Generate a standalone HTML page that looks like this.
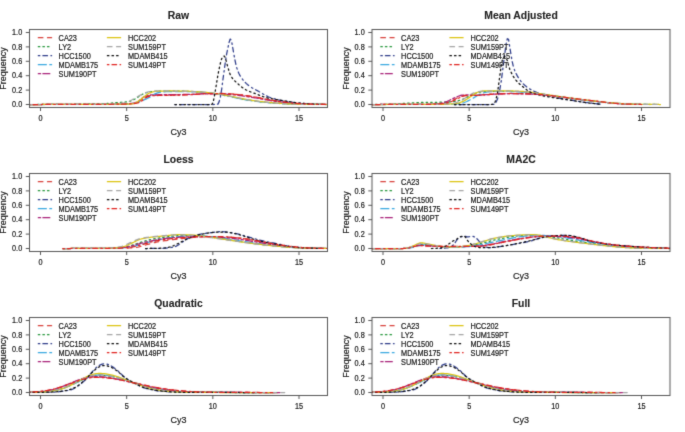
<!DOCTYPE html>
<html><head><meta charset="utf-8"><title>Cy3 density</title>
<style>
html,body{margin:0;padding:0;background:#fff;}
body{width:685px;height:432px;overflow:hidden;}
svg{display:block;font-family:"Liberation Sans", sans-serif;}
text{fill:#262626;stroke:#262626;stroke-width:0.2px;}
</style></head><body>
<svg width="685" height="432" viewBox="0 0 685 432">
<rect width="685" height="432" fill="#fff"/>
<defs>
<filter id="bl" x="0" y="0" width="685" height="432" filterUnits="userSpaceOnUse" color-interpolation-filters="sRGB"><feConvolveMatrix order="3" kernelMatrix="0.0169 0.0962 0.0169 0.0962 0.5476 0.0962 0.0169 0.0962 0.0169" divisor="1" edgeMode="duplicate"/></filter>
<filter id="blt" x="0" y="0" width="685" height="432" filterUnits="userSpaceOnUse" color-interpolation-filters="sRGB"><feConvolveMatrix order="3" kernelMatrix="0.0100 0.0800 0.0100 0.0800 0.6400 0.0800 0.0100 0.0800 0.0100" divisor="1" edgeMode="duplicate"/></filter>
<clipPath id="c00"><rect x="29.5" y="29.5" width="298" height="78"/></clipPath>
<clipPath id="c01"><rect x="29.5" y="173.5" width="298" height="78"/></clipPath>
<clipPath id="c02"><rect x="29.5" y="317.5" width="298" height="78"/></clipPath>
<clipPath id="c10"><rect x="372" y="29.5" width="298" height="78"/></clipPath>
<clipPath id="c11"><rect x="372" y="173.5" width="298" height="78"/></clipPath>
<clipPath id="c12"><rect x="372" y="317.5" width="298" height="78"/></clipPath>
</defs>
<g filter="url(#bl)">
<g clip-path="url(#c00)" fill="none" stroke-width="1.25" stroke-linejoin="round" stroke-linecap="round">
<polyline points="28.44,104.5 29.67,104.5 30.89,104.5 32.12,104.5 33.35,104.5 34.58,104.5 35.81,104.5 37.04,104.5 38.27,104.5 39.5,104.5 40.73,104.5 41.95,104.5 43.18,104.49 44.41,104.49 45.64,104.49 46.87,104.49 48.1,104.49 49.33,104.49 50.56,104.49 51.79,104.49 53.02,104.48 54.24,104.48 55.47,104.48 56.7,104.48 57.93,104.48 59.16,104.47 60.39,104.47 61.62,104.47 62.85,104.47 64.08,104.46 65.3,104.46 66.53,104.46 67.76,104.46 68.99,104.45 70.22,104.45 71.45,104.45 72.68,104.44 73.91,104.44 75.14,104.43 76.36,104.43 77.59,104.43 78.82,104.42 80.05,104.42 81.28,104.41 82.51,104.41 83.74,104.4 84.97,104.4 86.2,104.4 87.42,104.39 88.65,104.38 89.88,104.38 91.11,104.37 92.34,104.37 93.57,104.36 94.8,104.36 96.03,104.35 97.26,104.34 98.48,104.34 99.71,104.33 100.94,104.32 102.17,104.32 103.4,104.31 104.63,104.3 105.86,104.3 107.09,104.29 108.32,104.28 109.55,104.27 110.77,104.26 112,104.26 113.23,104.25 114.46,104.24 115.69,104.23 116.92,104.22 118.15,104.21 119.38,104.2 120.61,104.18 121.83,104.15 123.06,104.11 124.29,104.07 125.52,104.02 126.75,103.96 127.98,103.89 129.21,103.82 130.44,103.74 131.67,103.65 132.89,103.53 134.12,103.33 135.35,103.07 136.58,102.75 137.81,102.37 139.04,101.75 140.27,100.85 141.5,99.8 142.73,98.75 143.95,97.84 145.18,97.19 146.41,96.66 147.64,96.17 148.87,95.76 150.1,95.5 151.33,95.4 152.56,95.34 153.79,95.3 155.01,95.26 156.24,95.23 157.47,95.2 158.7,95.18 159.93,95.16 161.16,95.14 162.39,95.12 163.62,95.1 164.85,95.09 166.07,95.07 167.3,95.06 168.53,95.05 169.76,95.03 170.99,95.02 172.22,95.01 173.45,95 174.68,94.98 175.91,94.96 177.14,94.95 178.36,94.92 179.59,94.9 180.82,94.87 182.05,94.84 183.28,94.8 184.51,94.76 185.74,94.72 186.97,94.68 188.2,94.63 189.42,94.58 190.65,94.52 191.88,94.47 193.11,94.41 194.34,94.34 195.57,94.28 196.8,94.19 198.03,94.07 199.26,93.94 200.48,93.8 201.71,93.69 202.94,93.6 204.17,93.56 205.4,93.55 206.63,93.54 207.86,93.53 209.09,93.52 210.32,93.51 211.54,93.51 212.77,93.5 214,93.5 215.23,93.49 216.46,93.49 217.69,93.49 218.92,93.49 220.15,93.48 221.38,93.48 222.6,93.49 223.83,93.52 225.06,93.56 226.29,93.61 227.52,93.67 228.75,93.75 229.98,93.82 231.21,93.9 232.44,93.99 233.66,94.07 234.89,94.16 236.12,94.27 237.35,94.39 238.58,94.52 239.81,94.66 241.04,94.81 242.27,94.97 243.5,95.12 244.73,95.29 245.95,95.46 247.18,95.64 248.41,95.84 249.64,96.04 250.87,96.25 252.1,96.47 253.33,96.69 254.56,96.91 255.79,97.13 257.01,97.36 258.24,97.59 259.47,97.83 260.7,98.07 261.93,98.31 263.16,98.56 264.39,98.8 265.62,99.03 266.85,99.26 268.07,99.48 269.3,99.69 270.53,99.9 271.76,100.1 272.99,100.31 274.22,100.51 275.45,100.7 276.68,100.89 277.91,101.08 279.13,101.26 280.36,101.43 281.59,101.6 282.82,101.76 284.05,101.91 285.28,102.06 286.51,102.2 287.74,102.34 288.97,102.48 290.19,102.61 291.42,102.74 292.65,102.87 293.88,103.01 295.11,103.14 296.34,103.27 297.57,103.39 298.8,103.51 300.03,103.61 301.26,103.7 302.48,103.78 303.71,103.85 304.94,103.92 306.17,103.99 307.4,104.05 308.63,104.11 309.86,104.16 311.09,104.21 312.32,104.25 313.54,104.29 314.77,104.32 316,104.35 317.23,104.37 318.46,104.4 319.69,104.42 320.92,104.44 322.15,104.45 323.38,104.47 324.6,104.48 325.83,104.49 327.06,104.5 328.29,104.5" stroke="#d8403a" stroke-dasharray="4.60 4.60"/>
<polyline points="28.44,104.5 29.67,104.5 30.89,104.5 32.12,104.5 33.35,104.5 34.58,104.5 35.81,104.49 37.04,104.49 38.27,104.49 39.5,104.48 40.73,104.48 41.95,104.48 43.18,104.47 44.41,104.47 45.64,104.46 46.87,104.46 48.1,104.45 49.33,104.44 50.56,104.44 51.79,104.43 53.02,104.42 54.24,104.41 55.47,104.4 56.7,104.4 57.93,104.39 59.16,104.38 60.39,104.37 61.62,104.35 62.85,104.34 64.08,104.33 65.3,104.32 66.53,104.31 67.76,104.29 68.99,104.28 70.22,104.27 71.45,104.25 72.68,104.24 73.91,104.22 75.14,104.21 76.36,104.19 77.59,104.18 78.82,104.16 80.05,104.14 81.28,104.12 82.51,104.11 83.74,104.09 84.97,104.07 86.2,104.05 87.42,104.03 88.65,104.01 89.88,103.99 91.11,103.97 92.34,103.94 93.57,103.92 94.8,103.9 96.03,103.88 97.26,103.85 98.48,103.83 99.71,103.8 100.94,103.78 102.17,103.74 103.4,103.69 104.63,103.63 105.86,103.56 107.09,103.47 108.32,103.38 109.55,103.28 110.77,103.17 112,103.06 113.23,102.95 114.46,102.84 115.69,102.73 116.92,102.62 118.15,102.52 119.38,102.42 120.61,102.33 121.83,102.25 123.06,102.17 124.29,102.09 125.52,101.99 126.75,101.87 127.98,101.72 129.21,101.5 130.44,101.13 131.67,100.65 132.89,100.09 134.12,99.48 135.35,98.86 136.58,98.17 137.81,97.33 139.04,96.43 140.27,95.55 141.5,94.77 142.73,94.16 143.95,93.58 145.18,93.04 146.41,92.56 147.64,92.18 148.87,91.93 150.1,91.78 151.33,91.65 152.56,91.53 153.79,91.42 155.01,91.33 156.24,91.25 157.47,91.19 158.7,91.15 159.93,91.12 161.16,91.11 162.39,91.11 163.62,91.11 164.85,91.11 166.07,91.11 167.3,91.11 168.53,91.11 169.76,91.11 170.99,91.11 172.22,91.11 173.45,91.11 174.68,91.11 175.91,91.11 177.14,91.11 178.36,91.11 179.59,91.11 180.82,91.13 182.05,91.16 183.28,91.19 184.51,91.23 185.74,91.28 186.97,91.34 188.2,91.4 189.42,91.47 190.65,91.54 191.88,91.61 193.11,91.68 194.34,91.75 195.57,91.83 196.8,91.9 198.03,91.99 199.26,92.08 200.48,92.19 201.71,92.3 202.94,92.42 204.17,92.54 205.4,92.67 206.63,92.81 207.86,92.95 209.09,93.09 210.32,93.24 211.54,93.39 212.77,93.55 214,93.71 215.23,93.89 216.46,94.08 217.69,94.28 218.92,94.49 220.15,94.71 221.38,94.93 222.6,95.16 223.83,95.39 225.06,95.63 226.29,95.86 227.52,96.1 228.75,96.33 229.98,96.56 231.21,96.8 232.44,97.04 233.66,97.28 234.89,97.53 236.12,97.78 237.35,98.04 238.58,98.29 239.81,98.54 241.04,98.78 242.27,99.02 243.5,99.25 244.73,99.46 245.95,99.67 247.18,99.88 248.41,100.08 249.64,100.28 250.87,100.47 252.1,100.65 253.33,100.83 254.56,101.01 255.79,101.17 257.01,101.33 258.24,101.49 259.47,101.64 260.7,101.78 261.93,101.93 263.16,102.07 264.39,102.2 265.62,102.33 266.85,102.45 268.07,102.57 269.3,102.68 270.53,102.79 271.76,102.9 272.99,103.01 274.22,103.11 275.45,103.21 276.68,103.31 277.91,103.4 279.13,103.48 280.36,103.56 281.59,103.63 282.82,103.69 284.05,103.75 285.28,103.81 286.51,103.87 287.74,103.93 288.97,103.98 290.19,104.04 291.42,104.08 292.65,104.13 293.88,104.17 295.11,104.2 296.34,104.24 297.57,104.26 298.8,104.28 300.03,104.3 301.26,104.31 302.48,104.33 303.71,104.34 304.94,104.36 306.17,104.37 307.4,104.38 308.63,104.4 309.86,104.41 311.09,104.42 312.32,104.43 313.54,104.44 314.77,104.45 316,104.46 317.23,104.46 318.46,104.47 319.69,104.48 320.92,104.48 322.15,104.49 323.38,104.49 324.6,104.5 325.83,104.5 327.06,104.5 328.29,104.5" stroke="#24963a" stroke-dasharray="1.5 3.1"/>
<polyline points="174.92,104.5 176.15,104.5 177.38,104.5 178.6,104.5 179.83,104.5 181.06,104.5 182.29,104.5 183.52,104.5 184.75,104.5 185.98,104.5 187.21,104.5 188.44,104.5 189.66,104.5 190.89,104.5 192.12,104.5 193.35,104.5 194.58,104.5 195.81,104.5 197.04,104.5 198.27,104.5 199.5,104.5 200.72,104.5 201.95,104.5 203.18,104.5 204.41,104.5 205.64,104.5 206.87,104.5 208.1,104.5 209.33,104.5 210.56,104.5 211.78,104.5 213.01,104.5 214.24,104.48 215.47,104.43 216.7,104.33 217.93,104.18 219.16,101.61 220.39,96.7 221.62,89.72 222.84,80.19 224.07,71.38 225.3,62.48 226.53,54.65 227.76,48.51 228.99,42.74 230.22,39.06 231.45,40.18 232.68,47.46 233.91,54.4 235.13,60.76 236.36,66.49 237.59,70.41 238.82,73.31 240.05,75.69 241.28,77.65 242.51,79.33 243.74,80.82 244.97,82.16 246.19,83.36 247.42,84.45 248.65,85.44 249.88,86.35 251.11,87.19 252.34,87.95 253.57,88.66 254.8,89.33 256.03,89.99 257.25,90.64 258.48,91.32 259.71,92.02 260.94,92.74 262.17,93.47 263.4,94.19 264.63,94.89 265.86,95.56 267.09,96.19 268.31,96.75 269.54,97.24 270.77,97.68 272,98.08 273.23,98.46 274.46,98.82 275.69,99.16 276.92,99.48 278.15,99.77 279.37,100.05 280.6,100.31 281.83,100.55 283.06,100.79 284.29,101.01 285.52,101.23 286.75,101.44 287.98,101.65 289.21,101.84 290.44,102.03 291.66,102.2 292.89,102.37 294.12,102.53 295.35,102.68 296.58,102.82 297.81,102.95 299.04,103.06 300.27,103.17 301.5,103.28 302.72,103.38 303.95,103.48 305.18,103.57 306.41,103.66 307.64,103.74 308.87,103.82 310.1,103.9 311.33,103.97 312.56,104.04 313.78,104.1 315.01,104.16 316.24,104.21 317.47,104.26 318.7,104.31 319.93,104.36 321.16,104.4 322.39,104.44 323.62,104.47 324.84,104.5" stroke="#2c3a88" stroke-dasharray="1.5 3.1 4.6 3.45"/>
<polyline points="28.44,104.5 29.67,104.5 30.89,104.5 32.12,104.5 33.35,104.5 34.58,104.5 35.81,104.5 37.04,104.5 38.27,104.5 39.5,104.5 40.73,104.5 41.95,104.5 43.18,104.5 44.41,104.5 45.64,104.49 46.87,104.49 48.1,104.49 49.33,104.49 50.56,104.49 51.79,104.49 53.02,104.49 54.24,104.49 55.47,104.49 56.7,104.48 57.93,104.48 59.16,104.48 60.39,104.48 61.62,104.48 62.85,104.47 64.08,104.47 65.3,104.47 66.53,104.47 67.76,104.46 68.99,104.46 70.22,104.46 71.45,104.46 72.68,104.45 73.91,104.45 75.14,104.45 76.36,104.44 77.59,104.44 78.82,104.43 80.05,104.43 81.28,104.43 82.51,104.42 83.74,104.42 84.97,104.41 86.2,104.41 87.42,104.4 88.65,104.4 89.88,104.39 91.11,104.39 92.34,104.38 93.57,104.38 94.8,104.37 96.03,104.36 97.26,104.36 98.48,104.35 99.71,104.34 100.94,104.34 102.17,104.33 103.4,104.32 104.63,104.31 105.86,104.31 107.09,104.3 108.32,104.29 109.55,104.28 110.77,104.27 112,104.26 113.23,104.26 114.46,104.25 115.69,104.24 116.92,104.23 118.15,104.22 119.38,104.21 120.61,104.2 121.83,104.18 123.06,104.17 124.29,104.16 125.52,104.15 126.75,104.14 127.98,104.1 129.21,104 130.44,103.86 131.67,103.69 132.89,103.49 134.12,103.28 135.35,103.05 136.58,102.75 137.81,102.35 139.04,101.88 140.27,101.39 141.5,100.9 142.73,100.41 143.95,99.91 145.18,99.39 146.41,98.84 147.64,98.27 148.87,97.66 150.1,97.03 151.33,96.33 152.56,95.45 153.79,94.54 155.01,93.81 156.24,93.33 157.47,92.91 158.7,92.56 159.93,92.29 161.16,92.11 162.39,92 163.62,91.89 164.85,91.8 166.07,91.71 167.3,91.65 168.53,91.59 169.76,91.56 170.99,91.54 172.22,91.54 173.45,91.54 174.68,91.54 175.91,91.54 177.14,91.54 178.36,91.54 179.59,91.54 180.82,91.54 182.05,91.54 183.28,91.54 184.51,91.54 185.74,91.54 186.97,91.54 188.2,91.55 189.42,91.57 190.65,91.6 191.88,91.64 193.11,91.69 194.34,91.75 195.57,91.82 196.8,91.89 198.03,91.97 199.26,92.05 200.48,92.14 201.71,92.23 202.94,92.31 204.17,92.4 205.4,92.49 206.63,92.59 207.86,92.7 209.09,92.81 210.32,92.94 211.54,93.07 212.77,93.21 214,93.36 215.23,93.52 216.46,93.68 217.69,93.85 218.92,94.03 220.15,94.22 221.38,94.41 222.6,94.62 223.83,94.88 225.06,95.16 226.29,95.46 227.52,95.78 228.75,96.11 229.98,96.43 231.21,96.75 232.44,97.05 233.66,97.33 234.89,97.61 236.12,97.88 237.35,98.14 238.58,98.41 239.81,98.67 241.04,98.92 242.27,99.16 243.5,99.39 244.73,99.61 245.95,99.82 247.18,100.02 248.41,100.22 249.64,100.41 250.87,100.59 252.1,100.77 253.33,100.93 254.56,101.09 255.79,101.24 257.01,101.39 258.24,101.53 259.47,101.67 260.7,101.8 261.93,101.93 263.16,102.05 264.39,102.17 265.62,102.29 266.85,102.4 268.07,102.51 269.3,102.62 270.53,102.72 271.76,102.81 272.99,102.9 274.22,102.99 275.45,103.08 276.68,103.17 277.91,103.25 279.13,103.33 280.36,103.41 281.59,103.49 282.82,103.56 284.05,103.63 285.28,103.7 286.51,103.76 287.74,103.82 288.97,103.87 290.19,103.92 291.42,103.96 292.65,104 293.88,104.04 295.11,104.08 296.34,104.12 297.57,104.15 298.8,104.19 300.03,104.22 301.26,104.25 302.48,104.27 303.71,104.3 304.94,104.32 306.17,104.34 307.4,104.35 308.63,104.37 309.86,104.38 311.09,104.39 312.32,104.41 313.54,104.42 314.77,104.43 316,104.44 317.23,104.45 318.46,104.46 319.69,104.47 320.92,104.48 322.15,104.48 323.38,104.49 324.6,104.49 325.83,104.5 327.06,104.5 328.29,104.5" stroke="#38a8e0" stroke-dasharray="8.05 3.45"/>
<polyline points="28.44,104.5 29.67,104.5 30.89,104.5 32.12,104.5 33.35,104.5 34.58,104.5 35.81,104.5 37.04,104.5 38.27,104.5 39.5,104.5 40.73,104.5 41.95,104.49 43.18,104.49 44.41,104.49 45.64,104.49 46.87,104.49 48.1,104.49 49.33,104.49 50.56,104.49 51.79,104.48 53.02,104.48 54.24,104.48 55.47,104.48 56.7,104.48 57.93,104.47 59.16,104.47 60.39,104.47 61.62,104.47 62.85,104.46 64.08,104.46 65.3,104.46 66.53,104.45 67.76,104.45 68.99,104.45 70.22,104.44 71.45,104.44 72.68,104.44 73.91,104.43 75.14,104.43 76.36,104.42 77.59,104.42 78.82,104.42 80.05,104.41 81.28,104.41 82.51,104.4 83.74,104.4 84.97,104.39 86.2,104.38 87.42,104.38 88.65,104.37 89.88,104.37 91.11,104.36 92.34,104.36 93.57,104.35 94.8,104.34 96.03,104.34 97.26,104.33 98.48,104.32 99.71,104.31 100.94,104.31 102.17,104.3 103.4,104.29 104.63,104.28 105.86,104.28 107.09,104.27 108.32,104.26 109.55,104.25 110.77,104.24 112,104.23 113.23,104.22 114.46,104.21 115.69,104.2 116.92,104.18 118.15,104.15 119.38,104.12 120.61,104.07 121.83,104.02 123.06,103.96 124.29,103.9 125.52,103.83 126.75,103.75 127.98,103.66 129.21,103.57 130.44,103.46 131.67,103.31 132.89,103.1 134.12,102.82 135.35,102.5 136.58,102.12 137.81,101.61 139.04,100.77 140.27,99.72 141.5,98.62 142.73,97.63 143.95,96.91 145.18,96.37 146.41,95.86 147.64,95.43 148.87,95.12 150.1,94.99 151.33,94.93 152.56,94.88 153.79,94.84 155.01,94.81 156.24,94.78 157.47,94.76 158.7,94.74 159.93,94.72 161.16,94.71 162.39,94.69 163.62,94.68 164.85,94.67 166.07,94.66 167.3,94.65 168.53,94.64 169.76,94.63 170.99,94.63 172.22,94.62 173.45,94.61 174.68,94.6 175.91,94.59 177.14,94.58 178.36,94.56 179.59,94.55 180.82,94.53 182.05,94.51 183.28,94.49 184.51,94.47 185.74,94.45 186.97,94.42 188.2,94.39 189.42,94.37 190.65,94.34 191.88,94.31 193.11,94.27 194.34,94.24 195.57,94.2 196.8,94.16 198.03,94.1 199.26,94.03 200.48,93.96 201.71,93.9 202.94,93.86 204.17,93.84 205.4,93.84 206.63,93.85 207.86,93.85 209.09,93.86 210.32,93.86 211.54,93.87 212.77,93.88 214,93.89 215.23,93.91 216.46,93.92 217.69,93.93 218.92,93.95 220.15,93.97 221.38,93.99 222.6,94.01 223.83,94.06 225.06,94.12 226.29,94.19 227.52,94.28 228.75,94.37 229.98,94.47 231.21,94.58 232.44,94.69 233.66,94.79 234.89,94.91 236.12,95.05 237.35,95.19 238.58,95.35 239.81,95.52 241.04,95.69 242.27,95.87 243.5,96.05 244.73,96.22 245.95,96.4 247.18,96.59 248.41,96.78 249.64,96.97 250.87,97.17 252.1,97.38 253.33,97.58 254.56,97.79 255.79,98 257.01,98.21 258.24,98.43 259.47,98.66 260.7,98.88 261.93,99.11 263.16,99.34 264.39,99.57 265.62,99.79 266.85,100 268.07,100.2 269.3,100.39 270.53,100.58 271.76,100.76 272.99,100.94 274.22,101.12 275.45,101.3 276.68,101.47 277.91,101.63 279.13,101.79 280.36,101.95 281.59,102.1 282.82,102.25 284.05,102.4 285.28,102.54 286.51,102.68 287.74,102.81 288.97,102.93 290.19,103.04 291.42,103.15 292.65,103.26 293.88,103.36 295.11,103.46 296.34,103.55 297.57,103.64 298.8,103.72 300.03,103.8 301.26,103.87 302.48,103.93 303.71,103.98 304.94,104.03 306.17,104.08 307.4,104.12 308.63,104.16 309.86,104.2 311.09,104.24 312.32,104.27 313.54,104.3 314.77,104.33 316,104.35 317.23,104.37 318.46,104.39 319.69,104.41 320.92,104.43 322.15,104.45 323.38,104.46 324.6,104.48 325.83,104.49 327.06,104.49 328.29,104.5" stroke="#a82078" stroke-dasharray="2.30 2.30 6.90 2.30"/>
<polyline points="28.44,104.5 29.67,104.5 30.89,104.5 32.12,104.5 33.35,104.5 34.58,104.5 35.81,104.5 37.04,104.5 38.27,104.5 39.5,104.5 40.73,104.5 41.95,104.49 43.18,104.49 44.41,104.49 45.64,104.49 46.87,104.49 48.1,104.49 49.33,104.49 50.56,104.48 51.79,104.48 53.02,104.48 54.24,104.48 55.47,104.48 56.7,104.48 57.93,104.47 59.16,104.47 60.39,104.47 61.62,104.47 62.85,104.46 64.08,104.46 65.3,104.46 66.53,104.45 67.76,104.45 68.99,104.45 70.22,104.44 71.45,104.44 72.68,104.44 73.91,104.43 75.14,104.43 76.36,104.42 77.59,104.42 78.82,104.42 80.05,104.41 81.28,104.41 82.51,104.4 83.74,104.4 84.97,104.39 86.2,104.39 87.42,104.38 88.65,104.38 89.88,104.37 91.11,104.37 92.34,104.36 93.57,104.36 94.8,104.35 96.03,104.34 97.26,104.34 98.48,104.33 99.71,104.32 100.94,104.32 102.17,104.31 103.4,104.3 104.63,104.3 105.86,104.29 107.09,104.28 108.32,104.28 109.55,104.27 110.77,104.26 112,104.25 113.23,104.24 114.46,104.24 115.69,104.23 116.92,104.22 118.15,104.21 119.38,104.2 120.61,104.19 121.83,104.17 123.06,104.15 124.29,104.12 125.52,104.09 126.75,104.06 127.98,104.01 129.21,103.96 130.44,103.91 131.67,103.79 132.89,103.6 134.12,103.36 135.35,103.01 136.58,102.36 137.81,101.5 139.04,100.57 140.27,99.7 141.5,98.77 142.73,97.8 143.95,96.86 145.18,95.93 146.41,94.95 147.64,94.03 148.87,93.29 150.1,92.8 151.33,92.37 152.56,92 153.79,91.7 155.01,91.49 156.24,91.38 157.47,91.31 158.7,91.24 159.93,91.19 161.16,91.13 162.39,91.09 163.62,91.05 164.85,91.02 166.07,91 167.3,90.98 168.53,90.97 169.76,90.96 170.99,90.97 172.22,90.97 173.45,90.98 174.68,90.99 175.91,91 177.14,91.01 178.36,91.03 179.59,91.04 180.82,91.06 182.05,91.08 183.28,91.11 184.51,91.13 185.74,91.15 186.97,91.18 188.2,91.21 189.42,91.25 190.65,91.3 191.88,91.36 193.11,91.43 194.34,91.5 195.57,91.58 196.8,91.67 198.03,91.76 199.26,91.85 200.48,91.95 201.71,92.05 202.94,92.15 204.17,92.26 205.4,92.36 206.63,92.48 207.86,92.6 209.09,92.73 210.32,92.87 211.54,93.02 212.77,93.17 214,93.33 215.23,93.5 216.46,93.67 217.69,93.84 218.92,94.03 220.15,94.22 221.38,94.41 222.6,94.62 223.83,94.85 225.06,95.09 226.29,95.36 227.52,95.63 228.75,95.9 229.98,96.18 231.21,96.45 232.44,96.72 233.66,96.97 234.89,97.22 236.12,97.46 237.35,97.71 238.58,97.95 239.81,98.19 241.04,98.43 242.27,98.66 243.5,98.88 244.73,99.1 245.95,99.32 247.18,99.53 248.41,99.74 249.64,99.94 250.87,100.14 252.1,100.34 253.33,100.53 254.56,100.71 255.79,100.88 257.01,101.05 258.24,101.21 259.47,101.37 260.7,101.53 261.93,101.68 263.16,101.83 264.39,101.97 265.62,102.1 266.85,102.23 268.07,102.35 269.3,102.46 270.53,102.58 271.76,102.68 272.99,102.79 274.22,102.89 275.45,102.99 276.68,103.08 277.91,103.17 279.13,103.26 280.36,103.33 281.59,103.41 282.82,103.48 284.05,103.55 285.28,103.63 286.51,103.7 287.74,103.77 288.97,103.83 290.19,103.9 291.42,103.96 292.65,104.01 293.88,104.06 295.11,104.11 296.34,104.15 297.57,104.18 298.8,104.21 300.03,104.23 301.26,104.25 302.48,104.27 303.71,104.29 304.94,104.31 306.17,104.33 307.4,104.34 308.63,104.36 309.86,104.38 311.09,104.39 312.32,104.4 313.54,104.42 314.77,104.43 316,104.44 317.23,104.45 318.46,104.46 319.69,104.47 320.92,104.48 322.15,104.48 323.38,104.49 324.6,104.49 325.83,104.5 327.06,104.5 328.29,104.5" stroke="#dcc410"/>
<polyline points="28.44,104.5 29.67,104.5 30.89,104.5 32.12,104.5 33.35,104.5 34.58,104.5 35.81,104.5 37.04,104.5 38.27,104.5 39.5,104.5 40.73,104.49 41.95,104.49 43.18,104.49 44.41,104.49 45.64,104.49 46.87,104.49 48.1,104.49 49.33,104.48 50.56,104.48 51.79,104.48 53.02,104.48 54.24,104.47 55.47,104.47 56.7,104.47 57.93,104.46 59.16,104.46 60.39,104.46 61.62,104.45 62.85,104.45 64.08,104.45 65.3,104.44 66.53,104.44 67.76,104.43 68.99,104.43 70.22,104.42 71.45,104.42 72.68,104.41 73.91,104.41 75.14,104.4 76.36,104.39 77.59,104.39 78.82,104.38 80.05,104.37 81.28,104.37 82.51,104.36 83.74,104.35 84.97,104.35 86.2,104.34 87.42,104.33 88.65,104.32 89.88,104.31 91.11,104.3 92.34,104.29 93.57,104.29 94.8,104.28 96.03,104.27 97.26,104.26 98.48,104.25 99.71,104.23 100.94,104.22 102.17,104.21 103.4,104.2 104.63,104.19 105.86,104.18 107.09,104.16 108.32,104.15 109.55,104.14 110.77,104.12 112,104.08 113.23,104.02 114.46,103.95 115.69,103.86 116.92,103.76 118.15,103.65 119.38,103.53 120.61,103.39 121.83,103.24 123.06,103.08 124.29,102.87 125.52,102.57 126.75,102.19 127.98,101.75 129.21,101.28 130.44,100.72 131.67,100.03 132.89,99.28 134.12,98.55 135.35,97.85 136.58,97.15 137.81,96.45 139.04,95.78 140.27,95.16 141.5,94.55 142.73,93.97 143.95,93.45 145.18,92.98 146.41,92.5 147.64,92.07 148.87,91.73 150.1,91.52 151.33,91.37 152.56,91.24 153.79,91.13 155.01,91.05 156.24,90.99 157.47,90.96 158.7,90.96 159.93,90.96 161.16,90.97 162.39,90.97 163.62,90.97 164.85,90.97 166.07,90.98 167.3,90.98 168.53,90.98 169.76,90.99 170.99,91 172.22,91 173.45,91.01 174.68,91.01 175.91,91.02 177.14,91.03 178.36,91.04 179.59,91.05 180.82,91.07 182.05,91.09 183.28,91.13 184.51,91.16 185.74,91.21 186.97,91.26 188.2,91.31 189.42,91.37 190.65,91.43 191.88,91.49 193.11,91.55 194.34,91.62 195.57,91.68 196.8,91.75 198.03,91.83 199.26,91.92 200.48,92.02 201.71,92.12 202.94,92.24 204.17,92.35 205.4,92.48 206.63,92.61 207.86,92.75 209.09,92.89 210.32,93.03 211.54,93.18 212.77,93.33 214,93.49 215.23,93.67 216.46,93.86 217.69,94.07 218.92,94.28 220.15,94.51 221.38,94.74 222.6,94.98 223.83,95.22 225.06,95.46 226.29,95.7 227.52,95.95 228.75,96.19 229.98,96.42 231.21,96.65 232.44,96.9 233.66,97.14 234.89,97.39 236.12,97.65 237.35,97.9 238.58,98.15 239.81,98.4 241.04,98.64 242.27,98.87 243.5,99.1 244.73,99.32 245.95,99.53 247.18,99.73 248.41,99.93 249.64,100.13 250.87,100.32 252.1,100.5 253.33,100.68 254.56,100.86 255.79,101.03 257.01,101.19 258.24,101.35 259.47,101.51 260.7,101.67 261.93,101.82 263.16,101.97 264.39,102.11 265.62,102.25 266.85,102.37 268.07,102.49 269.3,102.61 270.53,102.72 271.76,102.83 272.99,102.94 274.22,103.04 275.45,103.14 276.68,103.23 277.91,103.32 279.13,103.4 280.36,103.48 281.59,103.55 282.82,103.62 284.05,103.69 285.28,103.76 286.51,103.82 287.74,103.89 288.97,103.95 290.19,104.01 291.42,104.06 292.65,104.11 293.88,104.16 295.11,104.2 296.34,104.23 297.57,104.26 298.8,104.28 300.03,104.3 301.26,104.31 302.48,104.33 303.71,104.34 304.94,104.36 306.17,104.37 307.4,104.38 308.63,104.4 309.86,104.41 311.09,104.42 312.32,104.43 313.54,104.44 314.77,104.45 316,104.46 317.23,104.47 318.46,104.47 319.69,104.48 320.92,104.48 322.15,104.49 323.38,104.49 324.6,104.5 325.83,104.5 327.06,104.5 328.29,104.5" stroke="#a4a4a4" stroke-dasharray="4.60 4.60"/>
<polyline points="174.92,104.5 176.15,104.5 177.38,104.5 178.6,104.5 179.83,104.5 181.06,104.5 182.29,104.5 183.52,104.5 184.75,104.5 185.98,104.5 187.21,104.5 188.44,104.5 189.66,104.5 190.89,104.5 192.12,104.5 193.35,104.5 194.58,104.5 195.81,104.5 197.04,104.5 198.27,104.5 199.5,104.5 200.72,104.5 201.95,104.5 203.18,104.5 204.41,104.5 205.64,104.5 206.87,104.5 208.1,104.5 209.33,104.5 210.56,104.45 211.78,104.3 213.01,102.92 214.24,96.89 215.47,89.81 216.7,82.52 217.93,74.89 219.16,68.8 220.39,63.23 221.62,58.84 222.84,56.84 224.07,55.99 225.3,57.4 226.53,62.45 227.76,66.7 228.99,71.02 230.22,74.6 231.45,76.84 232.68,78.55 233.91,79.97 235.13,81.2 236.36,82.34 237.59,83.48 238.82,84.6 240.05,85.68 241.28,86.7 242.51,87.65 243.74,88.51 244.97,89.28 246.19,89.95 247.42,90.55 248.65,91.1 249.88,91.62 251.11,92.1 252.34,92.56 253.57,93.01 254.8,93.46 256.03,93.91 257.25,94.39 258.48,94.87 259.71,95.37 260.94,95.85 262.17,96.32 263.4,96.75 264.63,97.14 265.86,97.47 267.09,97.77 268.31,98.05 269.54,98.32 270.77,98.57 272,98.81 273.23,99.03 274.46,99.25 275.69,99.46 276.92,99.66 278.15,99.86 279.37,100.05 280.6,100.25 281.83,100.44 283.06,100.64 284.29,100.83 285.52,101.04 286.75,101.25 287.98,101.46 289.21,101.67 290.44,101.87 291.66,102.08 292.89,102.27 294.12,102.46 295.35,102.63 296.58,102.8 297.81,102.94 299.04,103.06 300.27,103.18 301.5,103.28 302.72,103.39 303.95,103.48 305.18,103.58 306.41,103.66 307.64,103.75 308.87,103.83 310.1,103.9 311.33,103.97 312.56,104.04 313.78,104.1 315.01,104.16 316.24,104.21 317.47,104.26 318.7,104.31 319.93,104.36 321.16,104.4 322.39,104.44 323.62,104.47 324.84,104.5" stroke="#0a0a0a" stroke-dasharray="1.5 3.1"/>
<polyline points="28.44,104.5 29.67,104.5 30.89,104.5 32.12,104.5 33.35,104.5 34.58,104.5 35.81,104.5 37.04,104.5 38.27,104.5 39.5,104.5 40.73,104.5 41.95,104.5 43.18,104.49 44.41,104.49 45.64,104.49 46.87,104.49 48.1,104.49 49.33,104.49 50.56,104.49 51.79,104.48 53.02,104.48 54.24,104.48 55.47,104.48 56.7,104.48 57.93,104.47 59.16,104.47 60.39,104.47 61.62,104.47 62.85,104.47 64.08,104.46 65.3,104.46 66.53,104.46 67.76,104.45 68.99,104.45 70.22,104.45 71.45,104.44 72.68,104.44 73.91,104.44 75.14,104.43 76.36,104.43 77.59,104.42 78.82,104.42 80.05,104.42 81.28,104.41 82.51,104.41 83.74,104.4 84.97,104.4 86.2,104.39 87.42,104.39 88.65,104.38 89.88,104.38 91.11,104.37 92.34,104.37 93.57,104.36 94.8,104.35 96.03,104.35 97.26,104.34 98.48,104.34 99.71,104.33 100.94,104.32 102.17,104.32 103.4,104.31 104.63,104.3 105.86,104.29 107.09,104.29 108.32,104.28 109.55,104.27 110.77,104.26 112,104.25 113.23,104.25 114.46,104.24 115.69,104.23 116.92,104.22 118.15,104.21 119.38,104.2 120.61,104.18 121.83,104.16 123.06,104.13 124.29,104.1 125.52,104.06 126.75,104.01 127.98,103.96 129.21,103.9 130.44,103.83 131.67,103.76 132.89,103.68 134.12,103.59 135.35,103.42 136.58,103.18 137.81,102.88 139.04,102.52 140.27,102.05 141.5,101.21 142.73,100.15 143.95,99.03 145.18,98.03 146.41,97.33 147.64,96.87 148.87,96.45 150.1,96.11 151.33,95.85 152.56,95.71 153.79,95.65 155.01,95.59 156.24,95.55 157.47,95.51 158.7,95.48 159.93,95.45 161.16,95.43 162.39,95.4 163.62,95.38 164.85,95.36 166.07,95.34 167.3,95.32 168.53,95.3 169.76,95.29 170.99,95.27 172.22,95.25 173.45,95.23 174.68,95.21 175.91,95.19 177.14,95.17 178.36,95.14 179.59,95.11 180.82,95.07 182.05,95.04 183.28,95 184.51,94.95 185.74,94.9 186.97,94.85 188.2,94.8 189.42,94.74 190.65,94.69 191.88,94.62 193.11,94.56 194.34,94.49 195.57,94.42 196.8,94.33 198.03,94.22 199.26,94.09 200.48,93.95 201.71,93.84 202.94,93.75 204.17,93.7 205.4,93.68 206.63,93.66 207.86,93.65 209.09,93.63 210.32,93.62 211.54,93.6 212.77,93.59 214,93.58 215.23,93.57 216.46,93.57 217.69,93.56 218.92,93.56 220.15,93.56 221.38,93.56 222.6,93.57 223.83,93.59 225.06,93.64 226.29,93.7 227.52,93.77 228.75,93.85 229.98,93.94 231.21,94.03 232.44,94.12 233.66,94.22 234.89,94.32 236.12,94.43 237.35,94.56 238.58,94.7 239.81,94.85 241.04,95.01 242.27,95.17 243.5,95.34 244.73,95.5 245.95,95.67 247.18,95.85 248.41,96.04 249.64,96.24 250.87,96.44 252.1,96.64 253.33,96.85 254.56,97.06 255.79,97.28 257.01,97.5 258.24,97.73 259.47,97.96 260.7,98.21 261.93,98.45 263.16,98.7 264.39,98.94 265.62,99.18 266.85,99.4 268.07,99.62 269.3,99.83 270.53,100.04 271.76,100.25 272.99,100.45 274.22,100.65 275.45,100.84 276.68,101.04 277.91,101.22 279.13,101.4 280.36,101.57 281.59,101.74 282.82,101.9 284.05,102.06 285.28,102.21 286.51,102.35 287.74,102.49 288.97,102.62 290.19,102.75 291.42,102.88 292.65,103.01 293.88,103.13 295.11,103.26 296.34,103.38 297.57,103.49 298.8,103.6 300.03,103.7 301.26,103.78 302.48,103.85 303.71,103.92 304.94,103.98 306.17,104.03 307.4,104.09 308.63,104.14 309.86,104.18 311.09,104.23 312.32,104.26 313.54,104.3 314.77,104.33 316,104.35 317.23,104.37 318.46,104.4 319.69,104.42 320.92,104.44 322.15,104.45 323.38,104.47 324.6,104.48 325.83,104.49 327.06,104.5 328.29,104.5" stroke="#e0201c" stroke-dasharray="1.5 3.1 4.6 3.45"/>
</g>
<rect x="29.5" y="29.5" width="298" height="78" fill="none" stroke="#555555" stroke-width="1"/>
<line x1="25.8" y1="104.5" x2="29.5" y2="104.5" stroke="#555555" stroke-width="1"/>
<line x1="25.8" y1="90.1" x2="29.5" y2="90.1" stroke="#555555" stroke-width="1"/>
<line x1="25.8" y1="75.7" x2="29.5" y2="75.7" stroke="#555555" stroke-width="1"/>
<line x1="25.8" y1="61.3" x2="29.5" y2="61.3" stroke="#555555" stroke-width="1"/>
<line x1="25.8" y1="46.9" x2="29.5" y2="46.9" stroke="#555555" stroke-width="1"/>
<line x1="25.8" y1="32.5" x2="29.5" y2="32.5" stroke="#555555" stroke-width="1"/>
<line x1="40.5" y1="107.5" x2="40.5" y2="111" stroke="#555555" stroke-width="1"/>
<line x1="126.67" y1="107.5" x2="126.67" y2="111" stroke="#555555" stroke-width="1"/>
<line x1="212.83" y1="107.5" x2="212.83" y2="111" stroke="#555555" stroke-width="1"/>
<line x1="299" y1="107.5" x2="299" y2="111" stroke="#555555" stroke-width="1"/>
<line x1="38.3" y1="37.65" x2="51.6" y2="37.65" stroke="#d8403a" stroke-width="1.25" stroke-linecap="round" stroke-dasharray="4.60 4.60"/>
<line x1="38.3" y1="46.65" x2="51.6" y2="46.65" stroke="#24963a" stroke-width="1.25" stroke-linecap="round" stroke-dasharray="1.5 3.1"/>
<line x1="38.3" y1="55.65" x2="51.6" y2="55.65" stroke="#2c3a88" stroke-width="1.25" stroke-linecap="round" stroke-dasharray="1.5 3.1 4.6 3.45"/>
<line x1="38.3" y1="64.65" x2="51.6" y2="64.65" stroke="#38a8e0" stroke-width="1.25" stroke-linecap="round" stroke-dasharray="8.05 3.45"/>
<line x1="38.3" y1="73.65" x2="51.6" y2="73.65" stroke="#a82078" stroke-width="1.25" stroke-linecap="round" stroke-dasharray="2.30 2.30 6.90 2.30"/>
<line x1="107.4" y1="37.65" x2="120.6" y2="37.65" stroke="#dcc410" stroke-width="1.25" stroke-linecap="round"/>
<line x1="107.4" y1="46.65" x2="120.6" y2="46.65" stroke="#a4a4a4" stroke-width="1.25" stroke-linecap="round" stroke-dasharray="4.60 4.60"/>
<line x1="107.4" y1="55.65" x2="120.6" y2="55.65" stroke="#0a0a0a" stroke-width="1.25" stroke-linecap="round" stroke-dasharray="1.5 3.1"/>
<line x1="107.4" y1="64.65" x2="120.6" y2="64.65" stroke="#e0201c" stroke-width="1.25" stroke-linecap="round" stroke-dasharray="1.5 3.1 4.6 3.45"/>
<g clip-path="url(#c10)" fill="none" stroke-width="1.25" stroke-linejoin="round" stroke-linecap="round">
<polyline points="370.94,104.5 372.17,104.5 373.4,104.5 374.63,104.5 375.86,104.5 377.09,104.5 378.32,104.5 379.55,104.5 380.78,104.49 382.01,104.49 383.23,104.49 384.46,104.49 385.69,104.49 386.92,104.49 388.15,104.48 389.38,104.48 390.61,104.48 391.84,104.47 393.07,104.47 394.3,104.47 395.53,104.46 396.76,104.46 397.99,104.46 399.22,104.45 400.45,104.45 401.68,104.44 402.91,104.44 404.14,104.43 405.37,104.43 406.6,104.42 407.83,104.42 409.06,104.41 410.29,104.4 411.52,104.4 412.75,104.39 413.98,104.38 415.21,104.38 416.44,104.37 417.67,104.36 418.9,104.35 420.13,104.34 421.36,104.33 422.59,104.33 423.82,104.32 425.05,104.31 426.28,104.3 427.51,104.29 428.74,104.27 429.97,104.25 431.2,104.22 432.43,104.18 433.66,104.14 434.89,104.09 436.12,104.03 437.35,103.97 438.58,103.9 439.81,103.8 441.04,103.67 442.27,103.5 443.5,103.32 444.73,103.07 445.96,102.76 447.19,102.39 448.41,102 449.64,101.57 450.87,101.07 452.1,100.52 453.33,99.97 454.56,99.39 455.79,98.76 457.02,98.13 458.25,97.54 459.48,97.02 460.71,96.5 461.94,96.01 463.17,95.64 464.4,95.45 465.63,95.33 466.86,95.22 468.09,95.16 469.32,95.14 470.55,95.14 471.78,95.14 473.01,95.14 474.24,95.14 475.47,95.14 476.7,95.13 477.93,95.1 479.16,95.03 480.39,94.93 481.62,94.83 482.85,94.71 484.08,94.6 485.31,94.5 486.54,94.41 487.77,94.33 489,94.25 490.23,94.17 491.46,94.09 492.69,94.01 493.92,93.93 495.15,93.86 496.38,93.8 497.61,93.75 498.84,93.71 500.07,93.68 501.3,93.64 502.53,93.61 503.76,93.58 504.99,93.56 506.22,93.53 507.45,93.52 508.68,93.5 509.91,93.49 511.14,93.48 512.36,93.48 513.59,93.49 514.82,93.5 516.05,93.51 517.28,93.53 518.51,93.54 519.74,93.57 520.97,93.59 522.2,93.61 523.43,93.64 524.66,93.67 525.89,93.7 527.12,93.73 528.35,93.77 529.58,93.82 530.81,93.87 532.04,93.94 533.27,94 534.5,94.08 535.73,94.15 536.96,94.24 538.19,94.32 539.42,94.41 540.65,94.51 541.88,94.62 543.11,94.74 544.34,94.88 545.57,95.02 546.8,95.16 548.03,95.31 549.26,95.46 550.49,95.62 551.72,95.78 552.95,95.93 554.18,96.08 555.41,96.23 556.64,96.38 557.87,96.53 559.1,96.68 560.33,96.83 561.56,96.99 562.79,97.14 564.02,97.3 565.25,97.46 566.48,97.62 567.71,97.77 568.94,97.93 570.17,98.08 571.4,98.24 572.63,98.39 573.86,98.54 575.09,98.69 576.32,98.84 577.54,98.98 578.77,99.13 580,99.28 581.23,99.43 582.46,99.57 583.69,99.72 584.92,99.87 586.15,100.01 587.38,100.16 588.61,100.3 589.84,100.45 591.07,100.59 592.3,100.74 593.53,100.88 594.76,101.02 595.99,101.17 597.22,101.31 598.45,101.46 599.68,101.62 600.91,101.78 602.14,101.94 603.37,102.1 604.6,102.25 605.83,102.41 607.06,102.56 608.29,102.71 609.52,102.85 610.75,102.99 611.98,103.11 613.21,103.23 614.44,103.33 615.67,103.42 616.9,103.5 618.13,103.58 619.36,103.66 620.59,103.73 621.82,103.8 623.05,103.87 624.28,103.93 625.51,103.99 626.74,104.05 627.97,104.1 629.2,104.15 630.43,104.2 631.66,104.24 632.89,104.28 634.12,104.32 635.35,104.36 636.58,104.39 637.81,104.42 639.04,104.45 640.27,104.48 641.5,104.5" stroke="#d8403a" stroke-dasharray="4.60 4.60"/>
<polyline points="370.94,104.5 372.16,104.5 373.39,104.49 374.62,104.48 375.84,104.47 377.07,104.46 378.3,104.44 379.52,104.42 380.75,104.4 381.98,104.38 383.2,104.35 384.43,104.33 385.66,104.3 386.88,104.27 388.11,104.23 389.34,104.2 390.56,104.17 391.79,104.13 393.02,104.09 394.25,104.04 395.47,103.97 396.7,103.9 397.93,103.81 399.15,103.73 400.38,103.64 401.61,103.55 402.83,103.45 404.06,103.36 405.29,103.28 406.51,103.19 407.74,103.12 408.97,103.05 410.19,102.99 411.42,102.93 412.65,102.86 413.87,102.8 415.1,102.74 416.33,102.68 417.55,102.62 418.78,102.56 420.01,102.51 421.23,102.46 422.46,102.42 423.69,102.39 424.91,102.36 426.14,102.34 427.37,102.32 428.59,102.31 429.82,102.3 431.05,102.29 432.27,102.28 433.5,102.28 434.73,102.27 435.95,102.27 437.18,102.26 438.41,102.25 439.64,102.24 440.86,102.23 442.09,102.21 443.32,102.2 444.54,102.17 445.77,102.12 447,102.06 448.22,101.98 449.45,101.89 450.68,101.78 451.9,101.66 453.13,101.53 454.36,101.39 455.58,101.23 456.81,101.02 458.04,100.74 459.26,100.4 460.49,100.01 461.72,99.59 462.94,99.14 464.17,98.67 465.4,98.11 466.62,97.45 467.85,96.75 469.08,96.05 470.3,95.41 471.53,94.86 472.76,94.34 473.98,93.84 475.21,93.37 476.44,92.97 477.66,92.65 478.89,92.38 480.12,92.12 481.34,91.89 482.57,91.71 483.8,91.58 485.03,91.53 486.25,91.5 487.48,91.48 488.71,91.45 489.93,91.43 491.16,91.41 492.39,91.4 493.61,91.38 494.84,91.37 496.07,91.36 497.29,91.35 498.52,91.34 499.75,91.33 500.97,91.33 502.2,91.33 503.43,91.32 504.65,91.33 505.88,91.33 507.11,91.35 508.33,91.37 509.56,91.4 510.79,91.43 512.01,91.46 513.24,91.5 514.47,91.55 515.69,91.6 516.92,91.65 518.15,91.7 519.37,91.76 520.6,91.82 521.83,91.89 523.05,91.96 524.28,92.02 525.51,92.1 526.73,92.17 527.96,92.28 529.19,92.41 530.42,92.55 531.64,92.72 532.87,92.89 534.1,93.07 535.32,93.26 536.55,93.45 537.78,93.63 539,93.8 540.23,93.97 541.46,94.14 542.68,94.31 543.91,94.49 545.14,94.66 546.36,94.84 547.59,95.02 548.82,95.2 550.04,95.38 551.27,95.56 552.5,95.74 553.72,95.92 554.95,96.09 556.18,96.27 557.4,96.45 558.63,96.62 559.86,96.8 561.08,96.98 562.31,97.16 563.54,97.34 564.76,97.52 565.99,97.69 567.22,97.87 568.44,98.04 569.67,98.21 570.9,98.38 572.12,98.54 573.35,98.7 574.58,98.86 575.81,99.01 577.03,99.17 578.26,99.32 579.49,99.47 580.71,99.62 581.94,99.77 583.17,99.92 584.39,100.07 585.62,100.21 586.85,100.36 588.07,100.5 589.3,100.64 590.53,100.78 591.75,100.92 592.98,101.05 594.21,101.19 595.43,101.32 596.66,101.46 597.89,101.59 599.11,101.73 600.34,101.87 601.57,102.01 602.79,102.14 604.02,102.28 605.25,102.42 606.47,102.55 607.7,102.68 608.93,102.8 610.15,102.91 611.38,103.03 612.61,103.13 613.83,103.22 615.06,103.31 616.29,103.39 617.51,103.46 618.74,103.53 619.97,103.6 621.2,103.67 622.42,103.74 623.65,103.8 624.88,103.85 626.1,103.91 627.33,103.96 628.56,104.01 629.78,104.05 631.01,104.09 632.24,104.12 633.46,104.15 634.69,104.18 635.92,104.21 637.14,104.24 638.37,104.26 639.6,104.28 640.82,104.31 642.05,104.33 643.28,104.34 644.5,104.36 645.73,104.38 646.96,104.39 648.18,104.41 649.41,104.42 650.64,104.43 651.86,104.44 653.09,104.45 654.32,104.46 655.54,104.47 656.77,104.48 658,104.49 659.22,104.5 660.45,104.5" stroke="#24963a" stroke-dasharray="1.5 3.1"/>
<polyline points="454.52,104.5 455.74,104.5 456.97,104.5 458.2,104.5 459.43,104.5 460.66,104.5 461.88,104.5 463.11,104.5 464.34,104.5 465.57,104.5 466.8,104.5 468.02,104.5 469.25,104.5 470.48,104.5 471.71,104.5 472.93,104.5 474.16,104.5 475.39,104.5 476.62,104.5 477.85,104.5 479.07,104.5 480.3,104.5 481.53,104.5 482.76,104.5 483.99,104.5 485.21,104.5 486.44,104.5 487.67,104.5 488.9,104.5 490.12,104.5 491.35,104.5 492.58,104.46 493.81,104.3 495.04,103.76 496.26,101.82 497.49,99.01 498.72,94.82 499.95,88.65 501.18,81.48 502.4,72.33 503.63,62.46 504.86,53.31 506.09,43.94 507.31,38.73 508.54,39.26 509.77,47.04 511,54.58 512.23,61.65 513.45,66.89 514.68,70.39 515.91,73.27 517.14,75.65 518.37,77.68 519.59,79.49 520.82,81.12 522.05,82.58 523.28,83.9 524.5,85.07 525.73,86.11 526.96,87.05 528.19,87.92 529.42,88.73 530.64,89.47 531.87,90.15 533.1,90.77 534.33,91.33 535.56,91.83 536.78,92.29 538.01,92.71 539.24,93.1 540.47,93.47 541.69,93.81 542.92,94.14 544.15,94.47 545.38,94.79 546.61,95.11 547.83,95.44 549.06,95.76 550.29,96.07 551.52,96.38 552.75,96.68 553.97,96.97 555.2,97.25 556.43,97.53 557.66,97.79 558.88,98.04 560.11,98.28 561.34,98.51 562.57,98.74 563.8,98.95 565.02,99.16 566.25,99.37 567.48,99.57 568.71,99.77 569.93,99.97 571.16,100.18 572.39,100.38 573.62,100.59 574.85,100.8 576.07,101.01 577.3,101.21 578.53,101.42 579.76,101.61 580.99,101.81 582.21,101.99 583.44,102.17 584.67,102.35 585.9,102.51 587.12,102.66 588.35,102.8 589.58,102.94 590.81,103.07 592.04,103.21 593.26,103.34 594.49,103.48 595.72,103.62 596.95,103.78 598.18,103.94 599.4,104.12 600.63,104.3 601.86,104.5" stroke="#2c3a88" stroke-dasharray="1.5 3.1 4.6 3.45"/>
<polyline points="370.94,104.5 372.17,104.5 373.4,104.5 374.63,104.5 375.86,104.5 377.09,104.5 378.32,104.5 379.55,104.5 380.78,104.5 382.01,104.5 383.24,104.5 384.47,104.5 385.7,104.5 386.92,104.49 388.15,104.49 389.38,104.49 390.61,104.49 391.84,104.49 393.07,104.49 394.3,104.49 395.53,104.49 396.76,104.48 397.99,104.48 399.22,104.48 400.45,104.48 401.68,104.48 402.91,104.47 404.14,104.47 405.37,104.47 406.6,104.47 407.83,104.46 409.06,104.46 410.29,104.46 411.52,104.45 412.75,104.45 413.98,104.45 415.21,104.44 416.44,104.44 417.67,104.44 418.9,104.43 420.13,104.43 421.36,104.42 422.59,104.42 423.82,104.41 425.05,104.41 426.28,104.41 427.51,104.4 428.74,104.39 429.97,104.39 431.2,104.38 432.43,104.38 433.66,104.37 434.89,104.37 436.12,104.36 437.35,104.35 438.58,104.35 439.81,104.34 441.04,104.33 442.27,104.32 443.5,104.32 444.73,104.31 445.96,104.3 447.19,104.29 448.42,104.28 449.65,104.27 450.88,104.23 452.11,104.17 453.34,104.09 454.57,104 455.8,103.89 457.03,103.76 458.26,103.62 459.49,103.46 460.72,103.29 461.95,103.11 463.18,102.88 464.41,102.51 465.63,102.04 466.86,101.48 468.09,100.88 469.32,100.25 470.55,99.62 471.78,98.99 473.01,98.26 474.24,97.46 475.47,96.65 476.7,95.87 477.93,95.16 479.16,94.56 480.39,94.07 481.62,93.61 482.85,93.16 484.08,92.76 485.31,92.41 486.54,92.13 487.77,91.94 489,91.82 490.23,91.71 491.46,91.61 492.69,91.53 493.92,91.46 495.15,91.42 496.38,91.4 497.61,91.4 498.84,91.4 500.07,91.4 501.3,91.41 502.53,91.42 503.76,91.43 504.99,91.44 506.22,91.46 507.45,91.47 508.68,91.49 509.91,91.5 511.14,91.52 512.37,91.54 513.6,91.57 514.83,91.61 516.06,91.66 517.29,91.72 518.52,91.78 519.75,91.86 520.98,91.94 522.21,92.03 523.44,92.12 524.67,92.22 525.9,92.32 527.13,92.42 528.36,92.53 529.59,92.63 530.82,92.74 532.05,92.86 533.28,92.99 534.51,93.13 535.74,93.28 536.97,93.44 538.2,93.6 539.43,93.76 540.66,93.93 541.89,94.09 543.12,94.26 544.34,94.42 545.57,94.59 546.8,94.77 548.03,94.95 549.26,95.13 550.49,95.32 551.72,95.51 552.95,95.7 554.18,95.89 555.41,96.07 556.64,96.26 557.87,96.45 559.1,96.63 560.33,96.81 561.56,96.99 562.79,97.18 564.02,97.36 565.25,97.55 566.48,97.73 567.71,97.91 568.94,98.1 570.17,98.28 571.4,98.45 572.63,98.63 573.86,98.8 575.09,98.97 576.32,99.14 577.55,99.31 578.78,99.47 580.01,99.64 581.24,99.8 582.47,99.96 583.7,100.12 584.93,100.28 586.16,100.44 587.39,100.6 588.62,100.75 589.85,100.9 591.08,101.05 592.31,101.19 593.54,101.33 594.77,101.47 596,101.6 597.23,101.73 598.46,101.86 599.69,101.99 600.92,102.12 602.15,102.25 603.38,102.38 604.61,102.5 605.84,102.62 607.07,102.74 608.3,102.85 609.53,102.96 610.76,103.07 611.99,103.17 613.22,103.26 614.45,103.34 615.68,103.42 616.91,103.5 618.14,103.57 619.37,103.64 620.6,103.71 621.83,103.77 623.05,103.84 624.28,103.9 625.51,103.95 626.74,104.01 627.97,104.06 629.2,104.1 630.43,104.14 631.66,104.18 632.89,104.21 634.12,104.24 635.35,104.27 636.58,104.3 637.81,104.33 639.04,104.36 640.27,104.38 641.5,104.4 642.73,104.43 643.96,104.45 645.19,104.46 646.42,104.48 647.65,104.49 648.88,104.5 650.11,104.5" stroke="#38a8e0" stroke-dasharray="8.05 3.45"/>
<polyline points="370.94,104.5 372.17,104.5 373.4,104.5 374.63,104.5 375.86,104.5 377.09,104.5 378.32,104.5 379.55,104.5 380.78,104.49 382.01,104.49 383.23,104.49 384.46,104.49 385.69,104.49 386.92,104.49 388.15,104.48 389.38,104.48 390.61,104.48 391.84,104.47 393.07,104.47 394.3,104.47 395.53,104.46 396.76,104.46 397.99,104.46 399.22,104.45 400.45,104.45 401.68,104.44 402.91,104.44 404.14,104.43 405.37,104.43 406.6,104.42 407.83,104.41 409.06,104.41 410.29,104.4 411.52,104.39 412.75,104.38 413.98,104.38 415.21,104.37 416.44,104.36 417.67,104.35 418.9,104.34 420.13,104.33 421.36,104.32 422.59,104.31 423.82,104.3 425.05,104.29 426.28,104.28 427.51,104.26 428.74,104.23 429.97,104.18 431.2,104.12 432.43,104.05 433.66,103.98 434.89,103.89 436.12,103.8 437.35,103.7 438.58,103.55 439.81,103.37 441.04,103.16 442.27,102.92 443.5,102.59 444.73,102.2 445.96,101.77 447.19,101.31 448.41,100.79 449.64,100.2 450.87,99.6 452.1,99.02 453.33,98.43 454.56,97.83 455.79,97.26 457.02,96.75 458.25,96.28 459.48,95.81 460.71,95.41 461.94,95.17 463.17,95.08 464.4,95.02 465.63,94.97 466.86,94.94 468.09,94.92 469.32,94.94 470.55,95 471.78,95.08 473.01,95.16 474.24,95.23 475.47,95.28 476.7,95.28 477.93,95.24 479.16,95.18 480.39,95.09 481.62,95 482.85,94.9 484.08,94.82 485.31,94.74 486.54,94.67 487.77,94.59 489,94.51 490.23,94.43 491.46,94.35 492.69,94.27 493.92,94.2 495.15,94.13 496.38,94.07 497.61,94.02 498.84,93.98 500.07,93.94 501.3,93.9 502.53,93.86 503.76,93.83 504.99,93.79 506.22,93.76 507.45,93.74 508.68,93.72 509.91,93.71 511.14,93.7 512.36,93.7 513.59,93.71 514.82,93.71 516.05,93.73 517.28,93.74 518.51,93.76 519.74,93.78 520.97,93.81 522.2,93.83 523.43,93.86 524.66,93.88 525.89,93.91 527.12,93.95 528.35,93.99 529.58,94.03 530.81,94.09 532.04,94.15 533.27,94.22 534.5,94.29 535.73,94.37 536.96,94.45 538.19,94.53 539.42,94.62 540.65,94.72 541.88,94.84 543.11,94.96 544.34,95.09 545.57,95.23 546.8,95.38 548.03,95.53 549.26,95.68 550.49,95.84 551.72,95.99 552.95,96.15 554.18,96.3 555.41,96.45 556.64,96.59 557.87,96.74 559.1,96.89 560.33,97.05 561.56,97.21 562.79,97.36 564.02,97.52 565.25,97.68 566.48,97.84 567.71,97.99 568.94,98.15 570.17,98.3 571.4,98.45 572.63,98.6 573.86,98.75 575.09,98.9 576.32,99.04 577.54,99.19 578.77,99.34 580,99.48 581.23,99.62 582.46,99.77 583.69,99.91 584.92,100.05 586.15,100.19 587.38,100.33 588.61,100.47 589.84,100.61 591.07,100.75 592.3,100.89 593.53,101.03 594.76,101.17 595.99,101.31 597.22,101.45 598.45,101.6 599.68,101.75 600.91,101.9 602.14,102.05 603.37,102.21 604.6,102.36 605.83,102.51 607.06,102.66 608.29,102.8 609.52,102.94 610.75,103.07 611.98,103.19 613.21,103.3 614.44,103.4 615.67,103.49 616.9,103.58 618.13,103.66 619.36,103.74 620.59,103.81 621.82,103.89 623.05,103.96 624.28,104.02 625.51,104.08 626.74,104.14 627.97,104.19 629.2,104.24 630.43,104.29 631.66,104.32 632.89,104.36 634.12,104.38 635.35,104.41 636.58,104.44 637.81,104.46 639.04,104.48 640.27,104.49 641.5,104.5" stroke="#a82078" stroke-dasharray="2.30 2.30 6.90 2.30"/>
<polyline points="370.94,104.5 372.16,104.5 373.39,104.5 374.62,104.5 375.84,104.5 377.07,104.5 378.3,104.5 379.52,104.5 380.75,104.5 381.98,104.5 383.2,104.5 384.43,104.5 385.66,104.49 386.88,104.49 388.11,104.49 389.34,104.49 390.56,104.49 391.79,104.49 393.02,104.49 394.25,104.48 395.47,104.48 396.7,104.48 397.93,104.48 399.15,104.48 400.38,104.47 401.61,104.47 402.83,104.47 404.06,104.47 405.29,104.46 406.51,104.46 407.74,104.46 408.97,104.45 410.19,104.45 411.42,104.44 412.65,104.44 413.87,104.44 415.1,104.43 416.33,104.43 417.55,104.42 418.78,104.42 420.01,104.41 421.23,104.41 422.46,104.4 423.69,104.4 424.91,104.39 426.14,104.39 427.37,104.38 428.59,104.37 429.82,104.37 431.05,104.36 432.27,104.35 433.5,104.35 434.73,104.34 435.95,104.33 437.18,104.33 438.41,104.32 439.64,104.31 440.86,104.3 442.09,104.29 443.32,104.28 444.54,104.27 445.77,104.24 447,104.19 448.22,104.13 449.45,104.06 450.68,103.97 451.9,103.88 453.13,103.76 454.36,103.64 455.58,103.5 456.81,103.36 458.04,103.18 459.26,102.88 460.49,102.45 461.72,101.95 462.94,101.39 464.17,100.82 465.4,100.14 466.62,99.34 467.85,98.49 469.08,97.63 470.3,96.84 471.53,96 472.76,95.13 473.98,94.26 475.21,93.46 476.44,92.77 477.66,92.25 478.89,91.92 480.12,91.61 481.34,91.33 482.57,91.09 483.8,90.91 485.03,90.79 486.25,90.75 487.48,90.75 488.71,90.75 489.93,90.75 491.16,90.75 492.39,90.76 493.61,90.76 494.84,90.77 496.07,90.77 497.29,90.78 498.52,90.79 499.75,90.79 500.97,90.8 502.2,90.81 503.43,90.82 504.65,90.83 505.88,90.84 507.11,90.86 508.33,90.89 509.56,90.91 510.79,90.94 512.01,90.98 513.24,91.02 514.47,91.06 515.69,91.1 516.92,91.15 518.15,91.21 519.37,91.26 520.6,91.32 521.83,91.38 523.05,91.45 524.28,91.52 525.51,91.59 526.73,91.67 527.96,91.79 529.19,91.93 530.42,92.1 531.64,92.29 532.87,92.49 534.1,92.7 535.32,92.91 536.55,93.12 537.78,93.32 539,93.51 540.23,93.69 541.46,93.87 542.68,94.04 543.91,94.22 545.14,94.39 546.36,94.57 547.59,94.75 548.82,94.92 550.04,95.1 551.27,95.27 552.5,95.45 553.72,95.63 554.95,95.8 556.18,95.98 557.4,96.16 558.63,96.35 559.86,96.53 561.08,96.71 562.31,96.9 563.54,97.08 564.76,97.27 565.99,97.45 567.22,97.63 568.44,97.81 569.67,97.98 570.9,98.15 572.12,98.32 573.35,98.49 574.58,98.65 575.81,98.81 577.03,98.97 578.26,99.13 579.49,99.28 580.71,99.44 581.94,99.59 583.17,99.74 584.39,99.89 585.62,100.04 586.85,100.19 588.07,100.34 589.3,100.48 590.53,100.62 591.75,100.77 592.98,100.9 594.21,101.04 595.43,101.18 596.66,101.31 597.89,101.45 599.11,101.59 600.34,101.72 601.57,101.86 602.79,102 604.02,102.13 605.25,102.27 606.47,102.4 607.7,102.52 608.93,102.64 610.15,102.76 611.38,102.87 612.61,102.98 613.83,103.07 615.06,103.16 616.29,103.25 617.51,103.33 618.74,103.4 619.97,103.48 621.2,103.55 622.42,103.62 623.65,103.68 624.88,103.75 626.1,103.81 627.33,103.86 628.56,103.91 629.78,103.96 631.01,104.01 632.24,104.05 633.46,104.09 634.69,104.12 635.92,104.15 637.14,104.19 638.37,104.22 639.6,104.25 640.82,104.28 642.05,104.3 643.28,104.33 644.5,104.35 645.73,104.37 646.96,104.39 648.18,104.41 649.41,104.42 650.64,104.43 651.86,104.45 653.09,104.46 654.32,104.47 655.54,104.48 656.77,104.48 658,104.49 659.22,104.5 660.45,104.5" stroke="#dcc410"/>
<polyline points="370.94,104.5 372.16,104.5 373.39,104.5 374.62,104.5 375.84,104.5 377.07,104.5 378.3,104.5 379.52,104.5 380.75,104.5 381.98,104.5 383.2,104.49 384.43,104.49 385.66,104.49 386.88,104.49 388.11,104.49 389.34,104.49 390.56,104.49 391.79,104.48 393.02,104.48 394.25,104.48 395.47,104.48 396.7,104.48 397.93,104.47 399.15,104.47 400.38,104.47 401.61,104.46 402.83,104.46 404.06,104.46 405.29,104.45 406.51,104.45 407.74,104.45 408.97,104.44 410.19,104.44 411.42,104.43 412.65,104.43 413.87,104.42 415.1,104.42 416.33,104.41 417.55,104.41 418.78,104.4 420.01,104.4 421.23,104.39 422.46,104.38 423.69,104.38 424.91,104.37 426.14,104.36 427.37,104.36 428.59,104.35 429.82,104.34 431.05,104.33 432.27,104.33 433.5,104.32 434.73,104.31 435.95,104.3 437.18,104.29 438.41,104.28 439.64,104.26 440.86,104.23 442.09,104.19 443.32,104.13 444.54,104.06 445.77,103.98 447,103.89 448.22,103.79 449.45,103.67 450.68,103.55 451.9,103.41 453.13,103.27 454.36,103.09 455.58,102.81 456.81,102.42 458.04,101.96 459.26,101.45 460.49,100.93 461.72,100.33 462.94,99.61 464.17,98.82 465.4,98.03 466.62,97.27 467.85,96.51 469.08,95.69 470.3,94.86 471.53,94.07 472.76,93.37 473.98,92.79 475.21,92.4 476.44,92.11 477.66,91.85 478.89,91.61 480.12,91.4 481.34,91.25 482.57,91.14 483.8,91.11 485.03,91.11 486.25,91.11 487.48,91.11 488.71,91.11 489.93,91.11 491.16,91.11 492.39,91.11 493.61,91.11 494.84,91.11 496.07,91.11 497.29,91.11 498.52,91.11 499.75,91.11 500.97,91.11 502.2,91.11 503.43,91.11 504.65,91.11 505.88,91.12 507.11,91.13 508.33,91.15 509.56,91.18 510.79,91.21 512.01,91.24 513.24,91.28 514.47,91.33 515.69,91.38 516.92,91.43 518.15,91.49 519.37,91.54 520.6,91.61 521.83,91.67 523.05,91.74 524.28,91.81 525.51,91.88 526.73,91.96 527.96,92.07 529.19,92.2 530.42,92.36 531.64,92.53 532.87,92.71 534.1,92.9 535.32,93.1 536.55,93.29 537.78,93.48 539,93.66 540.23,93.83 541.46,94 542.68,94.17 543.91,94.35 545.14,94.52 546.36,94.7 547.59,94.88 548.82,95.06 550.04,95.23 551.27,95.41 552.5,95.59 553.72,95.77 554.95,95.95 556.18,96.13 557.4,96.31 558.63,96.49 559.86,96.68 561.08,96.86 562.31,97.05 563.54,97.23 564.76,97.41 565.99,97.6 567.22,97.78 568.44,97.96 569.67,98.13 570.9,98.3 572.12,98.47 573.35,98.63 574.58,98.79 575.81,98.95 577.03,99.1 578.26,99.26 579.49,99.41 580.71,99.56 581.94,99.71 583.17,99.86 584.39,100.01 585.62,100.15 586.85,100.3 588.07,100.44 589.3,100.58 590.53,100.72 591.75,100.85 592.98,100.99 594.21,101.12 595.43,101.25 596.66,101.38 597.89,101.52 599.11,101.65 600.34,101.78 601.57,101.91 602.79,102.04 604.02,102.17 605.25,102.3 606.47,102.42 607.7,102.54 608.93,102.66 610.15,102.77 611.38,102.88 612.61,102.98 613.83,103.08 615.06,103.16 616.29,103.25 617.51,103.32 618.74,103.4 619.97,103.47 621.2,103.55 622.42,103.62 623.65,103.68 624.88,103.74 626.1,103.8 627.33,103.86 628.56,103.91 629.78,103.96 631.01,104.01 632.24,104.05 633.46,104.09 634.69,104.12 635.92,104.15 637.14,104.19 638.37,104.22 639.6,104.25 640.82,104.28 642.05,104.3 643.28,104.33 644.5,104.35 645.73,104.37 646.96,104.39 648.18,104.41 649.41,104.42 650.64,104.43 651.86,104.45 653.09,104.46 654.32,104.47 655.54,104.48 656.77,104.48 658,104.49 659.22,104.5 660.45,104.5" stroke="#a4a4a4" stroke-dasharray="4.60 4.60"/>
<polyline points="454.52,104.5 455.74,104.5 456.97,104.5 458.2,104.5 459.43,104.5 460.66,104.5 461.88,104.5 463.11,104.5 464.34,104.5 465.57,104.5 466.8,104.5 468.02,104.5 469.25,104.5 470.48,104.5 471.71,104.5 472.93,104.5 474.16,104.5 475.39,104.5 476.62,104.5 477.85,104.5 479.07,104.5 480.3,104.5 481.53,104.5 482.76,104.5 483.99,104.5 485.21,104.5 486.44,104.5 487.67,104.5 488.9,104.5 490.12,104.5 491.35,104.45 492.58,104.33 493.81,104.05 495.04,101.97 496.26,98.21 497.49,93.25 498.72,84.1 499.95,74.7 501.18,65.97 502.4,59.6 503.63,57.47 504.86,56.62 506.09,57.94 507.31,60.61 508.54,65.22 509.77,69.27 511,72.08 512.23,74.53 513.45,76.67 514.68,78.5 515.91,80.09 517.14,81.5 518.37,82.77 519.59,83.93 520.82,85.01 522.05,86.05 523.28,87.08 524.5,88.1 525.73,89.09 526.96,90.03 528.19,90.9 529.42,91.66 530.64,92.3 531.87,92.81 533.1,93.26 534.33,93.67 535.56,94.04 536.78,94.37 538.01,94.68 539.24,94.98 540.47,95.26 541.69,95.53 542.92,95.8 544.15,96.06 545.38,96.3 546.61,96.54 547.83,96.76 549.06,96.98 550.29,97.19 551.52,97.4 552.75,97.6 553.97,97.8 555.2,98 556.43,98.2 557.66,98.38 558.88,98.57 560.11,98.75 561.34,98.92 562.57,99.09 563.8,99.27 565.02,99.44 566.25,99.61 567.48,99.78 568.71,99.96 569.93,100.14 571.16,100.32 572.39,100.51 573.62,100.71 574.85,100.92 576.07,101.13 577.3,101.34 578.53,101.54 579.76,101.75 580.99,101.95 582.21,102.14 583.44,102.32 584.67,102.49 585.9,102.65 587.12,102.79 588.35,102.93 589.58,103.07 590.81,103.2 592.04,103.33 593.26,103.46 594.49,103.59 595.72,103.72 596.95,103.86 598.18,104.01 599.4,104.17 600.63,104.33 601.86,104.5" stroke="#0a0a0a" stroke-dasharray="1.5 3.1"/>
<polyline points="370.94,104.5 372.17,104.5 373.4,104.5 374.63,104.5 375.86,104.5 377.09,104.5 378.32,104.5 379.55,104.5 380.78,104.5 382.01,104.49 383.23,104.49 384.46,104.49 385.69,104.49 386.92,104.49 388.15,104.48 389.38,104.48 390.61,104.48 391.84,104.48 393.07,104.47 394.3,104.47 395.53,104.47 396.76,104.46 397.99,104.46 399.22,104.46 400.45,104.45 401.68,104.45 402.91,104.44 404.14,104.44 405.37,104.43 406.6,104.43 407.83,104.42 409.06,104.42 410.29,104.41 411.52,104.4 412.75,104.4 413.98,104.39 415.21,104.38 416.44,104.38 417.67,104.37 418.9,104.36 420.13,104.35 421.36,104.35 422.59,104.34 423.82,104.33 425.05,104.32 426.28,104.31 427.51,104.3 428.74,104.29 429.97,104.28 431.2,104.26 432.43,104.24 433.66,104.2 434.89,104.16 436.12,104.11 437.35,104.06 438.58,103.99 439.81,103.93 441.04,103.84 442.27,103.72 443.5,103.57 444.73,103.4 445.96,103.18 447.19,102.89 448.41,102.54 449.64,102.16 450.87,101.75 452.1,101.27 453.33,100.74 454.56,100.19 455.79,99.63 457.02,99.01 458.25,98.37 459.48,97.76 460.71,97.24 461.94,96.74 463.17,96.27 464.4,95.88 465.63,95.65 466.86,95.55 468.09,95.46 469.32,95.4 470.55,95.36 471.78,95.34 473.01,95.33 474.24,95.32 475.47,95.31 476.7,95.3 477.93,95.28 479.16,95.24 480.39,95.18 481.62,95.09 482.85,94.99 484.08,94.89 485.31,94.78 486.54,94.68 487.77,94.59 489,94.51 490.23,94.42 491.46,94.34 492.69,94.26 493.92,94.17 495.15,94.1 496.38,94.02 497.61,93.96 498.84,93.9 500.07,93.85 501.3,93.81 502.53,93.76 503.76,93.72 504.99,93.68 506.22,93.65 507.45,93.62 508.68,93.59 509.91,93.57 511.14,93.56 512.36,93.56 513.59,93.56 514.82,93.57 516.05,93.58 517.28,93.59 518.51,93.61 519.74,93.63 520.97,93.66 522.2,93.68 523.43,93.71 524.66,93.74 525.89,93.77 527.12,93.8 528.35,93.84 529.58,93.89 530.81,93.95 532.04,94.01 533.27,94.08 534.5,94.15 535.73,94.23 536.96,94.31 538.19,94.39 539.42,94.48 540.65,94.57 541.88,94.68 543.11,94.79 544.34,94.91 545.57,95.04 546.8,95.17 548.03,95.31 549.26,95.45 550.49,95.59 551.72,95.73 552.95,95.87 554.18,96.02 555.41,96.16 556.64,96.3 557.87,96.44 559.1,96.59 560.33,96.75 561.56,96.9 562.79,97.06 564.02,97.22 565.25,97.38 566.48,97.54 567.71,97.7 568.94,97.85 570.17,98.01 571.4,98.16 572.63,98.32 573.86,98.47 575.09,98.62 576.32,98.76 577.54,98.91 578.77,99.06 580,99.21 581.23,99.36 582.46,99.5 583.69,99.65 584.92,99.79 586.15,99.94 587.38,100.09 588.61,100.23 589.84,100.37 591.07,100.52 592.3,100.66 593.53,100.81 594.76,100.95 595.99,101.09 597.22,101.24 598.45,101.39 599.68,101.54 600.91,101.7 602.14,101.86 603.37,102.02 604.6,102.17 605.83,102.33 607.06,102.48 608.29,102.63 609.52,102.77 610.75,102.9 611.98,103.03 613.21,103.15 614.44,103.25 615.67,103.35 616.9,103.44 618.13,103.52 619.36,103.61 620.59,103.69 621.82,103.76 623.05,103.83 624.28,103.9 625.51,103.97 626.74,104.03 627.97,104.09 629.2,104.14 630.43,104.2 631.66,104.24 632.89,104.28 634.12,104.32 635.35,104.36 636.58,104.4 637.81,104.43 639.04,104.45 640.27,104.48 641.5,104.5" stroke="#e0201c" stroke-dasharray="1.5 3.1 4.6 3.45"/>
</g>
<rect x="372" y="29.5" width="298" height="78" fill="none" stroke="#555555" stroke-width="1"/>
<line x1="368.3" y1="104.5" x2="372" y2="104.5" stroke="#555555" stroke-width="1"/>
<line x1="368.3" y1="90.1" x2="372" y2="90.1" stroke="#555555" stroke-width="1"/>
<line x1="368.3" y1="75.7" x2="372" y2="75.7" stroke="#555555" stroke-width="1"/>
<line x1="368.3" y1="61.3" x2="372" y2="61.3" stroke="#555555" stroke-width="1"/>
<line x1="368.3" y1="46.9" x2="372" y2="46.9" stroke="#555555" stroke-width="1"/>
<line x1="368.3" y1="32.5" x2="372" y2="32.5" stroke="#555555" stroke-width="1"/>
<line x1="383" y1="107.5" x2="383" y2="111" stroke="#555555" stroke-width="1"/>
<line x1="469.17" y1="107.5" x2="469.17" y2="111" stroke="#555555" stroke-width="1"/>
<line x1="555.33" y1="107.5" x2="555.33" y2="111" stroke="#555555" stroke-width="1"/>
<line x1="641.5" y1="107.5" x2="641.5" y2="111" stroke="#555555" stroke-width="1"/>
<line x1="380.8" y1="37.65" x2="394.1" y2="37.65" stroke="#d8403a" stroke-width="1.25" stroke-linecap="round" stroke-dasharray="4.60 4.60"/>
<line x1="380.8" y1="46.65" x2="394.1" y2="46.65" stroke="#24963a" stroke-width="1.25" stroke-linecap="round" stroke-dasharray="1.5 3.1"/>
<line x1="380.8" y1="55.65" x2="394.1" y2="55.65" stroke="#2c3a88" stroke-width="1.25" stroke-linecap="round" stroke-dasharray="1.5 3.1 4.6 3.45"/>
<line x1="380.8" y1="64.65" x2="394.1" y2="64.65" stroke="#38a8e0" stroke-width="1.25" stroke-linecap="round" stroke-dasharray="8.05 3.45"/>
<line x1="380.8" y1="73.65" x2="394.1" y2="73.65" stroke="#a82078" stroke-width="1.25" stroke-linecap="round" stroke-dasharray="2.30 2.30 6.90 2.30"/>
<line x1="449.9" y1="37.65" x2="463.1" y2="37.65" stroke="#dcc410" stroke-width="1.25" stroke-linecap="round"/>
<line x1="449.9" y1="46.65" x2="463.1" y2="46.65" stroke="#a4a4a4" stroke-width="1.25" stroke-linecap="round" stroke-dasharray="4.60 4.60"/>
<line x1="449.9" y1="55.65" x2="463.1" y2="55.65" stroke="#0a0a0a" stroke-width="1.25" stroke-linecap="round" stroke-dasharray="1.5 3.1"/>
<line x1="449.9" y1="64.65" x2="463.1" y2="64.65" stroke="#e0201c" stroke-width="1.25" stroke-linecap="round" stroke-dasharray="1.5 3.1 4.6 3.45"/>
<g clip-path="url(#c01)" fill="none" stroke-width="1.25" stroke-linejoin="round" stroke-linecap="round">
<polyline points="62.9,248.5 64.13,248.5 65.36,248.5 66.59,248.5 67.82,248.5 69.05,248.5 70.27,248.5 71.5,248.49 72.73,248.49 73.96,248.49 75.19,248.49 76.42,248.49 77.65,248.48 78.88,248.48 80.1,248.48 81.33,248.48 82.56,248.47 83.79,248.47 85.02,248.47 86.25,248.46 87.48,248.46 88.7,248.45 89.93,248.45 91.16,248.44 92.39,248.44 93.62,248.43 94.85,248.43 96.08,248.42 97.31,248.42 98.53,248.41 99.76,248.41 100.99,248.4 102.22,248.4 103.45,248.39 104.68,248.38 105.91,248.38 107.13,248.37 108.36,248.36 109.59,248.36 110.82,248.35 112.05,248.34 113.28,248.32 114.51,248.31 115.73,248.29 116.96,248.28 118.19,248.26 119.42,248.24 120.65,248.21 121.88,248.19 123.11,248.16 124.34,248.13 125.56,248.1 126.79,248.06 128.02,248.02 129.25,247.97 130.48,247.9 131.71,247.83 132.94,247.74 134.16,247.63 135.39,247.52 136.62,247.34 137.85,247.1 139.08,246.81 140.31,246.48 141.54,246.13 142.77,245.77 143.99,245.41 145.22,245.06 146.45,244.73 147.68,244.43 148.91,244.11 150.14,243.79 151.37,243.46 152.59,243.14 153.82,242.83 155.05,242.52 156.28,242.24 157.51,241.97 158.74,241.74 159.97,241.51 161.19,241.3 162.42,241.1 163.65,240.91 164.88,240.73 166.11,240.55 167.34,240.38 168.57,240.21 169.8,240.04 171.02,239.88 172.25,239.72 173.48,239.56 174.71,239.41 175.94,239.26 177.17,239.11 178.4,238.97 179.62,238.83 180.85,238.69 182.08,238.56 183.31,238.42 184.54,238.28 185.77,238.15 187,238.02 188.23,237.9 189.45,237.78 190.68,237.67 191.91,237.57 193.14,237.48 194.37,237.39 195.6,237.31 196.83,237.22 198.05,237.14 199.28,237.07 200.51,237 201.74,236.94 202.97,236.88 204.2,236.84 205.43,236.79 206.65,236.75 207.88,236.71 209.11,236.67 210.34,236.64 211.57,236.61 212.8,236.58 214.03,236.56 215.26,236.55 216.48,236.55 217.71,236.56 218.94,236.58 220.17,236.61 221.4,236.66 222.63,236.71 223.86,236.77 225.08,236.83 226.31,236.9 227.54,236.97 228.77,237.05 230,237.12 231.23,237.2 232.46,237.29 233.69,237.39 234.91,237.5 236.14,237.62 237.37,237.75 238.6,237.88 239.83,238.02 241.06,238.17 242.29,238.32 243.51,238.48 244.74,238.64 245.97,238.81 247.2,239 248.43,239.21 249.66,239.43 250.89,239.66 252.11,239.9 253.34,240.14 254.57,240.39 255.8,240.63 257.03,240.87 258.26,241.1 259.49,241.32 260.72,241.54 261.94,241.76 263.17,241.98 264.4,242.21 265.63,242.43 266.86,242.65 268.09,242.87 269.32,243.08 270.54,243.29 271.77,243.51 273,243.71 274.23,243.91 275.46,244.11 276.69,244.3 277.92,244.49 279.15,244.69 280.37,244.88 281.6,245.06 282.83,245.25 284.06,245.43 285.29,245.61 286.52,245.78 287.75,245.95 288.97,246.11 290.2,246.26 291.43,246.41 292.66,246.55 293.89,246.68 295.12,246.82 296.35,246.95 297.57,247.08 298.8,247.21 300.03,247.33 301.26,247.44 302.49,247.54 303.72,247.64 304.95,247.72 306.18,247.8 307.4,247.87 308.63,247.93 309.86,247.99 311.09,248.05 312.32,248.11 313.55,248.16 314.78,248.21 316,248.25 317.23,248.29 318.46,248.33 319.69,248.36 320.92,248.38 322.15,248.41 323.38,248.43 324.61,248.46 325.83,248.47 327.06,248.49 328.29,248.5" stroke="#d8403a" stroke-dasharray="4.60 4.60"/>
<polyline points="62.9,248.5 64.13,248.5 65.36,248.5 66.59,248.5 67.82,248.5 69.05,248.5 70.27,248.5 71.5,248.49 72.73,248.49 73.96,248.49 75.19,248.49 76.42,248.48 77.65,248.48 78.88,248.48 80.1,248.47 81.33,248.47 82.56,248.47 83.79,248.46 85.02,248.46 86.25,248.45 87.48,248.45 88.7,248.44 89.93,248.43 91.16,248.43 92.39,248.42 93.62,248.41 94.85,248.41 96.08,248.4 97.31,248.39 98.53,248.38 99.76,248.38 100.99,248.37 102.22,248.36 103.45,248.35 104.68,248.33 105.91,248.31 107.13,248.28 108.36,248.24 109.59,248.2 110.82,248.15 112.05,248.1 113.28,248.04 114.51,247.98 115.73,247.91 116.96,247.84 118.19,247.77 119.42,247.68 120.65,247.56 121.88,247.42 123.11,247.26 124.34,247.08 125.56,246.89 126.79,246.68 128.02,246.42 129.25,246.1 130.48,245.74 131.71,245.35 132.94,244.94 134.16,244.54 135.39,244.15 136.62,243.74 137.85,243.32 139.08,242.89 140.31,242.46 141.54,242.04 142.77,241.64 143.99,241.27 145.22,240.93 146.45,240.59 147.68,240.27 148.91,239.95 150.14,239.65 151.37,239.37 152.59,239.11 153.82,238.86 155.05,238.63 156.28,238.41 157.51,238.21 158.74,238.01 159.97,237.82 161.19,237.64 162.42,237.47 163.65,237.3 164.88,237.15 166.11,237 167.34,236.86 168.57,236.71 169.8,236.55 171.02,236.4 172.25,236.25 173.48,236.1 174.71,235.97 175.94,235.84 177.17,235.74 178.4,235.65 179.62,235.59 180.85,235.55 182.08,235.54 183.31,235.54 184.54,235.54 185.77,235.54 187,235.54 188.23,235.54 189.45,235.54 190.68,235.54 191.91,235.54 193.14,235.55 194.37,235.58 195.6,235.64 196.83,235.71 198.05,235.8 199.28,235.9 200.51,236.02 201.74,236.14 202.97,236.26 204.2,236.38 205.43,236.5 206.65,236.62 207.88,236.74 209.11,236.88 210.34,237.03 211.57,237.18 212.8,237.34 214.03,237.51 215.26,237.68 216.48,237.85 217.71,238.03 218.94,238.2 220.17,238.38 221.4,238.56 222.63,238.74 223.86,238.92 225.08,239.11 226.31,239.3 227.54,239.5 228.77,239.7 230,239.9 231.23,240.1 232.46,240.29 233.69,240.49 234.91,240.68 236.14,240.86 237.37,241.05 238.6,241.23 239.83,241.41 241.06,241.59 242.29,241.77 243.51,241.95 244.74,242.13 245.97,242.31 247.2,242.48 248.43,242.66 249.66,242.83 250.89,243 252.11,243.18 253.34,243.35 254.57,243.53 255.8,243.7 257.03,243.87 258.26,244.04 259.49,244.2 260.72,244.36 261.94,244.51 263.17,244.66 264.4,244.8 265.63,244.93 266.86,245.07 268.09,245.2 269.32,245.33 270.54,245.45 271.77,245.58 273,245.7 274.23,245.82 275.46,245.94 276.69,246.06 277.92,246.18 279.15,246.3 280.37,246.42 281.6,246.54 282.83,246.66 284.06,246.78 285.29,246.89 286.52,247 287.75,247.1 288.97,247.2 290.2,247.29 291.43,247.38 292.66,247.45 293.89,247.53 295.12,247.6 296.35,247.67 297.57,247.73 298.8,247.8 300.03,247.86 301.26,247.91 302.49,247.97 303.72,248.01 304.95,248.06 306.18,248.1 307.4,248.13 308.63,248.17 309.86,248.2 311.09,248.23 312.32,248.26 313.55,248.29 314.78,248.32 316,248.34 317.23,248.37 318.46,248.39 319.69,248.42 320.92,248.44 322.15,248.45 323.38,248.47 324.61,248.48 325.83,248.49 327.06,248.5 328.29,248.5" stroke="#24963a" stroke-dasharray="1.5 3.1"/>
<polyline points="145.62,248.5 146.85,248.5 148.07,248.5 149.29,248.49 150.52,248.48 151.74,248.47 152.97,248.46 154.19,248.44 155.41,248.42 156.64,248.4 157.86,248.38 159.09,248.35 160.31,248.33 161.54,248.3 162.76,248.26 163.98,248.23 165.21,248.19 166.43,248.1 167.66,247.97 168.88,247.81 170.1,247.63 171.33,247.44 172.55,247.23 173.78,246.96 175,246.62 176.22,246.17 177.45,245.51 178.67,244.69 179.9,243.8 181.12,242.91 182.35,242.08 183.57,241.28 184.79,240.45 186.02,239.62 187.24,238.84 188.47,238.15 189.69,237.57 190.91,237.05 192.14,236.56 193.36,236.11 194.59,235.68 195.81,235.29 197.04,234.93 198.26,234.61 199.48,234.33 200.71,234.09 201.93,233.87 203.16,233.67 204.38,233.48 205.6,233.31 206.83,233.15 208.05,232.99 209.28,232.85 210.5,232.71 211.72,232.56 212.95,232.42 214.17,232.26 215.4,232.09 216.62,231.94 217.85,231.81 219.07,231.71 220.29,231.66 221.52,231.66 222.74,231.7 223.97,231.78 225.19,231.89 226.41,232.03 227.64,232.18 228.86,232.36 230.09,232.55 231.31,232.74 232.54,232.95 233.76,233.15 234.98,233.35 236.21,233.58 237.43,233.84 238.66,234.12 239.88,234.44 241.1,234.77 242.33,235.12 243.55,235.48 244.78,235.85 246,236.22 247.22,236.6 248.45,236.97 249.67,237.33 250.9,237.68 252.12,238.01 253.35,238.34 254.57,238.68 255.79,239.02 257.02,239.36 258.24,239.7 259.47,240.03 260.69,240.36 261.91,240.67 263.14,240.98 264.36,241.26 265.59,241.53 266.81,241.79 268.04,242.04 269.26,242.27 270.48,242.51 271.71,242.74 272.93,242.96 274.16,243.19 275.38,243.43 276.6,243.67 277.83,243.92 279.05,244.19 280.28,244.45 281.5,244.72 282.72,244.99 283.95,245.25 285.17,245.51 286.4,245.76 287.62,246 288.85,246.22 290.07,246.43 291.29,246.61 292.52,246.78 293.74,246.93 294.97,247.08 296.19,247.23 297.41,247.36 298.64,247.48 299.86,247.59 301.09,247.69 302.31,247.77 303.54,247.84 304.76,247.91 305.98,247.97 307.21,248.03 308.43,248.09 309.66,248.14 310.88,248.19 312.1,248.23 313.33,248.27 314.55,248.31 315.78,248.34 317,248.38 318.22,248.41 319.45,248.43 320.67,248.46 321.9,248.48 323.12,248.5" stroke="#2c3a88" stroke-dasharray="1.5 3.1 4.6 3.45"/>
<polyline points="62.9,248.5 64.13,248.5 65.36,248.5 66.59,248.5 67.82,248.5 69.05,248.5 70.27,248.5 71.5,248.49 72.73,248.49 73.96,248.49 75.19,248.49 76.42,248.49 77.65,248.48 78.88,248.48 80.1,248.48 81.33,248.47 82.56,248.47 83.79,248.47 85.02,248.46 86.25,248.46 87.48,248.45 88.7,248.45 89.93,248.44 91.16,248.44 92.39,248.43 93.62,248.43 94.85,248.42 96.08,248.42 97.31,248.41 98.53,248.4 99.76,248.4 100.99,248.39 102.22,248.38 103.45,248.37 104.68,248.36 105.91,248.36 107.13,248.35 108.36,248.33 109.59,248.31 110.82,248.28 112.05,248.25 113.28,248.22 114.51,248.18 115.73,248.13 116.96,248.09 118.19,248.03 119.42,247.98 120.65,247.92 121.88,247.85 123.11,247.79 124.34,247.7 125.56,247.59 126.79,247.45 128.02,247.29 129.25,247.11 130.48,246.92 131.71,246.72 132.94,246.5 134.16,246.23 135.39,245.92 136.62,245.59 137.85,245.25 139.08,244.91 140.31,244.58 141.54,244.25 142.77,243.91 143.99,243.56 145.22,243.2 146.45,242.85 147.68,242.5 148.91,242.16 150.14,241.83 151.37,241.52 152.59,241.21 153.82,240.9 155.05,240.61 156.28,240.31 157.51,240.03 158.74,239.77 159.97,239.51 161.19,239.27 162.42,239.04 163.65,238.82 164.88,238.61 166.11,238.4 167.34,238.19 168.57,238 169.8,237.81 171.02,237.63 172.25,237.46 173.48,237.3 174.71,237.15 175.94,237 177.17,236.85 178.4,236.7 179.62,236.55 180.85,236.4 182.08,236.27 183.31,236.14 184.54,236.03 185.77,235.94 187,235.88 188.23,235.84 189.45,235.82 190.68,235.8 191.91,235.79 193.14,235.78 194.37,235.77 195.6,235.77 196.83,235.76 198.05,235.76 199.28,235.76 200.51,235.78 201.74,235.82 202.97,235.89 204.2,235.98 205.43,236.08 206.65,236.19 207.88,236.31 209.11,236.43 210.34,236.55 211.57,236.66 212.8,236.79 214.03,236.93 215.26,237.07 216.48,237.23 217.71,237.4 218.94,237.57 220.17,237.75 221.4,237.93 222.63,238.11 223.86,238.3 225.08,238.48 226.31,238.66 227.54,238.85 228.77,239.04 230,239.23 231.23,239.43 232.46,239.63 233.69,239.84 234.91,240.04 236.14,240.25 237.37,240.45 238.6,240.65 239.83,240.85 241.06,241.04 242.29,241.23 243.51,241.43 244.74,241.62 245.97,241.8 247.2,241.99 248.43,242.18 249.66,242.36 250.89,242.55 252.11,242.73 253.34,242.91 254.57,243.08 255.8,243.26 257.03,243.43 258.26,243.61 259.49,243.78 260.72,243.95 261.94,244.12 263.17,244.29 264.4,244.45 265.63,244.61 266.86,244.76 268.09,244.91 269.32,245.06 270.54,245.2 271.77,245.34 273,245.47 274.23,245.61 275.46,245.74 276.69,245.86 277.92,245.99 279.15,246.11 280.37,246.23 281.6,246.35 282.83,246.47 284.06,246.59 285.29,246.71 286.52,246.83 287.75,246.95 288.97,247.06 290.2,247.17 291.43,247.27 292.66,247.37 293.89,247.46 295.12,247.54 296.35,247.61 297.57,247.69 298.8,247.76 300.03,247.83 301.26,247.89 302.49,247.95 303.72,248.01 304.95,248.07 306.18,248.12 307.4,248.16 308.63,248.19 309.86,248.22 311.09,248.25 312.32,248.28 313.55,248.31 314.78,248.33 316,248.36 317.23,248.38 318.46,248.41 319.69,248.43 320.92,248.44 322.15,248.46 323.38,248.47 324.61,248.49 325.83,248.49 327.06,248.5 328.29,248.5" stroke="#38a8e0" stroke-dasharray="8.05 3.45"/>
<polyline points="62.9,248.5 64.13,248.5 65.36,248.5 66.59,248.5 67.82,248.5 69.05,248.5 70.27,248.5 71.5,248.49 72.73,248.49 73.96,248.49 75.19,248.49 76.42,248.48 77.65,248.48 78.88,248.48 80.1,248.47 81.33,248.47 82.56,248.46 83.79,248.46 85.02,248.46 86.25,248.45 87.48,248.45 88.7,248.44 89.93,248.43 91.16,248.43 92.39,248.42 93.62,248.41 94.85,248.41 96.08,248.4 97.31,248.39 98.53,248.38 99.76,248.38 100.99,248.37 102.22,248.36 103.45,248.35 104.68,248.33 105.91,248.31 107.13,248.29 108.36,248.26 109.59,248.22 110.82,248.19 112.05,248.14 113.28,248.09 114.51,248.04 115.73,247.99 116.96,247.93 118.19,247.87 119.42,247.8 120.65,247.72 121.88,247.62 123.11,247.48 124.34,247.33 125.56,247.16 126.79,246.96 128.02,246.76 129.25,246.54 130.48,246.25 131.71,245.93 132.94,245.57 134.16,245.19 135.39,244.8 136.62,244.42 137.85,244.06 139.08,243.73 140.31,243.41 141.54,243.1 142.77,242.78 143.99,242.48 145.22,242.18 146.45,241.89 147.68,241.61 148.91,241.33 150.14,241.07 151.37,240.81 152.59,240.54 153.82,240.29 155.05,240.04 156.28,239.8 157.51,239.57 158.74,239.36 159.97,239.16 161.19,238.99 162.42,238.82 163.65,238.67 164.88,238.52 166.11,238.37 167.34,238.24 168.57,238.11 169.8,237.98 171.02,237.87 172.25,237.76 173.48,237.66 174.71,237.57 175.94,237.49 177.17,237.4 178.4,237.32 179.62,237.24 180.85,237.17 182.08,237.1 183.31,237.04 184.54,236.98 185.77,236.93 187,236.89 188.23,236.85 189.45,236.82 190.68,236.79 191.91,236.76 193.14,236.73 194.37,236.71 195.6,236.69 196.83,236.67 198.05,236.65 199.28,236.64 200.51,236.63 201.74,236.62 202.97,236.62 204.2,236.63 205.43,236.64 206.65,236.66 207.88,236.69 209.11,236.73 210.34,236.76 211.57,236.8 212.8,236.85 214.03,236.89 215.26,236.94 216.48,236.99 217.71,237.04 218.94,237.11 220.17,237.18 221.4,237.26 222.63,237.35 223.86,237.45 225.08,237.55 226.31,237.66 227.54,237.77 228.77,237.89 230,238.01 231.23,238.15 232.46,238.31 233.69,238.47 234.91,238.64 236.14,238.82 237.37,239 238.6,239.19 239.83,239.37 241.06,239.56 242.29,239.74 243.51,239.92 244.74,240.11 245.97,240.29 247.2,240.48 248.43,240.68 249.66,240.87 250.89,241.07 252.11,241.27 253.34,241.47 254.57,241.67 255.8,241.87 257.03,242.07 258.26,242.27 259.49,242.47 260.72,242.68 261.94,242.89 263.17,243.1 264.4,243.32 265.63,243.53 266.86,243.74 268.09,243.95 269.32,244.16 270.54,244.36 271.77,244.55 273,244.73 274.23,244.91 275.46,245.09 276.69,245.27 277.92,245.45 279.15,245.62 280.37,245.79 281.6,245.96 282.83,246.12 284.06,246.27 285.29,246.42 286.52,246.55 287.75,246.68 288.97,246.8 290.2,246.92 291.43,247.03 292.66,247.14 293.89,247.25 295.12,247.35 296.35,247.45 297.57,247.54 298.8,247.63 300.03,247.71 301.26,247.78 302.49,247.85 303.72,247.91 304.95,247.95 306.18,248 307.4,248.04 308.63,248.08 309.86,248.12 311.09,248.16 312.32,248.19 313.55,248.22 314.78,248.25 316,248.28 317.23,248.31 318.46,248.33 319.69,248.36 320.92,248.38 322.15,248.4 323.38,248.43 324.61,248.45 325.83,248.47 327.06,248.48 328.29,248.5" stroke="#a82078" stroke-dasharray="2.30 2.30 6.90 2.30"/>
<polyline points="62.9,248.5 64.13,248.5 65.36,248.5 66.59,248.5 67.82,248.5 69.05,248.5 70.27,248.49 71.5,248.49 72.73,248.49 73.96,248.49 75.19,248.49 76.42,248.48 77.65,248.48 78.88,248.47 80.1,248.47 81.33,248.47 82.56,248.46 83.79,248.46 85.02,248.45 86.25,248.45 87.48,248.44 88.7,248.43 89.93,248.43 91.16,248.42 92.39,248.41 93.62,248.41 94.85,248.4 96.08,248.39 97.31,248.38 98.53,248.37 99.76,248.36 100.99,248.35 102.22,248.34 103.45,248.32 104.68,248.3 105.91,248.27 107.13,248.24 108.36,248.2 109.59,248.15 110.82,248.11 112.05,248.05 113.28,247.99 114.51,247.93 115.73,247.85 116.96,247.73 118.19,247.57 119.42,247.39 120.65,247.18 121.88,246.94 123.11,246.69 124.34,246.38 125.56,245.97 126.79,245.47 128.02,244.91 129.25,244.31 130.48,243.7 131.71,243.11 132.94,242.56 134.16,242 135.39,241.4 136.62,240.8 137.85,240.22 139.08,239.7 140.31,239.26 141.54,238.92 142.77,238.63 143.99,238.37 145.22,238.13 146.45,237.91 147.68,237.72 148.91,237.53 150.14,237.36 151.37,237.2 152.59,237.04 153.82,236.9 155.05,236.77 156.28,236.64 157.51,236.52 158.74,236.4 159.97,236.29 161.19,236.17 162.42,236.06 163.65,235.94 164.88,235.81 166.11,235.69 167.34,235.56 168.57,235.43 169.8,235.3 171.02,235.18 172.25,235.07 173.48,234.97 174.71,234.87 175.94,234.8 177.17,234.74 178.4,234.7 179.62,234.68 180.85,234.68 182.08,234.69 183.31,234.7 184.54,234.72 185.77,234.75 187,234.78 188.23,234.81 189.45,234.85 190.68,234.91 191.91,234.99 193.14,235.09 194.37,235.2 195.6,235.33 196.83,235.46 198.05,235.6 199.28,235.74 200.51,235.87 201.74,236.01 202.97,236.15 204.2,236.3 205.43,236.46 206.65,236.62 207.88,236.79 209.11,236.96 210.34,237.14 211.57,237.31 212.8,237.5 214.03,237.68 215.26,237.86 216.48,238.05 217.71,238.23 218.94,238.42 220.17,238.61 221.4,238.81 222.63,239.01 223.86,239.21 225.08,239.42 226.31,239.62 227.54,239.82 228.77,240.02 230,240.21 231.23,240.4 232.46,240.59 233.69,240.77 234.91,240.96 236.14,241.14 237.37,241.32 238.6,241.5 239.83,241.68 241.06,241.86 242.29,242.04 243.51,242.21 244.74,242.38 245.97,242.56 247.2,242.73 248.43,242.9 249.66,243.07 250.89,243.24 252.11,243.4 253.34,243.57 254.57,243.73 255.8,243.89 257.03,244.04 258.26,244.19 259.49,244.34 260.72,244.48 261.94,244.62 263.17,244.76 264.4,244.89 265.63,245.03 266.86,245.16 268.09,245.28 269.32,245.41 270.54,245.53 271.77,245.66 273,245.78 274.23,245.89 275.46,246.01 276.69,246.13 277.92,246.24 279.15,246.36 280.37,246.47 281.6,246.59 282.83,246.7 284.06,246.81 285.29,246.92 286.52,247.02 287.75,247.12 288.97,247.21 290.2,247.3 291.43,247.38 292.66,247.45 293.89,247.53 295.12,247.6 296.35,247.66 297.57,247.73 298.8,247.79 300.03,247.85 301.26,247.91 302.49,247.96 303.72,248.01 304.95,248.06 306.18,248.1 307.4,248.13 308.63,248.17 309.86,248.2 311.09,248.23 312.32,248.26 313.55,248.29 314.78,248.32 316,248.34 317.23,248.37 318.46,248.39 319.69,248.42 320.92,248.44 322.15,248.45 323.38,248.47 324.61,248.48 325.83,248.49 327.06,248.5 328.29,248.5" stroke="#dcc410"/>
<polyline points="62.9,248.5 64.13,248.5 65.36,248.5 66.59,248.5 67.82,248.5 69.05,248.5 70.27,248.49 71.5,248.49 72.73,248.49 73.96,248.49 75.19,248.48 76.42,248.48 77.65,248.47 78.88,248.47 80.1,248.46 81.33,248.46 82.56,248.45 83.79,248.45 85.02,248.44 86.25,248.43 87.48,248.43 88.7,248.42 89.93,248.41 91.16,248.4 92.39,248.39 93.62,248.39 94.85,248.38 96.08,248.37 97.31,248.36 98.53,248.34 99.76,248.32 100.99,248.3 102.22,248.27 103.45,248.23 104.68,248.19 105.91,248.15 107.13,248.09 108.36,248.04 109.59,247.97 110.82,247.91 112.05,247.83 113.28,247.75 114.51,247.64 115.73,247.48 116.96,247.28 118.19,247.06 119.42,246.81 120.65,246.54 121.88,246.24 123.11,245.87 124.34,245.41 125.56,244.88 126.79,244.31 128.02,243.73 129.25,243.15 130.48,242.59 131.71,242.06 132.94,241.5 134.16,240.92 135.39,240.35 136.62,239.8 137.85,239.32 139.08,238.92 140.31,238.61 141.54,238.34 142.77,238.09 143.99,237.87 145.22,237.67 146.45,237.48 147.68,237.31 148.91,237.14 150.14,236.99 151.37,236.84 152.59,236.7 153.82,236.57 155.05,236.44 156.28,236.32 157.51,236.21 158.74,236.1 159.97,235.99 161.19,235.89 162.42,235.8 163.65,235.69 164.88,235.59 166.11,235.48 167.34,235.38 168.57,235.28 169.8,235.19 171.02,235.1 172.25,235.02 173.48,234.95 174.71,234.9 175.94,234.86 177.17,234.83 178.4,234.82 179.62,234.82 180.85,234.84 182.08,234.85 183.31,234.87 184.54,234.9 185.77,234.93 187,234.96 188.23,235.01 189.45,235.09 190.68,235.18 191.91,235.3 193.14,235.43 194.37,235.57 195.6,235.71 196.83,235.86 198.05,236 199.28,236.14 200.51,236.28 201.74,236.43 202.97,236.58 204.2,236.74 205.43,236.9 206.65,237.07 207.88,237.24 209.11,237.41 210.34,237.58 211.57,237.75 212.8,237.93 214.03,238.1 215.26,238.28 216.48,238.45 217.71,238.62 218.94,238.8 220.17,238.98 221.4,239.16 222.63,239.34 223.86,239.52 225.08,239.7 226.31,239.89 227.54,240.07 228.77,240.25 230,240.43 231.23,240.6 232.46,240.78 233.69,240.96 234.91,241.14 236.14,241.31 237.37,241.49 238.6,241.67 239.83,241.84 241.06,242.01 242.29,242.19 243.51,242.36 244.74,242.53 245.97,242.7 247.2,242.87 248.43,243.04 249.66,243.21 250.89,243.38 252.11,243.55 253.34,243.71 254.57,243.88 255.8,244.04 257.03,244.19 258.26,244.34 259.49,244.48 260.72,244.62 261.94,244.76 263.17,244.89 264.4,245.02 265.63,245.14 266.86,245.27 268.09,245.39 269.32,245.51 270.54,245.63 271.77,245.74 273,245.86 274.23,245.97 275.46,246.08 276.69,246.2 277.92,246.31 279.15,246.43 280.37,246.54 281.6,246.66 282.83,246.77 284.06,246.89 285.29,246.99 286.52,247.1 287.75,247.2 288.97,247.29 290.2,247.38 291.43,247.45 292.66,247.52 293.89,247.59 295.12,247.65 296.35,247.71 297.57,247.77 298.8,247.83 300.03,247.88 301.26,247.93 302.49,247.98 303.72,248.02 304.95,248.06 306.18,248.1 307.4,248.13 308.63,248.17 309.86,248.2 311.09,248.23 312.32,248.25 313.55,248.28 314.78,248.31 316,248.34 317.23,248.36 318.46,248.39 319.69,248.41 320.92,248.43 322.15,248.45 323.38,248.46 324.61,248.47 325.83,248.49 327.06,248.49 328.29,248.5" stroke="#a4a4a4" stroke-dasharray="4.60 4.60"/>
<polyline points="145.62,248.5 146.85,248.5 148.07,248.49 149.29,248.48 150.52,248.47 151.74,248.45 152.97,248.43 154.19,248.41 155.41,248.38 156.64,248.35 157.86,248.32 159.09,248.28 160.31,248.24 161.54,248.2 162.76,248.12 163.98,248 165.21,247.85 166.43,247.67 167.66,247.46 168.88,247.23 170.1,246.98 171.33,246.61 172.55,246.12 173.78,245.56 175,244.96 176.22,244.37 177.45,243.8 178.67,243.2 179.9,242.57 181.12,241.93 182.35,241.29 183.57,240.67 184.79,240.07 186.02,239.51 187.24,238.95 188.47,238.39 189.69,237.85 190.91,237.33 192.14,236.86 193.36,236.42 194.59,236.04 195.81,235.68 197.04,235.34 198.26,235.02 199.48,234.72 200.71,234.44 201.93,234.18 203.16,233.93 204.38,233.71 205.6,233.49 206.83,233.27 208.05,233.06 209.28,232.85 210.5,232.67 211.72,232.52 212.95,232.4 214.17,232.32 215.4,232.27 216.62,232.23 217.85,232.19 219.07,232.16 220.29,232.13 221.52,232.11 222.74,232.1 223.97,232.09 225.19,232.09 226.41,232.14 227.64,232.25 228.86,232.41 230.09,232.61 231.31,232.84 232.54,233.1 233.76,233.38 234.98,233.66 236.21,233.94 237.43,234.21 238.66,234.51 239.88,234.85 241.1,235.22 242.33,235.62 243.55,236.03 244.78,236.46 246,236.88 247.22,237.3 248.45,237.71 249.67,238.1 250.9,238.46 252.12,238.82 253.35,239.17 254.57,239.52 255.79,239.87 257.02,240.2 258.24,240.53 259.47,240.85 260.69,241.16 261.91,241.46 263.14,241.73 264.36,242 265.59,242.26 266.81,242.5 268.04,242.74 269.26,242.97 270.48,243.2 271.71,243.42 272.93,243.64 274.16,243.86 275.38,244.08 276.6,244.31 277.83,244.54 279.05,244.78 280.28,245.01 281.5,245.25 282.72,245.48 283.95,245.71 285.17,245.93 286.4,246.13 287.62,246.33 288.85,246.5 290.07,246.66 291.29,246.81 292.52,246.94 293.74,247.07 294.97,247.19 296.19,247.31 297.41,247.42 298.64,247.52 299.86,247.61 301.09,247.7 302.31,247.77 303.54,247.84 304.76,247.91 305.98,247.97 307.21,248.03 308.43,248.08 309.66,248.13 310.88,248.18 312.1,248.23 313.33,248.27 314.55,248.31 315.78,248.34 317,248.38 318.22,248.41 319.45,248.43 320.67,248.46 321.9,248.48 323.12,248.5" stroke="#0a0a0a" stroke-dasharray="1.5 3.1"/>
<polyline points="62.9,248.5 64.13,248.5 65.36,248.5 66.59,248.5 67.82,248.5 69.05,248.5 70.27,248.5 71.5,248.49 72.73,248.49 73.96,248.49 75.19,248.49 76.42,248.49 77.65,248.48 78.88,248.48 80.1,248.48 81.33,248.47 82.56,248.47 83.79,248.47 85.02,248.46 86.25,248.46 87.48,248.45 88.7,248.45 89.93,248.44 91.16,248.44 92.39,248.43 93.62,248.43 94.85,248.42 96.08,248.41 97.31,248.41 98.53,248.4 99.76,248.39 100.99,248.39 102.22,248.38 103.45,248.37 104.68,248.36 105.91,248.36 107.13,248.35 108.36,248.33 109.59,248.32 110.82,248.3 112.05,248.28 113.28,248.25 114.51,248.22 115.73,248.19 116.96,248.15 118.19,248.11 119.42,248.07 120.65,248.03 121.88,247.98 123.11,247.93 124.34,247.87 125.56,247.78 126.79,247.67 128.02,247.54 129.25,247.4 130.48,247.24 131.71,247.08 132.94,246.88 134.16,246.64 135.39,246.36 136.62,246.05 137.85,245.72 139.08,245.38 140.31,245.04 141.54,244.71 142.77,244.39 143.99,244.05 145.22,243.71 146.45,243.35 147.68,243 148.91,242.65 150.14,242.3 151.37,241.97 152.59,241.67 153.82,241.39 155.05,241.13 156.28,240.89 157.51,240.66 158.74,240.44 159.97,240.22 161.19,240.02 162.42,239.83 163.65,239.64 164.88,239.47 166.11,239.31 167.34,239.16 168.57,239.01 169.8,238.87 171.02,238.74 172.25,238.61 173.48,238.49 174.71,238.38 175.94,238.27 177.17,238.16 178.4,238.06 179.62,237.96 180.85,237.86 182.08,237.77 183.31,237.67 184.54,237.58 185.77,237.5 187,237.42 188.23,237.34 189.45,237.27 190.68,237.2 191.91,237.14 193.14,237.08 194.37,237.01 195.6,236.95 196.83,236.89 198.05,236.83 199.28,236.78 200.51,236.73 201.74,236.69 202.97,236.66 204.2,236.63 205.43,236.62 206.65,236.62 207.88,236.62 209.11,236.62 210.34,236.63 211.57,236.63 212.8,236.64 214.03,236.65 215.26,236.65 216.48,236.66 217.71,236.67 218.94,236.68 220.17,236.7 221.4,236.72 222.63,236.76 223.86,236.82 225.08,236.88 226.31,236.96 227.54,237.04 228.77,237.12 230,237.21 231.23,237.3 232.46,237.39 233.69,237.49 234.91,237.6 236.14,237.72 237.37,237.85 238.6,237.99 239.83,238.13 241.06,238.28 242.29,238.44 243.51,238.6 244.74,238.76 245.97,238.93 247.2,239.1 248.43,239.29 249.66,239.49 250.89,239.7 252.11,239.92 253.34,240.14 254.57,240.37 255.8,240.6 257.03,240.83 258.26,241.07 259.49,241.3 260.72,241.52 261.94,241.74 263.17,241.97 264.4,242.2 265.63,242.43 266.86,242.66 268.09,242.89 269.32,243.12 270.54,243.34 271.77,243.57 273,243.79 274.23,244 275.46,244.21 276.69,244.41 277.92,244.61 279.15,244.8 280.37,245 281.6,245.19 282.83,245.38 284.06,245.57 285.29,245.75 286.52,245.92 287.75,246.09 288.97,246.26 290.2,246.41 291.43,246.55 292.66,246.69 293.89,246.82 295.12,246.95 296.35,247.08 297.57,247.2 298.8,247.32 300.03,247.43 301.26,247.54 302.49,247.63 303.72,247.72 304.95,247.8 306.18,247.87 307.4,247.93 308.63,247.99 309.86,248.04 311.09,248.09 312.32,248.14 313.55,248.18 314.78,248.22 316,248.26 317.23,248.3 318.46,248.33 319.69,248.36 320.92,248.38 322.15,248.41 323.38,248.43 324.61,248.45 325.83,248.47 327.06,248.49 328.29,248.5" stroke="#e0201c" stroke-dasharray="1.5 3.1 4.6 3.45"/>
</g>
<rect x="29.5" y="173.5" width="298" height="78" fill="none" stroke="#555555" stroke-width="1"/>
<line x1="25.8" y1="248.5" x2="29.5" y2="248.5" stroke="#555555" stroke-width="1"/>
<line x1="25.8" y1="234.1" x2="29.5" y2="234.1" stroke="#555555" stroke-width="1"/>
<line x1="25.8" y1="219.7" x2="29.5" y2="219.7" stroke="#555555" stroke-width="1"/>
<line x1="25.8" y1="205.3" x2="29.5" y2="205.3" stroke="#555555" stroke-width="1"/>
<line x1="25.8" y1="190.9" x2="29.5" y2="190.9" stroke="#555555" stroke-width="1"/>
<line x1="25.8" y1="176.5" x2="29.5" y2="176.5" stroke="#555555" stroke-width="1"/>
<line x1="40.5" y1="251.5" x2="40.5" y2="255" stroke="#555555" stroke-width="1"/>
<line x1="126.67" y1="251.5" x2="126.67" y2="255" stroke="#555555" stroke-width="1"/>
<line x1="212.83" y1="251.5" x2="212.83" y2="255" stroke="#555555" stroke-width="1"/>
<line x1="299" y1="251.5" x2="299" y2="255" stroke="#555555" stroke-width="1"/>
<line x1="38.3" y1="181.65" x2="51.6" y2="181.65" stroke="#d8403a" stroke-width="1.25" stroke-linecap="round" stroke-dasharray="4.60 4.60"/>
<line x1="38.3" y1="190.65" x2="51.6" y2="190.65" stroke="#24963a" stroke-width="1.25" stroke-linecap="round" stroke-dasharray="1.5 3.1"/>
<line x1="38.3" y1="199.65" x2="51.6" y2="199.65" stroke="#2c3a88" stroke-width="1.25" stroke-linecap="round" stroke-dasharray="1.5 3.1 4.6 3.45"/>
<line x1="38.3" y1="208.65" x2="51.6" y2="208.65" stroke="#38a8e0" stroke-width="1.25" stroke-linecap="round" stroke-dasharray="8.05 3.45"/>
<line x1="38.3" y1="217.65" x2="51.6" y2="217.65" stroke="#a82078" stroke-width="1.25" stroke-linecap="round" stroke-dasharray="2.30 2.30 6.90 2.30"/>
<line x1="107.4" y1="181.65" x2="120.6" y2="181.65" stroke="#dcc410" stroke-width="1.25" stroke-linecap="round"/>
<line x1="107.4" y1="190.65" x2="120.6" y2="190.65" stroke="#a4a4a4" stroke-width="1.25" stroke-linecap="round" stroke-dasharray="4.60 4.60"/>
<line x1="107.4" y1="199.65" x2="120.6" y2="199.65" stroke="#0a0a0a" stroke-width="1.25" stroke-linecap="round" stroke-dasharray="1.5 3.1"/>
<line x1="107.4" y1="208.65" x2="120.6" y2="208.65" stroke="#e0201c" stroke-width="1.25" stroke-linecap="round" stroke-dasharray="1.5 3.1 4.6 3.45"/>
<g clip-path="url(#c11)" fill="none" stroke-width="1.25" stroke-linejoin="round" stroke-linecap="round">
<polyline points="370.94,248.5 372.17,248.5 373.39,248.5 374.62,248.5 375.85,248.5 377.08,248.5 378.31,248.5 379.54,248.5 380.77,248.5 382,248.5 383.23,248.5 384.45,248.5 385.68,248.5 386.91,248.5 388.14,248.5 389.37,248.5 390.6,248.5 391.83,248.5 393.06,248.5 394.29,248.5 395.52,248.5 396.74,248.5 397.97,248.5 399.2,248.5 400.43,248.5 401.66,248.5 402.89,248.5 404.12,248.49 405.35,248.39 406.58,248.2 407.8,247.97 409.03,247.75 410.26,247.45 411.49,247.07 412.72,246.66 413.95,246.26 415.18,245.92 416.41,245.69 417.64,245.62 418.86,245.64 420.09,245.68 421.32,245.74 422.55,245.81 423.78,245.88 425.01,245.94 426.24,245.99 427.47,246.03 428.7,246.07 429.92,246.11 431.15,246.14 432.38,246.18 433.61,246.21 434.84,246.25 436.07,246.28 437.3,246.3 438.53,246.33 439.76,246.35 440.98,246.37 442.21,246.39 443.44,246.41 444.67,246.42 445.9,246.44 447.13,246.46 448.36,246.47 449.59,246.48 450.82,246.48 452.05,246.48 453.27,246.48 454.5,246.48 455.73,246.48 456.96,246.48 458.19,246.48 459.42,246.48 460.65,246.48 461.88,246.48 463.11,246.48 464.33,246.48 465.56,246.48 466.79,246.48 468.02,246.47 469.25,246.46 470.48,246.44 471.71,246.42 472.94,246.4 474.17,246.37 475.39,246.33 476.62,246.3 477.85,246.25 479.08,246.21 480.31,246.16 481.54,246.07 482.77,245.94 484,245.79 485.23,245.62 486.45,245.44 487.68,245.24 488.91,245.05 490.14,244.85 491.37,244.65 492.6,244.42 493.83,244.17 495.06,243.91 496.29,243.65 497.51,243.38 498.74,243.11 499.97,242.85 501.2,242.6 502.43,242.36 503.66,242.11 504.89,241.87 506.12,241.63 507.35,241.39 508.57,241.15 509.8,240.91 511.03,240.67 512.26,240.43 513.49,240.19 514.72,239.94 515.95,239.69 517.18,239.44 518.41,239.2 519.64,238.96 520.86,238.73 522.09,238.51 523.32,238.31 524.55,238.12 525.78,237.91 527.01,237.71 528.24,237.5 529.47,237.3 530.7,237.1 531.92,236.91 533.15,236.74 534.38,236.58 535.61,236.44 536.84,236.32 538.07,236.22 539.3,236.15 540.53,236.12 541.76,236.09 542.98,236.07 544.21,236.06 545.44,236.04 546.67,236.02 547.9,236.01 549.13,236 550.36,235.99 551.59,235.98 552.82,235.98 554.04,235.97 555.27,235.97 556.5,235.98 557.73,236 558.96,236.03 560.19,236.08 561.42,236.13 562.65,236.2 563.88,236.27 565.1,236.35 566.33,236.44 567.56,236.54 568.79,236.64 570.02,236.75 571.25,236.86 572.48,236.97 573.71,237.11 574.94,237.31 576.16,237.55 577.39,237.81 578.62,238.11 579.85,238.41 581.08,238.71 582.31,239 583.54,239.29 584.77,239.58 586,239.89 587.23,240.2 588.45,240.51 589.68,240.81 590.91,241.09 592.14,241.36 593.37,241.61 594.6,241.86 595.83,242.11 597.06,242.35 598.29,242.59 599.51,242.82 600.74,243.04 601.97,243.25 603.2,243.46 604.43,243.66 605.66,243.84 606.89,244.02 608.12,244.18 609.35,244.34 610.57,244.5 611.8,244.65 613.03,244.8 614.26,244.94 615.49,245.08 616.72,245.21 617.95,245.34 619.18,245.46 620.41,245.57 621.63,245.69 622.86,245.79 624.09,245.89 625.32,245.99 626.55,246.09 627.78,246.18 629.01,246.27 630.24,246.35 631.47,246.44 632.69,246.52 633.92,246.6 635.15,246.67 636.38,246.75 637.61,246.82 638.84,246.9 640.07,246.97 641.3,247.03 642.53,247.1 643.76,247.17 644.98,247.23 646.21,247.3 647.44,247.36 648.67,247.42 649.9,247.48 651.13,247.54 652.36,247.6 653.59,247.66 654.82,247.72 656.04,247.77 657.27,247.83 658.5,247.88 659.73,247.94 660.96,247.99 662.19,248.04 663.42,248.09 664.65,248.14 665.88,248.18 667.1,248.23 668.33,248.27 669.56,248.31 670.79,248.36" stroke="#d8403a" stroke-dasharray="4.60 4.60"/>
<polyline points="370.94,248.5 372.17,248.5 373.39,248.5 374.62,248.5 375.85,248.5 377.08,248.5 378.31,248.5 379.54,248.5 380.77,248.5 382,248.5 383.23,248.5 384.45,248.5 385.68,248.5 386.91,248.5 388.14,248.5 389.37,248.5 390.6,248.5 391.83,248.5 393.06,248.5 394.29,248.5 395.52,248.5 396.74,248.5 397.97,248.5 399.2,248.5 400.43,248.5 401.66,248.5 402.89,248.5 404.12,248.49 405.35,248.42 406.58,248.27 407.8,248.09 409.03,247.89 410.26,247.64 411.49,247.3 412.72,246.92 413.95,246.52 415.18,246.14 416.41,245.79 417.64,245.38 418.86,244.95 420.09,244.57 421.32,244.3 422.55,244.18 423.78,244.21 425.01,244.29 426.24,244.41 427.47,244.55 428.7,244.71 429.92,244.88 431.15,245.03 432.38,245.19 433.61,245.36 434.84,245.56 436.07,245.75 437.3,245.95 438.53,246.13 439.76,246.3 440.98,246.43 442.21,246.53 443.44,246.63 444.67,246.73 445.9,246.82 447.13,246.9 448.36,246.97 449.59,247.02 450.82,247.05 452.05,247.06 453.27,247.05 454.5,247.03 455.73,247 456.96,246.96 458.19,246.91 459.42,246.85 460.65,246.79 461.88,246.72 463.11,246.65 464.33,246.54 465.56,246.39 466.79,246.23 468.02,246.04 469.25,245.83 470.48,245.62 471.71,245.39 472.94,245.16 474.17,244.93 475.39,244.7 476.62,244.44 477.85,244.16 479.08,243.86 480.31,243.55 481.54,243.24 482.77,242.92 484,242.61 485.23,242.3 486.45,242.01 487.68,241.71 488.91,241.41 490.14,241.11 491.37,240.8 492.6,240.49 493.83,240.19 495.06,239.89 496.29,239.6 497.51,239.32 498.74,239.05 499.97,238.79 501.2,238.55 502.43,238.33 503.66,238.1 504.89,237.88 506.12,237.66 507.35,237.44 508.57,237.22 509.8,237.01 511.03,236.81 512.26,236.61 513.49,236.43 514.72,236.26 515.95,236.11 517.18,235.97 518.41,235.86 519.64,235.76 520.86,235.68 522.09,235.62 523.32,235.56 524.55,235.5 525.78,235.45 527.01,235.39 528.24,235.35 529.47,235.3 530.7,235.26 531.92,235.23 533.15,235.21 534.38,235.19 535.61,235.18 536.84,235.18 538.07,235.22 539.3,235.29 540.53,235.4 541.76,235.52 542.98,235.67 544.21,235.83 545.44,236 546.67,236.17 547.9,236.33 549.13,236.49 550.36,236.67 551.59,236.86 552.82,237.07 554.04,237.28 555.27,237.5 556.5,237.73 557.73,237.96 558.96,238.19 560.19,238.42 561.42,238.64 562.65,238.85 563.88,239.07 565.1,239.28 566.33,239.5 567.56,239.72 568.79,239.94 570.02,240.15 571.25,240.37 572.48,240.58 573.71,240.79 574.94,241 576.16,241.2 577.39,241.39 578.62,241.58 579.85,241.76 581.08,241.94 582.31,242.12 583.54,242.29 584.77,242.46 586,242.63 587.23,242.8 588.45,242.96 589.68,243.13 590.91,243.29 592.14,243.46 593.37,243.62 594.6,243.79 595.83,243.95 597.06,244.12 598.29,244.29 599.51,244.45 600.74,244.62 601.97,244.78 603.2,244.94 604.43,245.1 605.66,245.25 606.89,245.4 608.12,245.55 609.35,245.69 610.57,245.83 611.8,245.97 613.03,246.11 614.26,246.25 615.49,246.39 616.72,246.52 617.95,246.65 619.18,246.77 620.41,246.89 621.63,247 622.86,247.1 624.09,247.19 625.32,247.28 626.55,247.37 627.78,247.45 629.01,247.54 630.24,247.62 631.47,247.69 632.69,247.77 633.92,247.84 635.15,247.9 636.38,247.96 637.61,248.02 638.84,248.06 640.07,248.1 641.3,248.14 642.53,248.16 643.76,248.19 644.98,248.21 646.21,248.24 647.44,248.26 648.67,248.28 649.9,248.3 651.13,248.32 652.36,248.34 653.59,248.36 654.82,248.38 656.04,248.4 657.27,248.41 658.5,248.43 659.73,248.44 660.96,248.45 662.19,248.46 663.42,248.47 664.65,248.48 665.88,248.49 667.1,248.49 668.33,248.5 669.56,248.5 670.79,248.5" stroke="#24963a" stroke-dasharray="1.5 3.1"/>
<polyline points="439.87,248.5 441.1,248.45 442.33,248.37 443.55,248.26 444.78,248.14 446.01,247.98 447.24,247.78 448.47,247.52 449.7,247.21 450.92,246.76 452.15,245.93 453.38,244.77 454.61,243.39 455.84,241.51 457.07,239.59 458.29,238.37 459.52,237.45 460.75,236.92 461.98,236.58 463.21,236.33 464.44,236.2 465.66,236.34 466.89,236.8 468.12,236.97 469.35,236.74 470.58,236.41 471.8,236.2 473.03,236.33 474.26,236.85 475.49,237.64 476.72,238.53 477.95,239.91 479.17,241.45 480.4,243.04 481.63,244.48 482.86,245.53 484.09,246.44 485.32,247.01 486.54,247.23 487.77,247.4 489,247.52 490.23,247.6 491.46,247.64 492.69,247.6 493.91,247.51 495.14,247.36 496.37,247.17 497.6,246.96 498.83,246.74 500.06,246.53 501.28,246.33 502.51,246.15 503.74,245.96 504.97,245.76 506.2,245.56 507.43,245.36 508.65,245.15 509.88,244.94 511.11,244.73 512.34,244.51 513.57,244.3 514.8,244.08 516.02,243.86 517.25,243.64 518.48,243.41 519.71,243.19 520.94,242.98 522.17,242.76 523.39,242.54 524.62,242.32 525.85,242.08 527.08,241.83 528.31,241.57 529.54,241.29 530.76,240.97 531.99,240.6 533.22,240.22 534.45,239.83 535.68,239.44 536.91,239 538.13,238.55 539.36,238.11 540.59,237.71 541.82,237.39 543.05,237.14 544.28,236.9 545.5,236.68 546.73,236.48 547.96,236.3 549.19,236.15 550.42,236.02 551.65,235.92 552.87,235.84 554.1,235.76 555.33,235.69 556.56,235.62 557.79,235.56 559.01,235.51 560.24,235.46 561.47,235.41 562.7,235.38 563.93,235.35 565.16,235.33 566.38,235.32 567.61,235.35 568.84,235.45 570.07,235.61 571.3,235.83 572.53,236.09 573.75,236.38 574.98,236.69 576.21,237.01 577.44,237.32 578.67,237.61 579.9,237.93 581.12,238.3 582.35,238.69 583.58,239.1 584.81,239.52 586.04,239.94 587.27,240.36 588.49,240.75 589.72,241.12 590.95,241.45 592.18,241.73 593.41,241.98 594.64,242.23 595.86,242.47 597.09,242.69 598.32,242.9 599.55,243.11 600.78,243.3 602.01,243.49 603.23,243.67 604.46,243.84 605.69,244.01 606.92,244.17 608.15,244.32 609.38,244.47 610.6,244.61 611.83,244.75 613.06,244.88 614.29,245.01 615.52,245.13 616.75,245.25 617.97,245.37 619.2,245.48 620.43,245.59 621.66,245.69 622.89,245.8 624.12,245.9 625.34,245.99 626.57,246.09 627.8,246.18 629.03,246.27 630.26,246.36 631.49,246.45 632.71,246.53 633.94,246.62 635.17,246.7 636.4,246.78 637.63,246.86 638.86,246.94 640.08,247.01 641.31,247.08 642.54,247.16 643.77,247.23 645,247.3 646.22,247.36 647.45,247.43 648.68,247.49 649.91,247.55 651.14,247.61 652.37,247.67 653.59,247.72 654.82,247.77 656.05,247.82 657.28,247.86 658.51,247.91 659.74,247.96 660.96,248 662.19,248.05 663.42,248.1 664.65,248.15 665.88,248.21 667.11,248.27 668.33,248.34 669.56,248.42 670.79,248.5" stroke="#2c3a88" stroke-dasharray="1.5 3.1 4.6 3.45"/>
<polyline points="370.94,248.5 372.17,248.5 373.39,248.5 374.62,248.5 375.85,248.5 377.08,248.5 378.31,248.5 379.54,248.5 380.77,248.5 382,248.5 383.23,248.5 384.45,248.5 385.68,248.5 386.91,248.5 388.14,248.5 389.37,248.5 390.6,248.5 391.83,248.5 393.06,248.5 394.29,248.5 395.52,248.5 396.74,248.5 397.97,248.5 399.2,248.5 400.43,248.5 401.66,248.5 402.89,248.5 404.12,248.5 405.35,248.44 406.58,248.33 407.8,248.18 409.03,248.01 410.26,247.83 411.49,247.61 412.72,247.3 413.95,246.94 415.18,246.57 416.41,246.22 417.64,245.95 418.86,245.69 420.09,245.43 421.32,245.2 422.55,245.02 423.78,244.91 425.01,244.91 426.24,244.96 427.47,245.05 428.7,245.16 429.92,245.3 431.15,245.43 432.38,245.56 433.61,245.68 434.84,245.82 436.07,245.96 437.3,246.11 438.53,246.26 439.76,246.41 440.98,246.53 442.21,246.63 443.44,246.71 444.67,246.76 445.9,246.82 447.13,246.87 448.36,246.92 449.59,246.96 450.82,246.99 452.05,247.02 453.27,247.05 454.5,247.06 455.73,247.06 456.96,247.05 458.19,247.04 459.42,247.01 460.65,246.98 461.88,246.94 463.11,246.89 464.33,246.84 465.56,246.79 466.79,246.73 468.02,246.67 469.25,246.57 470.48,246.43 471.71,246.26 472.94,246.08 474.17,245.87 475.39,245.65 476.62,245.42 477.85,245.2 479.08,244.97 480.31,244.76 481.54,244.53 482.77,244.29 484,244.03 485.23,243.77 486.45,243.51 487.68,243.24 488.91,242.97 490.14,242.7 491.37,242.43 492.6,242.17 493.83,241.91 495.06,241.65 496.29,241.38 497.51,241.11 498.74,240.84 499.97,240.57 501.2,240.31 502.43,240.04 503.66,239.78 504.89,239.53 506.12,239.28 507.35,239.05 508.57,238.82 509.8,238.6 511.03,238.37 512.26,238.15 513.49,237.92 514.72,237.69 515.95,237.47 517.18,237.26 518.41,237.05 519.64,236.86 520.86,236.68 522.09,236.51 523.32,236.37 524.55,236.24 525.78,236.13 527.01,236.05 528.24,235.96 529.47,235.88 530.7,235.8 531.92,235.72 533.15,235.65 534.38,235.59 535.61,235.53 536.84,235.48 538.07,235.45 539.3,235.42 540.53,235.4 541.76,235.4 542.98,235.41 544.21,235.45 545.44,235.5 546.67,235.57 547.9,235.65 549.13,235.74 550.36,235.84 551.59,235.95 552.82,236.05 554.04,236.15 555.27,236.27 556.5,236.41 557.73,236.56 558.96,236.73 560.19,236.91 561.42,237.1 562.65,237.29 563.88,237.49 565.1,237.69 566.33,237.89 567.56,238.09 568.79,238.29 570.02,238.51 571.25,238.73 572.48,238.96 573.71,239.19 574.94,239.43 576.16,239.67 577.39,239.91 578.62,240.15 579.85,240.39 581.08,240.61 582.31,240.84 583.54,241.05 584.77,241.26 586,241.47 587.23,241.68 588.45,241.88 589.68,242.09 590.91,242.29 592.14,242.49 593.37,242.68 594.6,242.88 595.83,243.07 597.06,243.25 598.29,243.44 599.51,243.63 600.74,243.81 601.97,243.99 603.2,244.17 604.43,244.35 605.66,244.53 606.89,244.7 608.12,244.87 609.35,245.04 610.57,245.2 611.8,245.36 613.03,245.51 614.26,245.66 615.49,245.8 616.72,245.95 617.95,246.09 619.18,246.22 620.41,246.36 621.63,246.49 622.86,246.62 624.09,246.74 625.32,246.86 626.55,246.97 627.78,247.07 629.01,247.17 630.24,247.27 631.47,247.36 632.69,247.45 633.92,247.54 635.15,247.63 636.38,247.72 637.61,247.8 638.84,247.88 640.07,247.95 641.3,248.01 642.53,248.06 643.76,248.11 644.98,248.14 646.21,248.17 647.44,248.2 648.67,248.23 649.9,248.25 651.13,248.28 652.36,248.3 653.59,248.33 654.82,248.35 656.04,248.37 657.27,248.39 658.5,248.41 659.73,248.42 660.96,248.44 662.19,248.45 663.42,248.46 664.65,248.48 665.88,248.48 667.1,248.49 668.33,248.5 669.56,248.5 670.79,248.5" stroke="#38a8e0" stroke-dasharray="8.05 3.45"/>
<polyline points="370.94,248.5 372.17,248.5 373.39,248.5 374.62,248.5 375.85,248.5 377.08,248.5 378.31,248.5 379.54,248.5 380.77,248.5 382,248.5 383.23,248.5 384.45,248.5 385.68,248.5 386.91,248.5 388.14,248.5 389.37,248.5 390.6,248.5 391.83,248.5 393.06,248.5 394.29,248.5 395.52,248.5 396.74,248.5 397.97,248.5 399.2,248.5 400.43,248.5 401.66,248.5 402.89,248.5 404.12,248.49 405.35,248.36 406.58,248.14 407.8,247.86 409.03,247.6 410.26,247.26 411.49,246.84 412.72,246.39 413.95,245.95 415.18,245.58 416.41,245.34 417.64,245.26 418.86,245.28 420.09,245.31 421.32,245.37 422.55,245.43 423.78,245.5 425.01,245.56 426.24,245.63 427.47,245.69 428.7,245.77 429.92,245.85 431.15,245.94 432.38,246.02 433.61,246.11 434.84,246.18 436.07,246.25 437.3,246.31 438.53,246.35 439.76,246.39 440.98,246.43 442.21,246.46 443.44,246.5 444.67,246.53 445.9,246.56 447.13,246.58 448.36,246.6 449.59,246.62 450.82,246.63 452.05,246.63 453.27,246.63 454.5,246.62 455.73,246.61 456.96,246.6 458.19,246.59 459.42,246.58 460.65,246.56 461.88,246.54 463.11,246.53 464.33,246.51 465.56,246.49 466.79,246.47 468.02,246.44 469.25,246.41 470.48,246.38 471.71,246.34 472.94,246.29 474.17,246.25 475.39,246.19 476.62,246.14 477.85,246.07 479.08,246 480.31,245.92 481.54,245.81 482.77,245.66 484,245.49 485.23,245.3 486.45,245.1 487.68,244.88 488.91,244.66 490.14,244.43 491.37,244.21 492.6,243.99 493.83,243.76 495.06,243.5 496.29,243.24 497.51,242.97 498.74,242.7 499.97,242.43 501.2,242.16 502.43,241.9 503.66,241.65 504.89,241.42 506.12,241.18 507.35,240.94 508.57,240.71 509.8,240.48 511.03,240.25 512.26,240.03 513.49,239.81 514.72,239.59 515.95,239.38 517.18,239.18 518.41,238.98 519.64,238.77 520.86,238.56 522.09,238.36 523.32,238.15 524.55,237.95 525.78,237.77 527.01,237.59 528.24,237.43 529.47,237.29 530.7,237.17 531.92,237.07 533.15,236.97 534.38,236.87 535.61,236.77 536.84,236.68 538.07,236.59 539.3,236.51 540.53,236.44 541.76,236.38 542.98,236.33 544.21,236.29 545.44,236.27 546.67,236.26 547.9,236.26 549.13,236.27 550.36,236.29 551.59,236.32 552.82,236.35 554.04,236.38 555.27,236.42 556.5,236.46 557.73,236.51 558.96,236.56 560.19,236.61 561.42,236.66 562.65,236.74 563.88,236.83 565.1,236.94 566.33,237.07 567.56,237.2 568.79,237.35 570.02,237.5 571.25,237.66 572.48,237.82 573.71,237.98 574.94,238.15 576.16,238.33 577.39,238.53 578.62,238.75 579.85,238.98 581.08,239.21 582.31,239.45 583.54,239.69 584.77,239.92 586,240.15 587.23,240.38 588.45,240.61 589.68,240.85 590.91,241.08 592.14,241.31 593.37,241.55 594.6,241.78 595.83,242.01 597.06,242.23 598.29,242.45 599.51,242.68 600.74,242.91 601.97,243.13 603.2,243.35 604.43,243.57 605.66,243.79 606.89,243.99 608.12,244.19 609.35,244.38 610.57,244.55 611.8,244.72 613.03,244.89 614.26,245.05 615.49,245.21 616.72,245.37 617.95,245.52 619.18,245.66 620.41,245.8 621.63,245.94 622.86,246.06 624.09,246.18 625.32,246.29 626.55,246.39 627.78,246.48 629.01,246.58 630.24,246.67 631.47,246.76 632.69,246.84 633.92,246.93 635.15,247.01 636.38,247.09 637.61,247.16 638.84,247.24 640.07,247.31 641.3,247.38 642.53,247.44 643.76,247.5 644.98,247.56 646.21,247.62 647.44,247.67 648.67,247.72 649.9,247.77 651.13,247.82 652.36,247.86 653.59,247.91 654.82,247.95 656.04,247.99 657.27,248.03 658.5,248.07 659.73,248.11 660.96,248.15 662.19,248.18 663.42,248.21 664.65,248.24 665.88,248.27 667.1,248.3 668.33,248.32 669.56,248.34 670.79,248.36" stroke="#a82078" stroke-dasharray="2.30 2.30 6.90 2.30"/>
<polyline points="370.94,248.5 372.17,248.5 373.39,248.5 374.62,248.5 375.85,248.5 377.08,248.5 378.31,248.5 379.54,248.5 380.77,248.5 382,248.5 383.23,248.5 384.45,248.5 385.68,248.5 386.91,248.5 388.14,248.5 389.37,248.5 390.6,248.5 391.83,248.5 393.06,248.5 394.29,248.5 395.52,248.5 396.74,248.5 397.97,248.5 399.2,248.5 400.43,248.5 401.66,248.5 402.89,248.5 404.12,248.48 405.35,248.29 406.58,248.04 407.8,247.75 409.03,247.4 410.26,247.01 411.49,246.61 412.72,246.19 413.95,245.66 415.18,245.04 416.41,244.39 417.64,243.79 418.86,243.3 420.09,242.97 421.32,242.89 422.55,242.95 423.78,243.09 425.01,243.29 426.24,243.53 427.47,243.78 428.7,244.02 429.92,244.25 431.15,244.5 432.38,244.78 433.61,245.07 434.84,245.36 436.07,245.63 437.3,245.85 438.53,246.03 439.76,246.2 440.98,246.36 442.21,246.51 443.44,246.65 444.67,246.77 445.9,246.85 447.13,246.91 448.36,246.92 449.59,246.92 450.82,246.92 452.05,246.92 453.27,246.92 454.5,246.92 455.73,246.92 456.96,246.92 458.19,246.89 459.42,246.82 460.65,246.69 461.88,246.54 463.11,246.35 464.33,246.15 465.56,245.94 466.79,245.73 468.02,245.52 469.25,245.29 470.48,245.04 471.71,244.76 472.94,244.47 474.17,244.16 475.39,243.84 476.62,243.51 477.85,243.18 479.08,242.85 480.31,242.52 481.54,242.15 482.77,241.76 484,241.35 485.23,240.93 486.45,240.51 487.68,240.1 488.91,239.7 490.14,239.32 491.37,238.96 492.6,238.65 493.83,238.38 495.06,238.14 496.29,237.91 497.51,237.68 498.74,237.46 499.97,237.25 501.2,237.05 502.43,236.85 503.66,236.66 504.89,236.48 506.12,236.31 507.35,236.15 508.57,235.99 509.8,235.85 511.03,235.72 512.26,235.6 513.49,235.5 514.72,235.4 515.95,235.32 517.18,235.24 518.41,235.17 519.64,235.09 520.86,235.02 522.09,234.95 523.32,234.89 524.55,234.83 525.78,234.77 527.01,234.73 528.24,234.69 529.47,234.65 530.7,234.63 531.92,234.61 533.15,234.6 534.38,234.64 535.61,234.76 536.84,234.95 538.07,235.19 539.3,235.47 540.53,235.77 541.76,236.08 542.98,236.39 544.21,236.67 545.44,236.93 546.67,237.18 547.9,237.44 549.13,237.71 550.36,237.98 551.59,238.25 552.82,238.53 554.04,238.79 555.27,239.05 556.5,239.31 557.73,239.55 558.96,239.77 560.19,239.98 561.42,240.19 562.65,240.39 563.88,240.58 565.1,240.77 566.33,240.95 567.56,241.13 568.79,241.31 570.02,241.48 571.25,241.65 572.48,241.82 573.71,241.98 574.94,242.14 576.16,242.3 577.39,242.46 578.62,242.62 579.85,242.78 581.08,242.93 582.31,243.08 583.54,243.22 584.77,243.36 586,243.5 587.23,243.64 588.45,243.78 589.68,243.93 590.91,244.07 592.14,244.21 593.37,244.36 594.6,244.51 595.83,244.66 597.06,244.82 598.29,244.97 599.51,245.12 600.74,245.27 601.97,245.42 603.2,245.56 604.43,245.7 605.66,245.84 606.89,245.97 608.12,246.09 609.35,246.22 610.57,246.34 611.8,246.46 613.03,246.58 614.26,246.7 615.49,246.82 616.72,246.93 617.95,247.04 619.18,247.14 620.41,247.24 621.63,247.32 622.86,247.41 624.09,247.48 625.32,247.55 626.55,247.62 627.78,247.69 629.01,247.75 630.24,247.81 631.47,247.87 632.69,247.93 633.92,247.98 635.15,248.03 636.38,248.08 637.61,248.12 638.84,248.15 640.07,248.18 641.3,248.21 642.53,248.23 643.76,248.25 644.98,248.27 646.21,248.29 647.44,248.31 648.67,248.32 649.9,248.34 651.13,248.36 652.36,248.37 653.59,248.39 654.82,248.4 656.04,248.42 657.27,248.43 658.5,248.44 659.73,248.45 660.96,248.46 662.19,248.47 663.42,248.48 664.65,248.48 665.88,248.49 667.1,248.49 668.33,248.5 669.56,248.5 670.79,248.5" stroke="#dcc410"/>
<polyline points="370.94,248.5 372.17,248.5 373.39,248.5 374.62,248.5 375.85,248.5 377.08,248.5 378.31,248.5 379.54,248.5 380.77,248.5 382,248.5 383.23,248.5 384.45,248.5 385.68,248.5 386.91,248.5 388.14,248.5 389.37,248.5 390.6,248.5 391.83,248.5 393.06,248.5 394.29,248.5 395.52,248.5 396.74,248.5 397.97,248.5 399.2,248.5 400.43,248.5 401.66,248.5 402.89,248.5 404.12,248.48 405.35,248.31 406.58,248.04 407.8,247.78 409.03,247.47 410.26,247.13 411.49,246.76 412.72,246.38 413.95,246 415.18,245.58 416.41,245.07 417.64,244.54 418.86,244.05 420.09,243.68 421.32,243.48 422.55,243.48 423.78,243.55 425.01,243.69 426.24,243.86 427.47,244.06 428.7,244.27 429.92,244.47 431.15,244.66 432.38,244.89 433.61,245.15 434.84,245.42 436.07,245.68 437.3,245.93 438.53,246.15 439.76,246.33 440.98,246.47 442.21,246.61 443.44,246.75 444.67,246.87 445.9,246.97 447.13,247.03 448.36,247.06 449.59,247.06 450.82,247.05 452.05,247.04 453.27,247.03 454.5,247.01 455.73,246.99 456.96,246.96 458.19,246.93 459.42,246.89 460.65,246.8 461.88,246.66 463.11,246.47 464.33,246.25 465.56,246.01 466.79,245.76 468.02,245.5 469.25,245.24 470.48,244.97 471.71,244.66 472.94,244.33 474.17,243.97 475.39,243.6 476.62,243.23 477.85,242.86 479.08,242.5 480.31,242.15 481.54,241.78 482.77,241.4 484,241.01 485.23,240.61 486.45,240.23 487.68,239.85 488.91,239.49 490.14,239.15 491.37,238.84 492.6,238.56 493.83,238.32 495.06,238.08 496.29,237.86 497.51,237.63 498.74,237.42 499.97,237.21 501.2,237.01 502.43,236.81 503.66,236.63 504.89,236.45 506.12,236.29 507.35,236.13 508.57,235.99 509.8,235.87 511.03,235.75 512.26,235.65 513.49,235.57 514.72,235.5 515.95,235.43 517.18,235.36 518.41,235.3 519.64,235.24 520.86,235.18 522.09,235.13 523.32,235.08 524.55,235.04 525.78,235.01 527.01,234.98 528.24,234.97 529.47,234.96 530.7,234.99 531.92,235.05 533.15,235.15 534.38,235.28 535.61,235.44 536.84,235.61 538.07,235.8 539.3,235.99 540.53,236.19 541.76,236.39 542.98,236.58 544.21,236.76 545.44,236.96 546.67,237.18 547.9,237.41 549.13,237.64 550.36,237.88 551.59,238.13 552.82,238.38 554.04,238.62 555.27,238.86 556.5,239.1 557.73,239.32 558.96,239.53 560.19,239.73 561.42,239.94 562.65,240.13 563.88,240.33 565.1,240.52 566.33,240.71 567.56,240.9 568.79,241.09 570.02,241.27 571.25,241.45 572.48,241.63 573.71,241.81 574.94,241.99 576.16,242.16 577.39,242.33 578.62,242.5 579.85,242.67 581.08,242.84 582.31,243 583.54,243.17 584.77,243.33 586,243.49 587.23,243.64 588.45,243.8 589.68,243.95 590.91,244.11 592.14,244.26 593.37,244.41 594.6,244.56 595.83,244.71 597.06,244.86 598.29,245.01 599.51,245.15 600.74,245.3 601.97,245.44 603.2,245.58 604.43,245.71 605.66,245.84 606.89,245.97 608.12,246.09 609.35,246.21 610.57,246.34 611.8,246.46 613.03,246.58 614.26,246.7 615.49,246.82 616.72,246.93 617.95,247.04 619.18,247.14 620.41,247.23 621.63,247.32 622.86,247.41 624.09,247.48 625.32,247.55 626.55,247.62 627.78,247.69 629.01,247.75 630.24,247.81 631.47,247.87 632.69,247.93 633.92,247.98 635.15,248.03 636.38,248.08 637.61,248.12 638.84,248.15 640.07,248.18 641.3,248.21 642.53,248.23 643.76,248.25 644.98,248.27 646.21,248.29 647.44,248.31 648.67,248.32 649.9,248.34 651.13,248.36 652.36,248.37 653.59,248.39 654.82,248.4 656.04,248.42 657.27,248.43 658.5,248.44 659.73,248.45 660.96,248.46 662.19,248.47 663.42,248.48 664.65,248.48 665.88,248.49 667.1,248.49 668.33,248.5 669.56,248.5 670.79,248.5" stroke="#a4a4a4" stroke-dasharray="4.60 4.60"/>
<polyline points="431.42,248.5 432.65,248.49 433.88,248.45 435.11,248.4 436.33,248.32 437.56,248.22 438.79,248.11 440.02,247.97 441.24,247.82 442.47,247.59 443.7,247.12 444.93,246.45 446.15,245.67 447.38,244.84 448.61,244.03 449.84,243.19 451.07,242.26 452.29,241.4 453.52,240.72 454.75,240.14 455.98,239.54 457.2,238.81 458.43,237.83 459.66,236.97 460.89,236.56 462.11,236.36 463.34,236.23 464.57,236.19 465.8,237.64 467.02,239.83 468.25,241.34 469.48,242.69 470.71,243.82 471.93,244.84 473.16,245.7 474.39,246.29 475.62,246.75 476.84,247.12 478.07,247.39 479.3,247.54 480.53,247.64 481.75,247.7 482.98,247.71 484.21,247.69 485.44,247.66 486.66,247.63 487.89,247.58 489.12,247.53 490.35,247.48 491.57,247.42 492.8,247.34 494.03,247.24 495.26,247.11 496.48,246.97 497.71,246.81 498.94,246.65 500.17,246.48 501.39,246.32 502.62,246.15 503.85,245.97 505.08,245.78 506.3,245.58 507.53,245.38 508.76,245.16 509.99,244.95 511.21,244.73 512.44,244.5 513.67,244.27 514.9,244.04 516.12,243.79 517.35,243.54 518.58,243.28 519.81,243.01 521.03,242.75 522.26,242.48 523.49,242.2 524.72,241.93 525.94,241.65 527.17,241.36 528.4,241.07 529.63,240.77 530.85,240.47 532.08,240.17 533.31,239.87 534.54,239.57 535.76,239.26 536.99,238.94 538.22,238.6 539.45,238.27 540.67,237.94 541.9,237.63 543.13,237.34 544.36,237.09 545.58,236.88 546.81,236.68 548.04,236.49 549.27,236.31 550.49,236.14 551.72,235.99 552.95,235.86 554.18,235.76 555.4,235.68 556.63,235.62 557.86,235.56 559.09,235.51 560.31,235.46 561.54,235.41 562.77,235.38 564,235.35 565.22,235.33 566.45,235.32 567.68,235.35 568.91,235.44 570.13,235.58 571.36,235.78 572.59,236.02 573.82,236.28 575.04,236.56 576.27,236.85 577.5,237.13 578.73,237.41 579.95,237.72 581.18,238.08 582.41,238.48 583.64,238.9 584.86,239.33 586.09,239.77 587.32,240.2 588.55,240.6 589.77,240.98 591,241.31 592.23,241.6 593.46,241.85 594.68,242.1 595.91,242.33 597.14,242.55 598.37,242.77 599.59,242.97 600.82,243.16 602.05,243.35 603.28,243.53 604.51,243.7 605.73,243.87 606.96,244.03 608.19,244.18 609.42,244.33 610.64,244.48 611.87,244.62 613.1,244.76 614.33,244.9 615.55,245.03 616.78,245.15 618.01,245.27 619.24,245.39 620.46,245.51 621.69,245.62 622.92,245.72 624.15,245.83 625.37,245.93 626.6,246.03 627.83,246.12 629.06,246.22 630.28,246.31 631.51,246.4 632.74,246.49 633.97,246.58 635.19,246.67 636.42,246.75 637.65,246.83 638.88,246.91 640.1,246.99 641.33,247.07 642.56,247.15 643.79,247.22 645.01,247.29 646.24,247.36 647.47,247.43 648.7,247.49 649.92,247.55 651.15,247.61 652.38,247.67 653.61,247.72 654.83,247.77 656.06,247.82 657.29,247.87 658.52,247.91 659.74,247.96 660.97,248 662.2,248.05 663.43,248.1 664.65,248.15 665.88,248.21 667.11,248.27 668.34,248.34 669.56,248.42 670.79,248.5" stroke="#0a0a0a" stroke-dasharray="1.5 3.1"/>
<polyline points="370.94,248.5 372.17,248.5 373.39,248.5 374.62,248.5 375.85,248.5 377.08,248.5 378.31,248.5 379.54,248.5 380.77,248.5 382,248.5 383.23,248.5 384.45,248.5 385.68,248.5 386.91,248.5 388.14,248.5 389.37,248.5 390.6,248.5 391.83,248.5 393.06,248.5 394.29,248.5 395.52,248.5 396.74,248.5 397.97,248.5 399.2,248.5 400.43,248.5 401.66,248.5 402.89,248.5 404.12,248.49 405.35,248.42 406.58,248.29 407.8,248.11 409.03,247.9 410.26,247.69 411.49,247.45 412.72,247.1 413.95,246.69 415.18,246.28 416.41,245.91 417.64,245.62 418.86,245.48 420.09,245.49 421.32,245.53 422.55,245.59 423.78,245.67 425.01,245.75 426.24,245.83 427.47,245.89 428.7,245.95 429.92,246 431.15,246.06 432.38,246.12 433.61,246.18 434.84,246.23 436.07,246.27 437.3,246.31 438.53,246.33 439.76,246.34 440.98,246.34 442.21,246.34 443.44,246.34 444.67,246.34 445.9,246.34 447.13,246.34 448.36,246.34 449.59,246.34 450.82,246.34 452.05,246.34 453.27,246.34 454.5,246.34 455.73,246.34 456.96,246.34 458.19,246.34 459.42,246.34 460.65,246.34 461.88,246.34 463.11,246.34 464.33,246.34 465.56,246.34 466.79,246.34 468.02,246.33 469.25,246.32 470.48,246.3 471.71,246.28 472.94,246.25 474.17,246.22 475.39,246.19 476.62,246.15 477.85,246.11 479.08,246.07 480.31,246.01 481.54,245.93 482.77,245.82 484,245.68 485.23,245.52 486.45,245.34 487.68,245.15 488.91,244.96 490.14,244.76 491.37,244.57 492.6,244.37 493.83,244.16 495.06,243.93 496.29,243.68 497.51,243.43 498.74,243.17 499.97,242.91 501.2,242.65 502.43,242.4 503.66,242.16 504.89,241.92 506.12,241.68 507.35,241.44 508.57,241.2 509.8,240.96 511.03,240.72 512.26,240.49 513.49,240.26 514.72,240.04 515.95,239.81 517.18,239.59 518.41,239.37 519.64,239.15 520.86,238.93 522.09,238.71 523.32,238.5 524.55,238.3 525.78,238.12 527.01,237.94 528.24,237.78 529.47,237.62 530.7,237.46 531.92,237.29 533.15,237.13 534.38,236.97 535.61,236.82 536.84,236.67 538.07,236.54 539.3,236.42 540.53,236.32 541.76,236.23 542.98,236.17 544.21,236.13 545.44,236.11 546.67,236.1 547.9,236.09 549.13,236.08 550.36,236.07 551.59,236.07 552.82,236.06 554.04,236.05 555.27,236.05 556.5,236.05 557.73,236.04 558.96,236.04 560.19,236.06 561.42,236.09 562.65,236.13 563.88,236.2 565.1,236.27 566.33,236.36 567.56,236.46 568.79,236.57 570.02,236.68 571.25,236.8 572.48,236.93 573.71,237.06 574.94,237.2 576.16,237.38 577.39,237.61 578.62,237.86 579.85,238.14 581.08,238.43 582.31,238.73 583.54,239.03 584.77,239.32 586,239.61 587.23,239.93 588.45,240.26 589.68,240.58 590.91,240.9 592.14,241.2 593.37,241.47 594.6,241.73 595.83,241.97 597.06,242.22 598.29,242.45 599.51,242.68 600.74,242.9 601.97,243.12 603.2,243.33 604.43,243.53 605.66,243.72 606.89,243.91 608.12,244.09 609.35,244.26 610.57,244.43 611.8,244.6 613.03,244.76 614.26,244.92 615.49,245.07 616.72,245.22 617.95,245.36 619.18,245.49 620.41,245.62 621.63,245.75 622.86,245.86 624.09,245.97 625.32,246.07 626.55,246.16 627.78,246.26 629.01,246.35 630.24,246.44 631.47,246.52 632.69,246.6 633.92,246.68 635.15,246.76 636.38,246.84 637.61,246.91 638.84,246.98 640.07,247.05 641.3,247.12 642.53,247.19 643.76,247.25 644.98,247.31 646.21,247.38 647.44,247.44 648.67,247.5 649.9,247.55 651.13,247.61 652.36,247.67 653.59,247.72 654.82,247.78 656.04,247.83 657.27,247.88 658.5,247.93 659.73,247.98 660.96,248.03 662.19,248.07 663.42,248.12 664.65,248.16 665.88,248.2 667.1,248.24 668.33,248.28 669.56,248.32 670.79,248.36" stroke="#e0201c" stroke-dasharray="1.5 3.1 4.6 3.45"/>
</g>
<rect x="372" y="173.5" width="298" height="78" fill="none" stroke="#555555" stroke-width="1"/>
<line x1="368.3" y1="248.5" x2="372" y2="248.5" stroke="#555555" stroke-width="1"/>
<line x1="368.3" y1="234.1" x2="372" y2="234.1" stroke="#555555" stroke-width="1"/>
<line x1="368.3" y1="219.7" x2="372" y2="219.7" stroke="#555555" stroke-width="1"/>
<line x1="368.3" y1="205.3" x2="372" y2="205.3" stroke="#555555" stroke-width="1"/>
<line x1="368.3" y1="190.9" x2="372" y2="190.9" stroke="#555555" stroke-width="1"/>
<line x1="368.3" y1="176.5" x2="372" y2="176.5" stroke="#555555" stroke-width="1"/>
<line x1="383" y1="251.5" x2="383" y2="255" stroke="#555555" stroke-width="1"/>
<line x1="469.17" y1="251.5" x2="469.17" y2="255" stroke="#555555" stroke-width="1"/>
<line x1="555.33" y1="251.5" x2="555.33" y2="255" stroke="#555555" stroke-width="1"/>
<line x1="641.5" y1="251.5" x2="641.5" y2="255" stroke="#555555" stroke-width="1"/>
<line x1="380.8" y1="181.65" x2="394.1" y2="181.65" stroke="#d8403a" stroke-width="1.25" stroke-linecap="round" stroke-dasharray="4.60 4.60"/>
<line x1="380.8" y1="190.65" x2="394.1" y2="190.65" stroke="#24963a" stroke-width="1.25" stroke-linecap="round" stroke-dasharray="1.5 3.1"/>
<line x1="380.8" y1="199.65" x2="394.1" y2="199.65" stroke="#2c3a88" stroke-width="1.25" stroke-linecap="round" stroke-dasharray="1.5 3.1 4.6 3.45"/>
<line x1="380.8" y1="208.65" x2="394.1" y2="208.65" stroke="#38a8e0" stroke-width="1.25" stroke-linecap="round" stroke-dasharray="8.05 3.45"/>
<line x1="380.8" y1="217.65" x2="394.1" y2="217.65" stroke="#a82078" stroke-width="1.25" stroke-linecap="round" stroke-dasharray="2.30 2.30 6.90 2.30"/>
<line x1="449.9" y1="181.65" x2="463.1" y2="181.65" stroke="#dcc410" stroke-width="1.25" stroke-linecap="round"/>
<line x1="449.9" y1="190.65" x2="463.1" y2="190.65" stroke="#a4a4a4" stroke-width="1.25" stroke-linecap="round" stroke-dasharray="4.60 4.60"/>
<line x1="449.9" y1="199.65" x2="463.1" y2="199.65" stroke="#0a0a0a" stroke-width="1.25" stroke-linecap="round" stroke-dasharray="1.5 3.1"/>
<line x1="449.9" y1="208.65" x2="463.1" y2="208.65" stroke="#e0201c" stroke-width="1.25" stroke-linecap="round" stroke-dasharray="1.5 3.1 4.6 3.45"/>
<g clip-path="url(#c02)" fill="none" stroke-width="1.25" stroke-linejoin="round" stroke-linecap="round">
<polyline points="28.44,392.22 29.66,392.17 30.89,392.12 32.11,392.06 33.34,392 34.56,391.92 35.79,391.84 37.01,391.75 38.24,391.64 39.46,391.53 40.69,391.4 41.91,391.26 43.14,391.11 44.36,390.94 45.59,390.76 46.81,390.56 48.04,390.34 49.26,390.11 50.49,389.85 51.71,389.58 52.93,389.29 54.16,388.98 55.38,388.65 56.61,388.3 57.83,387.94 59.06,387.55 60.28,387.15 61.51,386.73 62.73,386.29 63.96,385.84 65.18,385.38 66.41,384.91 67.63,384.42 68.86,383.93 70.08,383.44 71.31,382.94 72.53,382.45 73.76,381.96 74.98,381.47 76.21,380.99 77.43,380.53 78.66,380.08 79.88,379.65 81.11,379.25 82.33,378.87 83.56,378.51 84.78,378.19 86.01,377.9 87.23,377.64 88.46,377.43 89.68,377.25 90.91,377.11 92.13,377.01 93.36,376.96 94.58,376.95 95.81,376.96 97.03,376.98 98.26,377.02 99.48,377.07 100.71,377.14 101.93,377.21 103.16,377.3 104.38,377.41 105.61,377.52 106.83,377.65 108.06,377.79 109.28,377.94 110.5,378.1 111.73,378.27 112.95,378.46 114.18,378.65 115.4,378.85 116.63,379.06 117.85,379.28 119.08,379.51 120.3,379.74 121.53,379.98 122.75,380.23 123.98,380.49 125.2,380.74 126.43,381.01 127.65,381.27 128.88,381.54 130.1,381.82 131.33,382.09 132.55,382.37 133.78,382.65 135,382.93 136.23,383.2 137.45,383.48 138.68,383.76 139.9,384.04 141.13,384.31 142.35,384.59 143.58,384.86 144.8,385.13 146.03,385.39 147.25,385.65 148.48,385.91 149.7,386.17 150.93,386.41 152.15,386.66 153.38,386.9 154.6,387.13 155.83,387.36 157.05,387.59 158.28,387.8 159.5,388.02 160.73,388.22 161.95,388.42 163.18,388.62 164.4,388.81 165.63,388.99 166.85,389.17 168.07,389.34 169.3,389.5 170.52,389.66 171.75,389.81 172.97,389.96 174.2,390.1 175.42,390.23 176.65,390.36 177.87,390.48 179.1,390.6 180.32,390.71 181.55,390.82 182.77,390.92 184,391.02 185.22,391.11 186.45,391.2 187.67,391.29 188.9,391.36 190.12,391.44 191.35,391.51 192.57,391.58 193.8,391.64 195.02,391.7 196.25,391.76 197.47,391.81 198.7,391.86 199.92,391.9 201.15,391.95 202.37,391.99 203.6,392.03 204.82,392.06 206.05,392.1 207.27,392.13 208.5,392.16 209.72,392.18 210.95,392.21 212.17,392.23 213.4,392.25 214.62,392.27 215.85,392.29 217.07,392.31 218.3,392.33 219.52,392.34 220.75,392.36 221.97,392.37 223.2,392.38 224.42,392.39 225.64,392.4 226.87,392.41 228.09,392.42 229.32,392.42 230.54,392.43 231.77,392.44 232.99,392.44 234.22,392.45 235.44,392.45 236.67,392.46 237.89,392.46 239.12,392.47 240.34,392.47 241.57,392.47 242.79,392.48 244.02,392.48 245.24,392.48 246.47,392.48 247.69,392.48 248.92,392.49 250.14,392.49 251.37,392.49 252.59,392.49 253.82,392.49 255.04,392.49 256.27,392.49 257.49,392.49 258.72,392.49 259.94,392.49 261.17,392.5 262.39,392.5 263.62,392.5 264.84,392.5 266.07,392.5 267.29,392.5 268.52,392.5 269.74,392.5 270.97,392.5 272.19,392.5 273.42,392.5 274.64,392.5 275.87,392.5 277.09,392.5 278.32,392.5" stroke="#d8403a" stroke-dasharray="4.60 4.60"/>
<polyline points="28.44,392.42 29.67,392.4 30.89,392.38 32.12,392.36 33.35,392.34 34.58,392.31 35.81,392.27 37.04,392.23 38.26,392.18 39.49,392.12 40.72,392.06 41.95,391.99 43.18,391.9 44.41,391.81 45.64,391.71 46.86,391.59 48.09,391.45 49.32,391.3 50.55,391.14 51.78,390.95 53.01,390.75 54.24,390.52 55.46,390.28 56.69,390.01 57.92,389.72 59.15,389.4 60.38,389.06 61.61,388.7 62.83,388.31 64.06,387.89 65.29,387.45 66.52,386.99 67.75,386.5 68.98,386 70.21,385.47 71.43,384.92 72.66,384.36 73.89,383.78 75.12,383.2 76.35,382.6 77.58,382.01 78.81,381.41 80.03,380.82 81.26,380.23 82.49,379.66 83.72,379.1 84.95,378.57 86.18,378.06 87.4,377.59 88.63,377.14 89.86,376.74 91.09,376.37 92.32,376.05 93.55,375.78 94.78,375.56 96,375.4 97.23,375.28 98.46,375.23 99.69,375.22 100.92,375.25 102.15,375.3 103.37,375.37 104.6,375.46 105.83,375.58 107.06,375.72 108.29,375.89 109.52,376.07 110.75,376.28 111.97,376.51 113.2,376.75 114.43,377.02 115.66,377.3 116.89,377.59 118.12,377.9 119.35,378.23 120.57,378.57 121.8,378.91 123.03,379.27 124.26,379.64 125.49,380.01 126.72,380.39 127.94,380.78 129.17,381.17 130.4,381.56 131.63,381.95 132.86,382.35 134.09,382.74 135.32,383.13 136.54,383.52 137.77,383.9 139,384.28 140.23,384.65 141.46,385.02 142.69,385.38 143.92,385.73 145.14,386.07 146.37,386.41 147.6,386.73 148.83,387.05 150.06,387.35 151.29,387.65 152.51,387.93 153.74,388.21 154.97,388.47 156.2,388.72 157.43,388.97 158.66,389.2 159.89,389.42 161.11,389.63 162.34,389.83 163.57,390.01 164.8,390.19 166.03,390.36 167.26,390.52 168.48,390.67 169.71,390.81 170.94,390.94 172.17,391.07 173.4,391.18 174.63,391.29 175.86,391.39 177.08,391.49 178.31,391.57 179.54,391.66 180.77,391.73 182,391.8 183.23,391.86 184.46,391.92 185.68,391.98 186.91,392.03 188.14,392.07 189.37,392.11 190.6,392.15 191.83,392.19 193.05,392.22 194.28,392.25 195.51,392.27 196.74,392.3 197.97,392.32 199.2,392.34 200.43,392.36 201.65,392.37 202.88,392.39 204.11,392.4 205.34,392.41 206.57,392.42 207.8,392.43 209.03,392.44 210.25,392.45 211.48,392.45 212.71,392.46 213.94,392.46 215.17,392.47 216.4,392.47 217.62,392.48 218.85,392.48 220.08,392.48 221.31,392.48 222.54,392.49 223.77,392.49 225,392.49 226.22,392.49 227.45,392.49 228.68,392.49 229.91,392.49 231.14,392.49 232.37,392.5 233.59,392.5 234.82,392.5 236.05,392.5 237.28,392.5 238.51,392.5 239.74,392.5 240.97,392.5 242.19,392.5 243.42,392.5 244.65,392.5 245.88,392.5 247.11,392.5 248.34,392.5 249.57,392.5 250.79,392.5 252.02,392.5 253.25,392.5 254.48,392.5 255.71,392.5 256.94,392.5 258.16,392.5 259.39,392.5 260.62,392.5 261.85,392.5 263.08,392.5 264.31,392.5 265.54,392.5 266.76,392.5 267.99,392.5 269.22,392.5 270.45,392.5 271.68,392.5 272.91,392.5 274.14,392.5 275.36,392.5 276.59,392.5" stroke="#24963a" stroke-dasharray="1.5 3.1"/>
<polyline points="28.44,392.43 29.67,392.43 30.9,392.42 32.13,392.42 33.36,392.41 34.58,392.41 35.81,392.4 37.04,392.38 38.27,392.37 39.5,392.36 40.73,392.34 41.96,392.32 43.19,392.3 44.42,392.28 45.65,392.26 46.88,392.23 48.11,392.2 49.34,392.18 50.57,392.15 51.8,392.12 53.03,392.08 54.26,392.05 55.49,391.98 56.72,391.9 57.95,391.79 59.18,391.67 60.41,391.53 61.64,391.38 62.87,391.23 64.1,391.06 65.32,390.89 66.55,390.7 67.78,390.48 69.01,390.23 70.24,389.94 71.47,389.6 72.7,389.16 73.93,388.54 75.16,387.8 76.39,387.03 77.62,386.22 78.85,385.34 80.08,384.41 81.31,383.43 82.54,382.4 83.77,381.31 85,380.18 86.23,379 87.46,377.69 88.69,376.19 89.92,374.61 91.15,373.04 92.38,371.59 93.61,370.3 94.84,369.01 96.06,367.77 97.29,366.67 98.52,365.8 99.75,365.19 100.98,364.64 102.21,364.17 103.44,363.84 104.67,363.7 105.9,363.81 107.13,364.15 108.36,364.64 109.59,365.19 110.82,365.75 112.05,366.43 113.28,367.25 114.51,368.15 115.74,369.09 116.97,370.05 118.2,371.13 119.43,372.3 120.66,373.54 121.89,374.78 123.12,375.98 124.35,377.09 125.58,378.06 126.8,378.91 128.03,379.69 129.26,380.42 130.49,381.11 131.72,381.79 132.95,382.45 134.18,383.12 135.41,383.81 136.64,384.49 137.87,385.17 139.1,385.81 140.33,386.41 141.56,386.95 142.79,387.42 144.02,387.84 145.25,388.22 146.48,388.58 147.71,388.9 148.94,389.19 150.17,389.45 151.4,389.7 152.63,389.95 153.86,390.18 155.09,390.4 156.32,390.6 157.54,390.78 158.77,390.95 160,391.09 161.23,391.21 162.46,391.32 163.69,391.42 164.92,391.52 166.15,391.61 167.38,391.7 168.61,391.78 169.84,391.86 171.07,391.93 172.3,392 173.53,392.05 174.76,392.1 175.99,392.15 177.22,392.18 178.45,392.21 179.68,392.24 180.91,392.26 182.14,392.28 183.37,392.31 184.6,392.33 185.83,392.34 187.06,392.36 188.28,392.37 189.51,392.39 190.74,392.4 191.97,392.41 193.2,392.42 194.43,392.42 195.66,392.43 196.89,392.43 198.12,392.43 199.35,392.44 200.58,392.44 201.81,392.44 203.04,392.45 204.27,392.45 205.5,392.45 206.73,392.45 207.96,392.46 209.19,392.46 210.42,392.46 211.65,392.46 212.88,392.46 214.11,392.47 215.34,392.47 216.57,392.47 217.79,392.47 219.02,392.47 220.25,392.48 221.48,392.48 222.71,392.48 223.94,392.48 225.17,392.48 226.4,392.48 227.63,392.49 228.86,392.49 230.09,392.49 231.32,392.49 232.55,392.49 233.78,392.49 235.01,392.49 236.24,392.49 237.47,392.49 238.7,392.49 239.93,392.5 241.16,392.5 242.39,392.5 243.62,392.5 244.85,392.5 246.08,392.5 247.31,392.5 248.53,392.5 249.76,392.5 250.99,392.5 252.22,392.5 253.45,392.5 254.68,392.5 255.91,392.5" stroke="#2c3a88" stroke-dasharray="1.5 3.1 4.6 3.45"/>
<polyline points="28.44,392.43 29.66,392.41 30.89,392.4 32.12,392.38 33.35,392.35 34.57,392.32 35.8,392.29 37.03,392.25 38.25,392.21 39.48,392.16 40.71,392.1 41.94,392.03 43.16,391.95 44.39,391.87 45.62,391.77 46.84,391.66 48.07,391.53 49.3,391.39 50.53,391.23 51.75,391.06 52.98,390.86 54.21,390.65 55.44,390.42 56.66,390.16 57.89,389.88 59.12,389.58 60.34,389.25 61.57,388.89 62.8,388.51 64.03,388.11 65.25,387.68 66.48,387.23 67.71,386.75 68.93,386.25 70.16,385.72 71.39,385.18 72.62,384.62 73.84,384.04 75.07,383.45 76.3,382.85 77.52,382.24 78.75,381.63 79.98,381.02 81.21,380.42 82.43,379.83 83.66,379.25 84.89,378.69 86.12,378.15 87.34,377.64 88.57,377.16 89.8,376.72 91.02,376.31 92.25,375.95 93.48,375.64 94.71,375.38 95.93,375.16 97.16,375.01 98.39,374.91 99.61,374.86 100.84,374.87 102.07,374.9 103.3,374.96 104.52,375.05 105.75,375.17 106.98,375.31 108.2,375.47 109.43,375.66 110.66,375.88 111.89,376.12 113.11,376.38 114.34,376.66 115.57,376.96 116.8,377.28 118.02,377.61 119.25,377.96 120.48,378.33 121.7,378.7 122.93,379.09 124.16,379.49 125.39,379.9 126.61,380.31 127.84,380.72 129.07,381.14 130.29,381.57 131.52,381.99 132.75,382.41 133.98,382.83 135.2,383.25 136.43,383.66 137.66,384.07 138.88,384.47 140.11,384.87 141.34,385.26 142.57,385.63 143.79,386 145.02,386.36 146.25,386.71 147.48,387.04 148.7,387.37 149.93,387.68 151.16,387.98 152.38,388.27 153.61,388.55 154.84,388.81 156.07,389.06 157.29,389.3 158.52,389.53 159.75,389.75 160.97,389.95 162.2,390.14 163.43,390.33 164.66,390.5 165.88,390.66 167.11,390.81 168.34,390.95 169.56,391.08 170.79,391.2 172.02,391.31 173.25,391.42 174.47,391.52 175.7,391.61 176.93,391.69 178.16,391.76 179.38,391.84 180.61,391.9 181.84,391.96 183.06,392.01 184.29,392.06 185.52,392.11 186.75,392.15 187.97,392.19 189.2,392.22 190.43,392.25 191.65,392.28 192.88,392.3 194.11,392.32 195.34,392.34 196.56,392.36 197.79,392.38 199.02,392.39 200.24,392.41 201.47,392.42 202.7,392.43 203.93,392.44 205.15,392.44 206.38,392.45 207.61,392.46 208.84,392.46 210.06,392.47 211.29,392.47 212.52,392.48 213.74,392.48 214.97,392.48 216.2,392.48 217.43,392.49 218.65,392.49 219.88,392.49 221.11,392.49 222.33,392.49 223.56,392.49 224.79,392.49 226.02,392.5 227.24,392.5 228.47,392.5 229.7,392.5 230.92,392.5 232.15,392.5 233.38,392.5 234.61,392.5 235.83,392.5 237.06,392.5 238.29,392.5 239.52,392.5 240.74,392.5 241.97,392.5 243.2,392.5 244.42,392.5 245.65,392.5 246.88,392.5 248.11,392.5 249.33,392.5 250.56,392.5 251.79,392.5 253.01,392.5 254.24,392.5 255.47,392.5 256.7,392.5 257.92,392.5 259.15,392.5 260.38,392.5 261.6,392.5 262.83,392.5 264.06,392.5 265.29,392.5 266.51,392.5 267.74,392.5 268.97,392.5 270.2,392.5 271.42,392.5" stroke="#38a8e0" stroke-dasharray="8.05 3.45"/>
<polyline points="28.44,392.28 29.66,392.24 30.89,392.19 32.12,392.14 33.35,392.09 34.57,392.02 35.8,391.95 37.03,391.86 38.26,391.77 39.48,391.67 40.71,391.55 41.94,391.42 43.16,391.27 44.39,391.11 45.62,390.94 46.85,390.74 48.07,390.53 49.3,390.3 50.53,390.05 51.76,389.78 52.98,389.49 54.21,389.18 55.44,388.84 56.67,388.49 57.89,388.11 59.12,387.72 60.35,387.3 61.57,386.86 62.8,386.41 64.03,385.94 65.26,385.45 66.48,384.95 67.71,384.44 68.94,383.92 70.17,383.39 71.39,382.86 72.62,382.33 73.85,381.8 75.08,381.28 76.3,380.77 77.53,380.27 78.76,379.79 79.98,379.33 81.21,378.89 82.44,378.48 83.67,378.11 84.89,377.76 86.12,377.46 87.35,377.19 88.58,376.96 89.8,376.78 91.03,376.65 92.26,376.56 93.49,376.52 94.71,376.52 95.94,376.54 97.17,376.57 98.39,376.62 99.62,376.69 100.85,376.77 102.08,376.87 103.3,376.98 104.53,377.1 105.76,377.24 106.99,377.4 108.21,377.57 109.44,377.75 110.67,377.94 111.9,378.14 113.12,378.36 114.35,378.59 115.58,378.82 116.8,379.07 118.03,379.33 119.26,379.59 120.49,379.86 121.71,380.14 122.94,380.42 124.17,380.71 125.4,381 126.62,381.3 127.85,381.6 129.08,381.9 130.3,382.21 131.53,382.51 132.76,382.82 133.99,383.13 135.21,383.43 136.44,383.74 137.67,384.04 138.9,384.34 140.12,384.64 141.35,384.94 142.58,385.23 143.81,385.51 145.03,385.8 146.26,386.07 147.49,386.34 148.71,386.61 149.94,386.87 151.17,387.13 152.4,387.37 153.62,387.61 154.85,387.85 156.08,388.08 157.31,388.3 158.53,388.51 159.76,388.72 160.99,388.92 162.22,389.11 163.44,389.3 164.67,389.47 165.9,389.65 167.12,389.81 168.35,389.97 169.58,390.12 170.81,390.26 172.03,390.4 173.26,390.53 174.49,390.65 175.72,390.77 176.94,390.88 178.17,390.99 179.4,391.09 180.63,391.19 181.85,391.28 183.08,391.36 184.31,391.44 185.53,391.52 186.76,391.59 187.99,391.66 189.22,391.72 190.44,391.78 191.67,391.83 192.9,391.89 194.13,391.93 195.35,391.98 196.58,392.02 197.81,392.06 199.04,392.09 200.26,392.13 201.49,392.16 202.72,392.19 203.94,392.21 205.17,392.24 206.4,392.26 207.63,392.28 208.85,392.3 210.08,392.32 211.31,392.34 212.54,392.35 213.76,392.37 214.99,392.38 216.22,392.39 217.45,392.4 218.67,392.41 219.9,392.42 221.13,392.43 222.35,392.43 223.58,392.44 224.81,392.45 226.04,392.45 227.26,392.46 228.49,392.46 229.72,392.47 230.95,392.47 232.17,392.47 233.4,392.48 234.63,392.48 235.85,392.48 237.08,392.48 238.31,392.48 239.54,392.49 240.76,392.49 241.99,392.49 243.22,392.49 244.45,392.49 245.67,392.49 246.9,392.49 248.13,392.49 249.36,392.49 250.58,392.5 251.81,392.5 253.04,392.5 254.26,392.5 255.49,392.5 256.72,392.5 257.95,392.5 259.17,392.5 260.4,392.5 261.63,392.5 262.86,392.5 264.08,392.5 265.31,392.5 266.54,392.5 267.77,392.5 268.99,392.5 270.22,392.5 271.45,392.5 272.67,392.5 273.9,392.5 275.13,392.5 276.36,392.5 277.58,392.5 278.81,392.5 280.04,392.5" stroke="#a82078" stroke-dasharray="2.30 2.30 6.90 2.30"/>
<polyline points="28.44,392.45 29.67,392.44 30.9,392.42 32.13,392.4 33.36,392.38 34.59,392.36 35.82,392.33 37.04,392.3 38.27,392.26 39.5,392.21 40.73,392.16 41.96,392.1 43.19,392.03 44.42,391.95 45.65,391.85 46.88,391.74 48.11,391.62 49.34,391.49 50.57,391.33 51.8,391.16 53.03,390.96 54.26,390.75 55.49,390.51 56.72,390.24 57.95,389.95 59.18,389.63 60.41,389.29 61.64,388.91 62.87,388.5 64.1,388.07 65.33,387.6 66.56,387.11 67.79,386.59 69.02,386.03 70.25,385.45 71.48,384.85 72.71,384.23 73.94,383.58 75.17,382.92 76.39,382.24 77.62,381.56 78.85,380.87 80.08,380.19 81.31,379.5 82.54,378.83 83.77,378.18 85,377.55 86.23,376.94 87.46,376.37 88.69,375.83 89.92,375.34 91.15,374.89 92.38,374.5 93.61,374.16 94.84,373.89 96.07,373.67 97.3,373.52 98.53,373.44 99.76,373.42 100.99,373.45 102.22,373.51 103.45,373.6 104.68,373.72 105.91,373.88 107.14,374.07 108.37,374.29 109.6,374.53 110.83,374.81 112.06,375.11 113.29,375.44 114.52,375.79 115.74,376.16 116.97,376.55 118.2,376.96 119.43,377.39 120.66,377.83 121.89,378.28 123.12,378.74 124.35,379.21 125.58,379.69 126.81,380.17 128.04,380.65 129.27,381.14 130.5,381.63 131.73,382.11 132.96,382.59 134.19,383.06 135.42,383.53 136.65,383.98 137.88,384.43 139.11,384.87 140.34,385.3 141.57,385.72 142.8,386.12 144.03,386.51 145.26,386.88 146.49,387.25 147.72,387.59 148.95,387.92 150.18,388.24 151.41,388.54 152.64,388.83 153.87,389.1 155.1,389.36 156.32,389.6 157.55,389.83 158.78,390.05 160.01,390.25 161.24,390.44 162.47,390.62 163.7,390.78 164.93,390.93 166.16,391.07 167.39,391.21 168.62,391.33 169.85,391.44 171.08,391.54 172.31,391.64 173.54,391.72 174.77,391.8 176,391.87 177.23,391.94 178.46,392 179.69,392.05 180.92,392.1 182.15,392.15 183.38,392.19 184.61,392.22 185.84,392.25 187.07,392.28 188.3,392.31 189.53,392.33 190.76,392.35 191.99,392.37 193.22,392.39 194.45,392.4 195.67,392.41 196.9,392.42 198.13,392.43 199.36,392.44 200.59,392.45 201.82,392.46 203.05,392.46 204.28,392.47 205.51,392.47 206.74,392.48 207.97,392.48 209.2,392.48 210.43,392.49 211.66,392.49 212.89,392.49 214.12,392.49 215.35,392.49 216.58,392.49 217.81,392.49 219.04,392.5 220.27,392.5 221.5,392.5 222.73,392.5 223.96,392.5 225.19,392.5 226.42,392.5 227.65,392.5 228.88,392.5 230.11,392.5 231.34,392.5 232.57,392.5 233.8,392.5 235.03,392.5 236.25,392.5 237.48,392.5 238.71,392.5 239.94,392.5 241.17,392.5 242.4,392.5 243.63,392.5 244.86,392.5 246.09,392.5 247.32,392.5 248.55,392.5 249.78,392.5 251.01,392.5 252.24,392.5 253.47,392.5 254.7,392.5 255.93,392.5 257.16,392.5 258.39,392.5 259.62,392.5 260.85,392.5 262.08,392.5 263.31,392.5 264.54,392.5 265.77,392.5 267,392.5 268.23,392.5 269.46,392.5 270.69,392.5 271.92,392.5 273.15,392.5" stroke="#dcc410"/>
<polyline points="28.44,392.41 29.66,392.39 30.89,392.37 32.12,392.34 33.34,392.31 34.57,392.28 35.79,392.24 37.02,392.19 38.25,392.13 39.47,392.07 40.7,392 41.92,391.92 43.15,391.83 44.38,391.73 45.6,391.61 46.83,391.48 48.05,391.33 49.28,391.17 50.51,390.98 51.73,390.78 52.96,390.56 54.18,390.32 55.41,390.05 56.64,389.77 57.86,389.45 59.09,389.11 60.32,388.75 61.54,388.36 62.77,387.95 63.99,387.51 65.22,387.05 66.45,386.56 67.67,386.05 68.9,385.52 70.12,384.97 71.35,384.4 72.58,383.82 73.8,383.23 75.03,382.62 76.25,382.02 77.48,381.41 78.71,380.8 79.93,380.2 81.16,379.61 82.39,379.04 83.61,378.49 84.84,377.96 86.06,377.46 87.29,376.99 88.52,376.57 89.74,376.18 90.97,375.83 92.19,375.54 93.42,375.29 94.65,375.1 95.87,374.97 97.1,374.88 98.32,374.86 99.55,374.88 100.78,374.92 102,374.98 103.23,375.08 104.46,375.19 105.68,375.34 106.91,375.5 108.13,375.69 109.36,375.9 110.59,376.14 111.81,376.39 113.04,376.66 114.26,376.96 115.49,377.26 116.72,377.59 117.94,377.93 119.17,378.28 120.39,378.65 121.62,379.02 122.85,379.41 124.07,379.8 125.3,380.2 126.52,380.6 127.75,381.01 128.98,381.42 130.2,381.83 131.43,382.24 132.66,382.65 133.88,383.06 135.11,383.46 136.33,383.86 137.56,384.26 138.79,384.65 140.01,385.03 141.24,385.4 142.46,385.76 143.69,386.12 144.92,386.46 146.14,386.8 147.37,387.12 148.59,387.43 149.82,387.74 151.05,388.03 152.27,388.31 153.5,388.57 154.73,388.83 155.95,389.07 157.18,389.31 158.4,389.53 159.63,389.74 160.86,389.94 162.08,390.13 163.31,390.3 164.53,390.47 165.76,390.63 166.99,390.78 168.21,390.91 169.44,391.04 170.66,391.16 171.89,391.28 173.12,391.38 174.34,391.48 175.57,391.57 176.79,391.65 178.02,391.73 179.25,391.8 180.47,391.87 181.7,391.93 182.93,391.98 184.15,392.03 185.38,392.08 186.6,392.12 187.83,392.16 189.06,392.2 190.28,392.23 191.51,392.26 192.73,392.28 193.96,392.31 195.19,392.33 196.41,392.35 197.64,392.36 198.86,392.38 200.09,392.39 201.32,392.41 202.54,392.42 203.77,392.43 205,392.44 206.22,392.44 207.45,392.45 208.67,392.46 209.9,392.46 211.13,392.47 212.35,392.47 213.58,392.47 214.8,392.48 216.03,392.48 217.26,392.48 218.48,392.49 219.71,392.49 220.93,392.49 222.16,392.49 223.39,392.49 224.61,392.49 225.84,392.49 227.06,392.49 228.29,392.5 229.52,392.5 230.74,392.5 231.97,392.5 233.2,392.5 234.42,392.5 235.65,392.5 236.87,392.5 238.1,392.5 239.33,392.5 240.55,392.5 241.78,392.5 243,392.5 244.23,392.5 245.46,392.5 246.68,392.5 247.91,392.5 249.13,392.5 250.36,392.5 251.59,392.5 252.81,392.5 254.04,392.5 255.27,392.5 256.49,392.5 257.72,392.5 258.94,392.5 260.17,392.5 261.4,392.5 262.62,392.5 263.85,392.5 265.07,392.5 266.3,392.5 267.53,392.5 268.75,392.5 269.98,392.5 271.2,392.5 272.43,392.5 273.66,392.5 274.88,392.5 276.11,392.5 277.34,392.5 278.56,392.5 279.79,392.5 281.01,392.5 282.24,392.5 283.47,392.5 284.69,392.5" stroke="#a4a4a4" stroke-dasharray="4.60 4.60"/>
<polyline points="28.44,392.43 29.67,392.43 30.9,392.42 32.13,392.42 33.36,392.41 34.58,392.4 35.81,392.38 37.04,392.37 38.27,392.35 39.5,392.33 40.73,392.31 41.96,392.28 43.19,392.26 44.42,392.23 45.65,392.2 46.88,392.17 48.11,392.13 49.34,392.1 50.57,392.06 51.8,392.02 53.03,391.98 54.26,391.92 55.49,391.84 56.72,391.75 57.95,391.64 59.18,391.51 60.41,391.36 61.64,391.21 62.87,391.04 64.1,390.85 65.32,390.65 66.55,390.4 67.78,390.1 69.01,389.75 70.24,389.35 71.47,388.91 72.7,388.43 73.93,387.92 75.16,387.37 76.39,386.72 77.62,385.95 78.85,385.08 80.08,384.12 81.31,383.09 82.54,382.02 83.77,380.92 85,379.81 86.23,378.67 87.46,377.38 88.69,376.02 89.92,374.65 91.15,373.35 92.38,372.18 93.61,371.05 94.84,369.92 96.06,368.86 97.29,367.93 98.52,367.2 99.75,366.67 100.98,366.2 102.21,365.8 103.44,365.55 104.67,365.51 105.9,365.65 107.13,365.93 108.36,366.29 109.59,366.7 110.82,367.13 112.05,367.71 113.28,368.41 114.51,369.19 115.74,370.02 116.97,370.87 118.2,371.82 119.43,372.86 120.66,373.96 121.89,375.07 123.12,376.15 124.35,377.16 125.58,378.06 126.8,378.85 128.03,379.59 129.26,380.29 130.49,380.95 131.72,381.6 132.95,382.25 134.18,382.9 135.41,383.56 136.64,384.23 137.87,384.89 139.1,385.52 140.33,386.12 141.56,386.66 142.79,387.14 144.02,387.56 145.25,387.96 146.48,388.32 147.71,388.66 148.94,388.96 150.17,389.24 151.4,389.5 152.63,389.75 153.86,389.99 155.09,390.22 156.32,390.43 157.54,390.62 158.77,390.79 160,390.94 161.23,391.07 162.46,391.18 163.69,391.29 164.92,391.39 166.15,391.49 167.38,391.58 168.61,391.67 169.84,391.75 171.07,391.83 172.3,391.9 173.53,391.96 174.76,392.01 175.99,392.06 177.22,392.11 178.45,392.14 179.68,392.17 180.91,392.2 182.14,392.23 183.37,392.26 184.6,392.29 185.83,392.31 187.06,392.34 188.28,392.36 189.51,392.38 190.74,392.39 191.97,392.41 193.2,392.42 194.43,392.42 195.66,392.43 196.89,392.43 198.12,392.43 199.35,392.44 200.58,392.44 201.81,392.44 203.04,392.45 204.27,392.45 205.5,392.45 206.73,392.45 207.96,392.46 209.19,392.46 210.42,392.46 211.65,392.46 212.88,392.47 214.11,392.47 215.34,392.47 216.57,392.47 217.79,392.47 219.02,392.48 220.25,392.48 221.48,392.48 222.71,392.48 223.94,392.48 225.17,392.48 226.4,392.48 227.63,392.49 228.86,392.49 230.09,392.49 231.32,392.49 232.55,392.49 233.78,392.49 235.01,392.49 236.24,392.49 237.47,392.49 238.7,392.5 239.93,392.5 241.16,392.5 242.39,392.5 243.62,392.5 244.85,392.5 246.08,392.5 247.31,392.5 248.53,392.5 249.76,392.5 250.99,392.5 252.22,392.5 253.45,392.5 254.68,392.5 255.91,392.5" stroke="#0a0a0a" stroke-dasharray="1.5 3.1"/>
<polyline points="28.44,392.19 29.66,392.14 30.89,392.09 32.12,392.03 33.35,391.96 34.57,391.89 35.8,391.8 37.03,391.71 38.25,391.61 39.48,391.49 40.71,391.37 41.93,391.23 43.16,391.08 44.39,390.92 45.62,390.74 46.84,390.55 48.07,390.34 49.3,390.11 50.52,389.87 51.75,389.61 52.98,389.33 54.21,389.04 55.43,388.73 56.66,388.4 57.89,388.06 59.11,387.7 60.34,387.32 61.57,386.92 62.8,386.52 64.02,386.1 65.25,385.66 66.48,385.22 67.7,384.77 68.93,384.31 70.16,383.85 71.39,383.38 72.61,382.91 73.84,382.45 75.07,381.99 76.29,381.54 77.52,381.1 78.75,380.67 79.97,380.26 81.2,379.86 82.43,379.49 83.66,379.14 84.88,378.81 86.11,378.52 87.34,378.25 88.56,378.02 89.79,377.82 91.02,377.66 92.25,377.53 93.47,377.44 94.7,377.39 95.93,377.38 97.15,377.39 98.38,377.41 99.61,377.45 100.84,377.5 102.06,377.57 103.29,377.65 104.52,377.74 105.74,377.84 106.97,377.96 108.2,378.09 109.43,378.23 110.65,378.38 111.88,378.55 113.11,378.72 114.33,378.91 115.56,379.1 116.79,379.31 118.01,379.52 119.24,379.74 120.47,379.97 121.7,380.21 122.92,380.45 124.15,380.7 125.38,380.95 126.6,381.21 127.83,381.47 129.06,381.74 130.29,382.01 131.51,382.29 132.74,382.56 133.97,382.84 135.19,383.11 136.42,383.39 137.65,383.67 138.88,383.95 140.1,384.22 141.33,384.5 142.56,384.77 143.78,385.04 145.01,385.31 146.24,385.57 147.46,385.83 148.69,386.09 149.92,386.34 151.15,386.59 152.37,386.83 153.6,387.07 154.83,387.3 156.05,387.53 157.28,387.75 158.51,387.97 159.74,388.18 160.96,388.38 162.19,388.58 163.42,388.77 164.64,388.96 165.87,389.14 167.1,389.31 168.33,389.48 169.55,389.64 170.78,389.8 172.01,389.94 173.23,390.09 174.46,390.22 175.69,390.36 176.92,390.48 178.14,390.6 179.37,390.72 180.6,390.82 181.82,390.93 183.05,391.03 184.28,391.12 185.5,391.21 186.73,391.29 187.96,391.37 189.19,391.45 190.41,391.52 191.64,391.59 192.87,391.65 194.09,391.71 195.32,391.77 196.55,391.82 197.78,391.87 199,391.92 200.23,391.96 201.46,392 202.68,392.04 203.91,392.08 205.14,392.11 206.37,392.14 207.59,392.17 208.82,392.2 210.05,392.22 211.27,392.24 212.5,392.26 213.73,392.28 214.96,392.3 216.18,392.32 217.41,392.34 218.64,392.35 219.86,392.36 221.09,392.38 222.32,392.39 223.54,392.4 224.77,392.41 226,392.41 227.23,392.42 228.45,392.43 229.68,392.44 230.91,392.44 232.13,392.45 233.36,392.45 234.59,392.46 235.82,392.46 237.04,392.47 238.27,392.47 239.5,392.47 240.72,392.48 241.95,392.48 243.18,392.48 244.41,392.48 245.63,392.48 246.86,392.49 248.09,392.49 249.31,392.49 250.54,392.49 251.77,392.49 253,392.49 254.22,392.49 255.45,392.49 256.68,392.49 257.9,392.5 259.13,392.5 260.36,392.5 261.58,392.5 262.81,392.5 264.04,392.5 265.27,392.5 266.49,392.5 267.72,392.5 268.95,392.5 270.17,392.5 271.4,392.5 272.63,392.5" stroke="#e0201c" stroke-dasharray="1.5 3.1 4.6 3.45"/>
</g>
<rect x="29.5" y="317.5" width="298" height="78" fill="none" stroke="#555555" stroke-width="1"/>
<line x1="25.8" y1="392.5" x2="29.5" y2="392.5" stroke="#555555" stroke-width="1"/>
<line x1="25.8" y1="378.1" x2="29.5" y2="378.1" stroke="#555555" stroke-width="1"/>
<line x1="25.8" y1="363.7" x2="29.5" y2="363.7" stroke="#555555" stroke-width="1"/>
<line x1="25.8" y1="349.3" x2="29.5" y2="349.3" stroke="#555555" stroke-width="1"/>
<line x1="25.8" y1="334.9" x2="29.5" y2="334.9" stroke="#555555" stroke-width="1"/>
<line x1="25.8" y1="320.5" x2="29.5" y2="320.5" stroke="#555555" stroke-width="1"/>
<line x1="40.5" y1="395.5" x2="40.5" y2="399" stroke="#555555" stroke-width="1"/>
<line x1="126.67" y1="395.5" x2="126.67" y2="399" stroke="#555555" stroke-width="1"/>
<line x1="212.83" y1="395.5" x2="212.83" y2="399" stroke="#555555" stroke-width="1"/>
<line x1="299" y1="395.5" x2="299" y2="399" stroke="#555555" stroke-width="1"/>
<line x1="38.3" y1="325.65" x2="51.6" y2="325.65" stroke="#d8403a" stroke-width="1.25" stroke-linecap="round" stroke-dasharray="4.60 4.60"/>
<line x1="38.3" y1="334.65" x2="51.6" y2="334.65" stroke="#24963a" stroke-width="1.25" stroke-linecap="round" stroke-dasharray="1.5 3.1"/>
<line x1="38.3" y1="343.65" x2="51.6" y2="343.65" stroke="#2c3a88" stroke-width="1.25" stroke-linecap="round" stroke-dasharray="1.5 3.1 4.6 3.45"/>
<line x1="38.3" y1="352.65" x2="51.6" y2="352.65" stroke="#38a8e0" stroke-width="1.25" stroke-linecap="round" stroke-dasharray="8.05 3.45"/>
<line x1="38.3" y1="361.65" x2="51.6" y2="361.65" stroke="#a82078" stroke-width="1.25" stroke-linecap="round" stroke-dasharray="2.30 2.30 6.90 2.30"/>
<line x1="107.4" y1="325.65" x2="120.6" y2="325.65" stroke="#dcc410" stroke-width="1.25" stroke-linecap="round"/>
<line x1="107.4" y1="334.65" x2="120.6" y2="334.65" stroke="#a4a4a4" stroke-width="1.25" stroke-linecap="round" stroke-dasharray="4.60 4.60"/>
<line x1="107.4" y1="343.65" x2="120.6" y2="343.65" stroke="#0a0a0a" stroke-width="1.25" stroke-linecap="round" stroke-dasharray="1.5 3.1"/>
<line x1="107.4" y1="352.65" x2="120.6" y2="352.65" stroke="#e0201c" stroke-width="1.25" stroke-linecap="round" stroke-dasharray="1.5 3.1 4.6 3.45"/>
<g clip-path="url(#c12)" fill="none" stroke-width="1.25" stroke-linejoin="round" stroke-linecap="round">
<polyline points="370.94,392.22 372.16,392.17 373.39,392.12 374.61,392.06 375.84,392 377.06,391.92 378.29,391.84 379.51,391.75 380.74,391.64 381.96,391.53 383.19,391.4 384.41,391.26 385.64,391.11 386.86,390.94 388.09,390.76 389.31,390.56 390.54,390.34 391.76,390.11 392.99,389.85 394.21,389.58 395.43,389.29 396.66,388.98 397.88,388.65 399.11,388.3 400.33,387.94 401.56,387.55 402.78,387.15 404.01,386.73 405.23,386.29 406.46,385.84 407.68,385.38 408.91,384.91 410.13,384.42 411.36,383.93 412.58,383.44 413.81,382.94 415.03,382.45 416.26,381.96 417.48,381.47 418.71,380.99 419.93,380.53 421.16,380.08 422.38,379.65 423.61,379.25 424.83,378.87 426.06,378.51 427.28,378.19 428.51,377.9 429.73,377.64 430.96,377.43 432.18,377.25 433.41,377.11 434.63,377.01 435.86,376.96 437.08,376.95 438.31,376.96 439.53,376.98 440.76,377.02 441.98,377.07 443.21,377.14 444.43,377.21 445.66,377.3 446.88,377.41 448.11,377.52 449.33,377.65 450.56,377.79 451.78,377.94 453,378.1 454.23,378.27 455.45,378.46 456.68,378.65 457.9,378.85 459.13,379.06 460.35,379.28 461.58,379.51 462.8,379.74 464.03,379.98 465.25,380.23 466.48,380.49 467.7,380.74 468.93,381.01 470.15,381.27 471.38,381.54 472.6,381.82 473.83,382.09 475.05,382.37 476.28,382.65 477.5,382.93 478.73,383.2 479.95,383.48 481.18,383.76 482.4,384.04 483.63,384.31 484.85,384.59 486.08,384.86 487.3,385.13 488.53,385.39 489.75,385.65 490.98,385.91 492.2,386.17 493.43,386.41 494.65,386.66 495.88,386.9 497.1,387.13 498.33,387.36 499.55,387.59 500.78,387.8 502,388.02 503.23,388.22 504.45,388.42 505.68,388.62 506.9,388.81 508.13,388.99 509.35,389.17 510.57,389.34 511.8,389.5 513.02,389.66 514.25,389.81 515.47,389.96 516.7,390.1 517.92,390.23 519.15,390.36 520.37,390.48 521.6,390.6 522.82,390.71 524.05,390.82 525.27,390.92 526.5,391.02 527.72,391.11 528.95,391.2 530.17,391.29 531.4,391.36 532.62,391.44 533.85,391.51 535.07,391.58 536.3,391.64 537.52,391.7 538.75,391.76 539.97,391.81 541.2,391.86 542.42,391.9 543.65,391.95 544.87,391.99 546.1,392.03 547.32,392.06 548.55,392.1 549.77,392.13 551,392.16 552.22,392.18 553.45,392.21 554.67,392.23 555.9,392.25 557.12,392.27 558.35,392.29 559.57,392.31 560.8,392.33 562.02,392.34 563.25,392.36 564.47,392.37 565.7,392.38 566.92,392.39 568.14,392.4 569.37,392.41 570.59,392.42 571.82,392.42 573.04,392.43 574.27,392.44 575.49,392.44 576.72,392.45 577.94,392.45 579.17,392.46 580.39,392.46 581.62,392.47 582.84,392.47 584.07,392.47 585.29,392.48 586.52,392.48 587.74,392.48 588.97,392.48 590.19,392.48 591.42,392.49 592.64,392.49 593.87,392.49 595.09,392.49 596.32,392.49 597.54,392.49 598.77,392.49 599.99,392.49 601.22,392.49 602.44,392.49 603.67,392.5 604.89,392.5 606.12,392.5 607.34,392.5 608.57,392.5 609.79,392.5 611.02,392.5 612.24,392.5 613.47,392.5 614.69,392.5 615.92,392.5 617.14,392.5 618.37,392.5 619.59,392.5 620.82,392.5" stroke="#d8403a" stroke-dasharray="4.60 4.60"/>
<polyline points="370.94,392.42 372.17,392.4 373.39,392.38 374.62,392.36 375.85,392.34 377.08,392.31 378.31,392.27 379.54,392.23 380.76,392.18 381.99,392.12 383.22,392.06 384.45,391.99 385.68,391.9 386.91,391.81 388.14,391.71 389.36,391.59 390.59,391.45 391.82,391.3 393.05,391.14 394.28,390.95 395.51,390.75 396.74,390.52 397.96,390.28 399.19,390.01 400.42,389.72 401.65,389.4 402.88,389.06 404.11,388.7 405.33,388.31 406.56,387.89 407.79,387.45 409.02,386.99 410.25,386.5 411.48,386 412.71,385.47 413.93,384.92 415.16,384.36 416.39,383.78 417.62,383.2 418.85,382.6 420.08,382.01 421.31,381.41 422.53,380.82 423.76,380.23 424.99,379.66 426.22,379.1 427.45,378.57 428.68,378.06 429.9,377.59 431.13,377.14 432.36,376.74 433.59,376.37 434.82,376.05 436.05,375.78 437.28,375.56 438.5,375.4 439.73,375.28 440.96,375.23 442.19,375.22 443.42,375.25 444.65,375.3 445.87,375.37 447.1,375.46 448.33,375.58 449.56,375.72 450.79,375.89 452.02,376.07 453.25,376.28 454.47,376.51 455.7,376.75 456.93,377.02 458.16,377.3 459.39,377.59 460.62,377.9 461.85,378.23 463.07,378.57 464.3,378.91 465.53,379.27 466.76,379.64 467.99,380.01 469.22,380.39 470.44,380.78 471.67,381.17 472.9,381.56 474.13,381.95 475.36,382.35 476.59,382.74 477.82,383.13 479.04,383.52 480.27,383.9 481.5,384.28 482.73,384.65 483.96,385.02 485.19,385.38 486.42,385.73 487.64,386.07 488.87,386.41 490.1,386.73 491.33,387.05 492.56,387.35 493.79,387.65 495.01,387.93 496.24,388.21 497.47,388.47 498.7,388.72 499.93,388.97 501.16,389.2 502.39,389.42 503.61,389.63 504.84,389.83 506.07,390.01 507.3,390.19 508.53,390.36 509.76,390.52 510.98,390.67 512.21,390.81 513.44,390.94 514.67,391.07 515.9,391.18 517.13,391.29 518.36,391.39 519.58,391.49 520.81,391.57 522.04,391.66 523.27,391.73 524.5,391.8 525.73,391.86 526.96,391.92 528.18,391.98 529.41,392.03 530.64,392.07 531.87,392.11 533.1,392.15 534.33,392.19 535.55,392.22 536.78,392.25 538.01,392.27 539.24,392.3 540.47,392.32 541.7,392.34 542.93,392.36 544.15,392.37 545.38,392.39 546.61,392.4 547.84,392.41 549.07,392.42 550.3,392.43 551.53,392.44 552.75,392.45 553.98,392.45 555.21,392.46 556.44,392.46 557.67,392.47 558.9,392.47 560.12,392.48 561.35,392.48 562.58,392.48 563.81,392.48 565.04,392.49 566.27,392.49 567.5,392.49 568.72,392.49 569.95,392.49 571.18,392.49 572.41,392.49 573.64,392.49 574.87,392.5 576.09,392.5 577.32,392.5 578.55,392.5 579.78,392.5 581.01,392.5 582.24,392.5 583.47,392.5 584.69,392.5 585.92,392.5 587.15,392.5 588.38,392.5 589.61,392.5 590.84,392.5 592.07,392.5 593.29,392.5 594.52,392.5 595.75,392.5 596.98,392.5 598.21,392.5 599.44,392.5 600.66,392.5 601.89,392.5 603.12,392.5 604.35,392.5 605.58,392.5 606.81,392.5 608.04,392.5 609.26,392.5 610.49,392.5 611.72,392.5 612.95,392.5 614.18,392.5 615.41,392.5 616.64,392.5 617.86,392.5 619.09,392.5" stroke="#24963a" stroke-dasharray="1.5 3.1"/>
<polyline points="370.94,392.43 372.17,392.43 373.4,392.42 374.63,392.42 375.86,392.41 377.08,392.41 378.31,392.4 379.54,392.38 380.77,392.37 382,392.36 383.23,392.34 384.46,392.32 385.69,392.3 386.92,392.28 388.15,392.26 389.38,392.23 390.61,392.2 391.84,392.18 393.07,392.15 394.3,392.12 395.53,392.08 396.76,392.05 397.99,391.98 399.22,391.9 400.45,391.79 401.68,391.67 402.91,391.53 404.14,391.38 405.37,391.23 406.6,391.06 407.82,390.89 409.05,390.7 410.28,390.48 411.51,390.23 412.74,389.94 413.97,389.6 415.2,389.16 416.43,388.54 417.66,387.8 418.89,387.03 420.12,386.22 421.35,385.34 422.58,384.41 423.81,383.43 425.04,382.4 426.27,381.31 427.5,380.18 428.73,379 429.96,377.69 431.19,376.19 432.42,374.61 433.65,373.04 434.88,371.59 436.11,370.3 437.34,369.01 438.56,367.77 439.79,366.67 441.02,365.8 442.25,365.19 443.48,364.64 444.71,364.17 445.94,363.84 447.17,363.7 448.4,363.81 449.63,364.15 450.86,364.64 452.09,365.19 453.32,365.75 454.55,366.43 455.78,367.25 457.01,368.15 458.24,369.09 459.47,370.05 460.7,371.13 461.93,372.3 463.16,373.54 464.39,374.78 465.62,375.98 466.85,377.09 468.08,378.06 469.3,378.91 470.53,379.69 471.76,380.42 472.99,381.11 474.22,381.79 475.45,382.45 476.68,383.12 477.91,383.81 479.14,384.49 480.37,385.17 481.6,385.81 482.83,386.41 484.06,386.95 485.29,387.42 486.52,387.84 487.75,388.22 488.98,388.58 490.21,388.9 491.44,389.19 492.67,389.45 493.9,389.7 495.13,389.95 496.36,390.18 497.59,390.4 498.82,390.6 500.04,390.78 501.27,390.95 502.5,391.09 503.73,391.21 504.96,391.32 506.19,391.42 507.42,391.52 508.65,391.61 509.88,391.7 511.11,391.78 512.34,391.86 513.57,391.93 514.8,392 516.03,392.05 517.26,392.1 518.49,392.15 519.72,392.18 520.95,392.21 522.18,392.24 523.41,392.26 524.64,392.28 525.87,392.31 527.1,392.33 528.33,392.34 529.56,392.36 530.78,392.37 532.01,392.39 533.24,392.4 534.47,392.41 535.7,392.42 536.93,392.42 538.16,392.43 539.39,392.43 540.62,392.43 541.85,392.44 543.08,392.44 544.31,392.44 545.54,392.45 546.77,392.45 548,392.45 549.23,392.45 550.46,392.46 551.69,392.46 552.92,392.46 554.15,392.46 555.38,392.46 556.61,392.47 557.84,392.47 559.07,392.47 560.29,392.47 561.52,392.47 562.75,392.48 563.98,392.48 565.21,392.48 566.44,392.48 567.67,392.48 568.9,392.48 570.13,392.49 571.36,392.49 572.59,392.49 573.82,392.49 575.05,392.49 576.28,392.49 577.51,392.49 578.74,392.49 579.97,392.49 581.2,392.49 582.43,392.5 583.66,392.5 584.89,392.5 586.12,392.5 587.35,392.5 588.58,392.5 589.81,392.5 591.03,392.5 592.26,392.5 593.49,392.5 594.72,392.5 595.95,392.5 597.18,392.5 598.41,392.5" stroke="#2c3a88" stroke-dasharray="1.5 3.1 4.6 3.45"/>
<polyline points="370.94,392.43 372.16,392.41 373.39,392.4 374.62,392.38 375.85,392.35 377.07,392.32 378.3,392.29 379.53,392.25 380.75,392.21 381.98,392.16 383.21,392.1 384.44,392.03 385.66,391.95 386.89,391.87 388.12,391.77 389.34,391.66 390.57,391.53 391.8,391.39 393.03,391.23 394.25,391.06 395.48,390.86 396.71,390.65 397.94,390.42 399.16,390.16 400.39,389.88 401.62,389.58 402.84,389.25 404.07,388.89 405.3,388.51 406.53,388.11 407.75,387.68 408.98,387.23 410.21,386.75 411.43,386.25 412.66,385.72 413.89,385.18 415.12,384.62 416.34,384.04 417.57,383.45 418.8,382.85 420.02,382.24 421.25,381.63 422.48,381.02 423.71,380.42 424.93,379.83 426.16,379.25 427.39,378.69 428.62,378.15 429.84,377.64 431.07,377.16 432.3,376.72 433.52,376.31 434.75,375.95 435.98,375.64 437.21,375.38 438.43,375.16 439.66,375.01 440.89,374.91 442.11,374.86 443.34,374.87 444.57,374.9 445.8,374.96 447.02,375.05 448.25,375.17 449.48,375.31 450.7,375.47 451.93,375.66 453.16,375.88 454.39,376.12 455.61,376.38 456.84,376.66 458.07,376.96 459.3,377.28 460.52,377.61 461.75,377.96 462.98,378.33 464.2,378.7 465.43,379.09 466.66,379.49 467.89,379.9 469.11,380.31 470.34,380.72 471.57,381.14 472.79,381.57 474.02,381.99 475.25,382.41 476.48,382.83 477.7,383.25 478.93,383.66 480.16,384.07 481.38,384.47 482.61,384.87 483.84,385.26 485.07,385.63 486.29,386 487.52,386.36 488.75,386.71 489.98,387.04 491.2,387.37 492.43,387.68 493.66,387.98 494.88,388.27 496.11,388.55 497.34,388.81 498.57,389.06 499.79,389.3 501.02,389.53 502.25,389.75 503.47,389.95 504.7,390.14 505.93,390.33 507.16,390.5 508.38,390.66 509.61,390.81 510.84,390.95 512.06,391.08 513.29,391.2 514.52,391.31 515.75,391.42 516.97,391.52 518.2,391.61 519.43,391.69 520.66,391.76 521.88,391.84 523.11,391.9 524.34,391.96 525.56,392.01 526.79,392.06 528.02,392.11 529.25,392.15 530.47,392.19 531.7,392.22 532.93,392.25 534.15,392.28 535.38,392.3 536.61,392.32 537.84,392.34 539.06,392.36 540.29,392.38 541.52,392.39 542.74,392.41 543.97,392.42 545.2,392.43 546.43,392.44 547.65,392.44 548.88,392.45 550.11,392.46 551.34,392.46 552.56,392.47 553.79,392.47 555.02,392.48 556.24,392.48 557.47,392.48 558.7,392.48 559.93,392.49 561.15,392.49 562.38,392.49 563.61,392.49 564.83,392.49 566.06,392.49 567.29,392.49 568.52,392.5 569.74,392.5 570.97,392.5 572.2,392.5 573.42,392.5 574.65,392.5 575.88,392.5 577.11,392.5 578.33,392.5 579.56,392.5 580.79,392.5 582.02,392.5 583.24,392.5 584.47,392.5 585.7,392.5 586.92,392.5 588.15,392.5 589.38,392.5 590.61,392.5 591.83,392.5 593.06,392.5 594.29,392.5 595.51,392.5 596.74,392.5 597.97,392.5 599.2,392.5 600.42,392.5 601.65,392.5 602.88,392.5 604.1,392.5 605.33,392.5 606.56,392.5 607.79,392.5 609.01,392.5 610.24,392.5 611.47,392.5 612.7,392.5 613.92,392.5" stroke="#38a8e0" stroke-dasharray="8.05 3.45"/>
<polyline points="370.94,392.28 372.16,392.24 373.39,392.19 374.62,392.14 375.85,392.09 377.07,392.02 378.3,391.95 379.53,391.86 380.76,391.77 381.98,391.67 383.21,391.55 384.44,391.42 385.66,391.27 386.89,391.11 388.12,390.94 389.35,390.74 390.57,390.53 391.8,390.3 393.03,390.05 394.26,389.78 395.48,389.49 396.71,389.18 397.94,388.84 399.17,388.49 400.39,388.11 401.62,387.72 402.85,387.3 404.07,386.86 405.3,386.41 406.53,385.94 407.76,385.45 408.98,384.95 410.21,384.44 411.44,383.92 412.67,383.39 413.89,382.86 415.12,382.33 416.35,381.8 417.58,381.28 418.8,380.77 420.03,380.27 421.26,379.79 422.48,379.33 423.71,378.89 424.94,378.48 426.17,378.11 427.39,377.76 428.62,377.46 429.85,377.19 431.08,376.96 432.3,376.78 433.53,376.65 434.76,376.56 435.99,376.52 437.21,376.52 438.44,376.54 439.67,376.57 440.89,376.62 442.12,376.69 443.35,376.77 444.58,376.87 445.8,376.98 447.03,377.1 448.26,377.24 449.49,377.4 450.71,377.57 451.94,377.75 453.17,377.94 454.4,378.14 455.62,378.36 456.85,378.59 458.08,378.82 459.3,379.07 460.53,379.33 461.76,379.59 462.99,379.86 464.21,380.14 465.44,380.42 466.67,380.71 467.9,381 469.12,381.3 470.35,381.6 471.58,381.9 472.8,382.21 474.03,382.51 475.26,382.82 476.49,383.13 477.71,383.43 478.94,383.74 480.17,384.04 481.4,384.34 482.62,384.64 483.85,384.94 485.08,385.23 486.31,385.51 487.53,385.8 488.76,386.07 489.99,386.34 491.21,386.61 492.44,386.87 493.67,387.13 494.9,387.37 496.12,387.61 497.35,387.85 498.58,388.08 499.81,388.3 501.03,388.51 502.26,388.72 503.49,388.92 504.72,389.11 505.94,389.3 507.17,389.47 508.4,389.65 509.62,389.81 510.85,389.97 512.08,390.12 513.31,390.26 514.53,390.4 515.76,390.53 516.99,390.65 518.22,390.77 519.44,390.88 520.67,390.99 521.9,391.09 523.13,391.19 524.35,391.28 525.58,391.36 526.81,391.44 528.03,391.52 529.26,391.59 530.49,391.66 531.72,391.72 532.94,391.78 534.17,391.83 535.4,391.89 536.63,391.93 537.85,391.98 539.08,392.02 540.31,392.06 541.54,392.09 542.76,392.13 543.99,392.16 545.22,392.19 546.44,392.21 547.67,392.24 548.9,392.26 550.13,392.28 551.35,392.3 552.58,392.32 553.81,392.34 555.04,392.35 556.26,392.37 557.49,392.38 558.72,392.39 559.95,392.4 561.17,392.41 562.4,392.42 563.63,392.43 564.85,392.43 566.08,392.44 567.31,392.45 568.54,392.45 569.76,392.46 570.99,392.46 572.22,392.47 573.45,392.47 574.67,392.47 575.9,392.48 577.13,392.48 578.35,392.48 579.58,392.48 580.81,392.48 582.04,392.49 583.26,392.49 584.49,392.49 585.72,392.49 586.95,392.49 588.17,392.49 589.4,392.49 590.63,392.49 591.86,392.49 593.08,392.5 594.31,392.5 595.54,392.5 596.76,392.5 597.99,392.5 599.22,392.5 600.45,392.5 601.67,392.5 602.9,392.5 604.13,392.5 605.36,392.5 606.58,392.5 607.81,392.5 609.04,392.5 610.27,392.5 611.49,392.5 612.72,392.5 613.95,392.5 615.17,392.5 616.4,392.5 617.63,392.5 618.86,392.5 620.08,392.5 621.31,392.5 622.54,392.5" stroke="#a82078" stroke-dasharray="2.30 2.30 6.90 2.30"/>
<polyline points="370.94,392.45 372.17,392.44 373.4,392.42 374.63,392.4 375.86,392.38 377.09,392.36 378.32,392.33 379.54,392.3 380.77,392.26 382,392.21 383.23,392.16 384.46,392.1 385.69,392.03 386.92,391.95 388.15,391.85 389.38,391.74 390.61,391.62 391.84,391.49 393.07,391.33 394.3,391.16 395.53,390.96 396.76,390.75 397.99,390.51 399.22,390.24 400.45,389.95 401.68,389.63 402.91,389.29 404.14,388.91 405.37,388.5 406.6,388.07 407.83,387.6 409.06,387.11 410.29,386.59 411.52,386.03 412.75,385.45 413.98,384.85 415.21,384.23 416.44,383.58 417.67,382.92 418.89,382.24 420.12,381.56 421.35,380.87 422.58,380.19 423.81,379.5 425.04,378.83 426.27,378.18 427.5,377.55 428.73,376.94 429.96,376.37 431.19,375.83 432.42,375.34 433.65,374.89 434.88,374.5 436.11,374.16 437.34,373.89 438.57,373.67 439.8,373.52 441.03,373.44 442.26,373.42 443.49,373.45 444.72,373.51 445.95,373.6 447.18,373.72 448.41,373.88 449.64,374.07 450.87,374.29 452.1,374.53 453.33,374.81 454.56,375.11 455.79,375.44 457.02,375.79 458.24,376.16 459.47,376.55 460.7,376.96 461.93,377.39 463.16,377.83 464.39,378.28 465.62,378.74 466.85,379.21 468.08,379.69 469.31,380.17 470.54,380.65 471.77,381.14 473,381.63 474.23,382.11 475.46,382.59 476.69,383.06 477.92,383.53 479.15,383.98 480.38,384.43 481.61,384.87 482.84,385.3 484.07,385.72 485.3,386.12 486.53,386.51 487.76,386.88 488.99,387.25 490.22,387.59 491.45,387.92 492.68,388.24 493.91,388.54 495.14,388.83 496.37,389.1 497.6,389.36 498.82,389.6 500.05,389.83 501.28,390.05 502.51,390.25 503.74,390.44 504.97,390.62 506.2,390.78 507.43,390.93 508.66,391.07 509.89,391.21 511.12,391.33 512.35,391.44 513.58,391.54 514.81,391.64 516.04,391.72 517.27,391.8 518.5,391.87 519.73,391.94 520.96,392 522.19,392.05 523.42,392.1 524.65,392.15 525.88,392.19 527.11,392.22 528.34,392.25 529.57,392.28 530.8,392.31 532.03,392.33 533.26,392.35 534.49,392.37 535.72,392.39 536.95,392.4 538.17,392.41 539.4,392.42 540.63,392.43 541.86,392.44 543.09,392.45 544.32,392.46 545.55,392.46 546.78,392.47 548.01,392.47 549.24,392.48 550.47,392.48 551.7,392.48 552.93,392.49 554.16,392.49 555.39,392.49 556.62,392.49 557.85,392.49 559.08,392.49 560.31,392.49 561.54,392.5 562.77,392.5 564,392.5 565.23,392.5 566.46,392.5 567.69,392.5 568.92,392.5 570.15,392.5 571.38,392.5 572.61,392.5 573.84,392.5 575.07,392.5 576.3,392.5 577.53,392.5 578.75,392.5 579.98,392.5 581.21,392.5 582.44,392.5 583.67,392.5 584.9,392.5 586.13,392.5 587.36,392.5 588.59,392.5 589.82,392.5 591.05,392.5 592.28,392.5 593.51,392.5 594.74,392.5 595.97,392.5 597.2,392.5 598.43,392.5 599.66,392.5 600.89,392.5 602.12,392.5 603.35,392.5 604.58,392.5 605.81,392.5 607.04,392.5 608.27,392.5 609.5,392.5 610.73,392.5 611.96,392.5 613.19,392.5 614.42,392.5 615.65,392.5" stroke="#dcc410"/>
<polyline points="370.94,392.41 372.16,392.39 373.39,392.37 374.62,392.34 375.84,392.31 377.07,392.28 378.29,392.24 379.52,392.19 380.75,392.13 381.97,392.07 383.2,392 384.42,391.92 385.65,391.83 386.88,391.73 388.1,391.61 389.33,391.48 390.55,391.33 391.78,391.17 393.01,390.98 394.23,390.78 395.46,390.56 396.68,390.32 397.91,390.05 399.14,389.77 400.36,389.45 401.59,389.11 402.82,388.75 404.04,388.36 405.27,387.95 406.49,387.51 407.72,387.05 408.95,386.56 410.17,386.05 411.4,385.52 412.62,384.97 413.85,384.4 415.08,383.82 416.3,383.23 417.53,382.62 418.75,382.02 419.98,381.41 421.21,380.8 422.43,380.2 423.66,379.61 424.89,379.04 426.11,378.49 427.34,377.96 428.56,377.46 429.79,376.99 431.02,376.57 432.24,376.18 433.47,375.83 434.69,375.54 435.92,375.29 437.15,375.1 438.37,374.97 439.6,374.88 440.82,374.86 442.05,374.88 443.28,374.92 444.5,374.98 445.73,375.08 446.96,375.19 448.18,375.34 449.41,375.5 450.63,375.69 451.86,375.9 453.09,376.14 454.31,376.39 455.54,376.66 456.76,376.96 457.99,377.26 459.22,377.59 460.44,377.93 461.67,378.28 462.89,378.65 464.12,379.02 465.35,379.41 466.57,379.8 467.8,380.2 469.02,380.6 470.25,381.01 471.48,381.42 472.7,381.83 473.93,382.24 475.16,382.65 476.38,383.06 477.61,383.46 478.83,383.86 480.06,384.26 481.29,384.65 482.51,385.03 483.74,385.4 484.96,385.76 486.19,386.12 487.42,386.46 488.64,386.8 489.87,387.12 491.09,387.43 492.32,387.74 493.55,388.03 494.77,388.31 496,388.57 497.23,388.83 498.45,389.07 499.68,389.31 500.9,389.53 502.13,389.74 503.36,389.94 504.58,390.13 505.81,390.3 507.03,390.47 508.26,390.63 509.49,390.78 510.71,390.91 511.94,391.04 513.16,391.16 514.39,391.28 515.62,391.38 516.84,391.48 518.07,391.57 519.29,391.65 520.52,391.73 521.75,391.8 522.97,391.87 524.2,391.93 525.43,391.98 526.65,392.03 527.88,392.08 529.1,392.12 530.33,392.16 531.56,392.2 532.78,392.23 534.01,392.26 535.23,392.28 536.46,392.31 537.69,392.33 538.91,392.35 540.14,392.36 541.36,392.38 542.59,392.39 543.82,392.41 545.04,392.42 546.27,392.43 547.5,392.44 548.72,392.44 549.95,392.45 551.17,392.46 552.4,392.46 553.63,392.47 554.85,392.47 556.08,392.47 557.3,392.48 558.53,392.48 559.76,392.48 560.98,392.49 562.21,392.49 563.43,392.49 564.66,392.49 565.89,392.49 567.11,392.49 568.34,392.49 569.56,392.49 570.79,392.5 572.02,392.5 573.24,392.5 574.47,392.5 575.7,392.5 576.92,392.5 578.15,392.5 579.37,392.5 580.6,392.5 581.83,392.5 583.05,392.5 584.28,392.5 585.5,392.5 586.73,392.5 587.96,392.5 589.18,392.5 590.41,392.5 591.63,392.5 592.86,392.5 594.09,392.5 595.31,392.5 596.54,392.5 597.77,392.5 598.99,392.5 600.22,392.5 601.44,392.5 602.67,392.5 603.9,392.5 605.12,392.5 606.35,392.5 607.57,392.5 608.8,392.5 610.03,392.5 611.25,392.5 612.48,392.5 613.7,392.5 614.93,392.5 616.16,392.5 617.38,392.5 618.61,392.5 619.84,392.5 621.06,392.5 622.29,392.5 623.51,392.5 624.74,392.5 625.97,392.5 627.19,392.5" stroke="#a4a4a4" stroke-dasharray="4.60 4.60"/>
<polyline points="370.94,392.43 372.17,392.43 373.4,392.42 374.63,392.42 375.86,392.41 377.08,392.4 378.31,392.38 379.54,392.37 380.77,392.35 382,392.33 383.23,392.31 384.46,392.28 385.69,392.26 386.92,392.23 388.15,392.2 389.38,392.17 390.61,392.13 391.84,392.1 393.07,392.06 394.3,392.02 395.53,391.98 396.76,391.92 397.99,391.84 399.22,391.75 400.45,391.64 401.68,391.51 402.91,391.36 404.14,391.21 405.37,391.04 406.6,390.85 407.82,390.65 409.05,390.4 410.28,390.1 411.51,389.75 412.74,389.35 413.97,388.91 415.2,388.43 416.43,387.92 417.66,387.37 418.89,386.72 420.12,385.95 421.35,385.08 422.58,384.12 423.81,383.09 425.04,382.02 426.27,380.92 427.5,379.81 428.73,378.67 429.96,377.38 431.19,376.02 432.42,374.65 433.65,373.35 434.88,372.18 436.11,371.05 437.34,369.92 438.56,368.86 439.79,367.93 441.02,367.2 442.25,366.67 443.48,366.2 444.71,365.8 445.94,365.55 447.17,365.51 448.4,365.65 449.63,365.93 450.86,366.29 452.09,366.7 453.32,367.13 454.55,367.71 455.78,368.41 457.01,369.19 458.24,370.02 459.47,370.87 460.7,371.82 461.93,372.86 463.16,373.96 464.39,375.07 465.62,376.15 466.85,377.16 468.08,378.06 469.3,378.85 470.53,379.59 471.76,380.29 472.99,380.95 474.22,381.6 475.45,382.25 476.68,382.9 477.91,383.56 479.14,384.23 480.37,384.89 481.6,385.52 482.83,386.12 484.06,386.66 485.29,387.14 486.52,387.56 487.75,387.96 488.98,388.32 490.21,388.66 491.44,388.96 492.67,389.24 493.9,389.5 495.13,389.75 496.36,389.99 497.59,390.22 498.82,390.43 500.04,390.62 501.27,390.79 502.5,390.94 503.73,391.07 504.96,391.18 506.19,391.29 507.42,391.39 508.65,391.49 509.88,391.58 511.11,391.67 512.34,391.75 513.57,391.83 514.8,391.9 516.03,391.96 517.26,392.01 518.49,392.06 519.72,392.11 520.95,392.14 522.18,392.17 523.41,392.2 524.64,392.23 525.87,392.26 527.1,392.29 528.33,392.31 529.56,392.34 530.78,392.36 532.01,392.38 533.24,392.39 534.47,392.41 535.7,392.42 536.93,392.42 538.16,392.43 539.39,392.43 540.62,392.43 541.85,392.44 543.08,392.44 544.31,392.44 545.54,392.45 546.77,392.45 548,392.45 549.23,392.45 550.46,392.46 551.69,392.46 552.92,392.46 554.15,392.46 555.38,392.47 556.61,392.47 557.84,392.47 559.07,392.47 560.29,392.47 561.52,392.48 562.75,392.48 563.98,392.48 565.21,392.48 566.44,392.48 567.67,392.48 568.9,392.48 570.13,392.49 571.36,392.49 572.59,392.49 573.82,392.49 575.05,392.49 576.28,392.49 577.51,392.49 578.74,392.49 579.97,392.49 581.2,392.5 582.43,392.5 583.66,392.5 584.89,392.5 586.12,392.5 587.35,392.5 588.58,392.5 589.81,392.5 591.03,392.5 592.26,392.5 593.49,392.5 594.72,392.5 595.95,392.5 597.18,392.5 598.41,392.5" stroke="#0a0a0a" stroke-dasharray="1.5 3.1"/>
<polyline points="370.94,392.19 372.16,392.14 373.39,392.09 374.62,392.03 375.85,391.96 377.07,391.89 378.3,391.8 379.53,391.71 380.75,391.61 381.98,391.49 383.21,391.37 384.43,391.23 385.66,391.08 386.89,390.92 388.12,390.74 389.34,390.55 390.57,390.34 391.8,390.11 393.02,389.87 394.25,389.61 395.48,389.33 396.71,389.04 397.93,388.73 399.16,388.4 400.39,388.06 401.61,387.7 402.84,387.32 404.07,386.92 405.3,386.52 406.52,386.1 407.75,385.66 408.98,385.22 410.2,384.77 411.43,384.31 412.66,383.85 413.89,383.38 415.11,382.91 416.34,382.45 417.57,381.99 418.79,381.54 420.02,381.1 421.25,380.67 422.47,380.26 423.7,379.86 424.93,379.49 426.16,379.14 427.38,378.81 428.61,378.52 429.84,378.25 431.06,378.02 432.29,377.82 433.52,377.66 434.75,377.53 435.97,377.44 437.2,377.39 438.43,377.38 439.65,377.39 440.88,377.41 442.11,377.45 443.34,377.5 444.56,377.57 445.79,377.65 447.02,377.74 448.24,377.84 449.47,377.96 450.7,378.09 451.93,378.23 453.15,378.38 454.38,378.55 455.61,378.72 456.83,378.91 458.06,379.1 459.29,379.31 460.51,379.52 461.74,379.74 462.97,379.97 464.2,380.21 465.42,380.45 466.65,380.7 467.88,380.95 469.1,381.21 470.33,381.47 471.56,381.74 472.79,382.01 474.01,382.29 475.24,382.56 476.47,382.84 477.69,383.11 478.92,383.39 480.15,383.67 481.38,383.95 482.6,384.22 483.83,384.5 485.06,384.77 486.28,385.04 487.51,385.31 488.74,385.57 489.96,385.83 491.19,386.09 492.42,386.34 493.65,386.59 494.87,386.83 496.1,387.07 497.33,387.3 498.55,387.53 499.78,387.75 501.01,387.97 502.24,388.18 503.46,388.38 504.69,388.58 505.92,388.77 507.14,388.96 508.37,389.14 509.6,389.31 510.83,389.48 512.05,389.64 513.28,389.8 514.51,389.94 515.73,390.09 516.96,390.22 518.19,390.36 519.42,390.48 520.64,390.6 521.87,390.72 523.1,390.82 524.32,390.93 525.55,391.03 526.78,391.12 528,391.21 529.23,391.29 530.46,391.37 531.69,391.45 532.91,391.52 534.14,391.59 535.37,391.65 536.59,391.71 537.82,391.77 539.05,391.82 540.28,391.87 541.5,391.92 542.73,391.96 543.96,392 545.18,392.04 546.41,392.08 547.64,392.11 548.87,392.14 550.09,392.17 551.32,392.2 552.55,392.22 553.77,392.24 555,392.26 556.23,392.28 557.46,392.3 558.68,392.32 559.91,392.34 561.14,392.35 562.36,392.36 563.59,392.38 564.82,392.39 566.04,392.4 567.27,392.41 568.5,392.41 569.73,392.42 570.95,392.43 572.18,392.44 573.41,392.44 574.63,392.45 575.86,392.45 577.09,392.46 578.32,392.46 579.54,392.47 580.77,392.47 582,392.47 583.22,392.48 584.45,392.48 585.68,392.48 586.91,392.48 588.13,392.48 589.36,392.49 590.59,392.49 591.81,392.49 593.04,392.49 594.27,392.49 595.5,392.49 596.72,392.49 597.95,392.49 599.18,392.49 600.4,392.5 601.63,392.5 602.86,392.5 604.08,392.5 605.31,392.5 606.54,392.5 607.77,392.5 608.99,392.5 610.22,392.5 611.45,392.5 612.67,392.5 613.9,392.5 615.13,392.5" stroke="#e0201c" stroke-dasharray="1.5 3.1 4.6 3.45"/>
</g>
<rect x="372" y="317.5" width="298" height="78" fill="none" stroke="#555555" stroke-width="1"/>
<line x1="368.3" y1="392.5" x2="372" y2="392.5" stroke="#555555" stroke-width="1"/>
<line x1="368.3" y1="378.1" x2="372" y2="378.1" stroke="#555555" stroke-width="1"/>
<line x1="368.3" y1="363.7" x2="372" y2="363.7" stroke="#555555" stroke-width="1"/>
<line x1="368.3" y1="349.3" x2="372" y2="349.3" stroke="#555555" stroke-width="1"/>
<line x1="368.3" y1="334.9" x2="372" y2="334.9" stroke="#555555" stroke-width="1"/>
<line x1="368.3" y1="320.5" x2="372" y2="320.5" stroke="#555555" stroke-width="1"/>
<line x1="383" y1="395.5" x2="383" y2="399" stroke="#555555" stroke-width="1"/>
<line x1="469.17" y1="395.5" x2="469.17" y2="399" stroke="#555555" stroke-width="1"/>
<line x1="555.33" y1="395.5" x2="555.33" y2="399" stroke="#555555" stroke-width="1"/>
<line x1="641.5" y1="395.5" x2="641.5" y2="399" stroke="#555555" stroke-width="1"/>
<line x1="380.8" y1="325.65" x2="394.1" y2="325.65" stroke="#d8403a" stroke-width="1.25" stroke-linecap="round" stroke-dasharray="4.60 4.60"/>
<line x1="380.8" y1="334.65" x2="394.1" y2="334.65" stroke="#24963a" stroke-width="1.25" stroke-linecap="round" stroke-dasharray="1.5 3.1"/>
<line x1="380.8" y1="343.65" x2="394.1" y2="343.65" stroke="#2c3a88" stroke-width="1.25" stroke-linecap="round" stroke-dasharray="1.5 3.1 4.6 3.45"/>
<line x1="380.8" y1="352.65" x2="394.1" y2="352.65" stroke="#38a8e0" stroke-width="1.25" stroke-linecap="round" stroke-dasharray="8.05 3.45"/>
<line x1="380.8" y1="361.65" x2="394.1" y2="361.65" stroke="#a82078" stroke-width="1.25" stroke-linecap="round" stroke-dasharray="2.30 2.30 6.90 2.30"/>
<line x1="449.9" y1="325.65" x2="463.1" y2="325.65" stroke="#dcc410" stroke-width="1.25" stroke-linecap="round"/>
<line x1="449.9" y1="334.65" x2="463.1" y2="334.65" stroke="#a4a4a4" stroke-width="1.25" stroke-linecap="round" stroke-dasharray="4.60 4.60"/>
<line x1="449.9" y1="343.65" x2="463.1" y2="343.65" stroke="#0a0a0a" stroke-width="1.25" stroke-linecap="round" stroke-dasharray="1.5 3.1"/>
<line x1="449.9" y1="352.65" x2="463.1" y2="352.65" stroke="#e0201c" stroke-width="1.25" stroke-linecap="round" stroke-dasharray="1.5 3.1 4.6 3.45"/>
</g>
<g filter="url(#blt)">
<text transform="translate(178.5,18.95) scale(1,1.03)" font-size="10.4" font-weight="bold" style="stroke-width:0.12px" text-anchor="middle">Raw</text>
<text transform="translate(22.2,107.1) scale(1,1.15)" font-size="7.3" text-anchor="end">0.0</text>
<text transform="translate(22.2,92.7) scale(1,1.15)" font-size="7.3" text-anchor="end">0.2</text>
<text transform="translate(22.2,78.3) scale(1,1.15)" font-size="7.3" text-anchor="end">0.4</text>
<text transform="translate(22.2,63.9) scale(1,1.15)" font-size="7.3" text-anchor="end">0.6</text>
<text transform="translate(22.2,49.5) scale(1,1.15)" font-size="7.3" text-anchor="end">0.8</text>
<text transform="translate(22.2,35.1) scale(1,1.15)" font-size="7.3" text-anchor="end">1.0</text>
<text transform="translate(40.5,120.6) scale(1,1.15)" font-size="7.3" text-anchor="middle">0</text>
<text transform="translate(126.67,120.6) scale(1,1.15)" font-size="7.3" text-anchor="middle">5</text>
<text transform="translate(212.83,120.6) scale(1,1.15)" font-size="7.3" text-anchor="middle">10</text>
<text transform="translate(299,120.6) scale(1,1.15)" font-size="7.3" text-anchor="middle">15</text>
<text transform="translate(178.5,134.6) scale(1,1.05)" font-size="9" text-anchor="middle">Cy3</text>
<text transform="translate(5.8,68.6) rotate(-90) scale(1,1.04)" font-size="9" text-anchor="middle">Frequency</text>
<text transform="translate(58.6,40.65) scale(1,1.15)" font-size="7.35">CA23</text>
<text transform="translate(58.6,49.65) scale(1,1.15)" font-size="7.35">LY2</text>
<text transform="translate(58.6,58.65) scale(1,1.15)" font-size="7.35">HCC1500</text>
<text transform="translate(58.6,67.65) scale(1,1.15)" font-size="7.35">MDAMB175</text>
<text transform="translate(58.6,76.65) scale(1,1.15)" font-size="7.35">SUM190PT</text>
<text transform="translate(128,40.65) scale(1,1.15)" font-size="7.35">HCC202</text>
<text transform="translate(128,49.65) scale(1,1.15)" font-size="7.35">SUM159PT</text>
<text transform="translate(128,58.65) scale(1,1.15)" font-size="7.35">MDAMB415</text>
<text transform="translate(128,67.65) scale(1,1.15)" font-size="7.35">SUM149PT</text>
<text transform="translate(521,18.95) scale(1,1.03)" font-size="10.4" font-weight="bold" style="stroke-width:0.12px" text-anchor="middle">Mean Adjusted</text>
<text transform="translate(364.7,107.1) scale(1,1.15)" font-size="7.3" text-anchor="end">0.0</text>
<text transform="translate(364.7,92.7) scale(1,1.15)" font-size="7.3" text-anchor="end">0.2</text>
<text transform="translate(364.7,78.3) scale(1,1.15)" font-size="7.3" text-anchor="end">0.4</text>
<text transform="translate(364.7,63.9) scale(1,1.15)" font-size="7.3" text-anchor="end">0.6</text>
<text transform="translate(364.7,49.5) scale(1,1.15)" font-size="7.3" text-anchor="end">0.8</text>
<text transform="translate(364.7,35.1) scale(1,1.15)" font-size="7.3" text-anchor="end">1.0</text>
<text transform="translate(383,120.6) scale(1,1.15)" font-size="7.3" text-anchor="middle">0</text>
<text transform="translate(469.17,120.6) scale(1,1.15)" font-size="7.3" text-anchor="middle">5</text>
<text transform="translate(555.33,120.6) scale(1,1.15)" font-size="7.3" text-anchor="middle">10</text>
<text transform="translate(641.5,120.6) scale(1,1.15)" font-size="7.3" text-anchor="middle">15</text>
<text transform="translate(521,134.6) scale(1,1.05)" font-size="9" text-anchor="middle">Cy3</text>
<text transform="translate(349.1,68.6) rotate(-90) scale(1,1.04)" font-size="9" text-anchor="middle">Frequency</text>
<text transform="translate(401.1,40.65) scale(1,1.15)" font-size="7.35">CA23</text>
<text transform="translate(401.1,49.65) scale(1,1.15)" font-size="7.35">LY2</text>
<text transform="translate(401.1,58.65) scale(1,1.15)" font-size="7.35">HCC1500</text>
<text transform="translate(401.1,67.65) scale(1,1.15)" font-size="7.35">MDAMB175</text>
<text transform="translate(401.1,76.65) scale(1,1.15)" font-size="7.35">SUM190PT</text>
<text transform="translate(470.5,40.65) scale(1,1.15)" font-size="7.35">HCC202</text>
<text transform="translate(470.5,49.65) scale(1,1.15)" font-size="7.35">SUM159PT</text>
<text transform="translate(470.5,58.65) scale(1,1.15)" font-size="7.35">MDAMB415</text>
<text transform="translate(470.5,67.65) scale(1,1.15)" font-size="7.35">SUM149PT</text>
<text transform="translate(178.5,162.95) scale(1,1.03)" font-size="10.4" font-weight="bold" style="stroke-width:0.12px" text-anchor="middle">Loess</text>
<text transform="translate(22.2,251.1) scale(1,1.15)" font-size="7.3" text-anchor="end">0.0</text>
<text transform="translate(22.2,236.7) scale(1,1.15)" font-size="7.3" text-anchor="end">0.2</text>
<text transform="translate(22.2,222.3) scale(1,1.15)" font-size="7.3" text-anchor="end">0.4</text>
<text transform="translate(22.2,207.9) scale(1,1.15)" font-size="7.3" text-anchor="end">0.6</text>
<text transform="translate(22.2,193.5) scale(1,1.15)" font-size="7.3" text-anchor="end">0.8</text>
<text transform="translate(22.2,179.1) scale(1,1.15)" font-size="7.3" text-anchor="end">1.0</text>
<text transform="translate(40.5,264.6) scale(1,1.15)" font-size="7.3" text-anchor="middle">0</text>
<text transform="translate(126.67,264.6) scale(1,1.15)" font-size="7.3" text-anchor="middle">5</text>
<text transform="translate(212.83,264.6) scale(1,1.15)" font-size="7.3" text-anchor="middle">10</text>
<text transform="translate(299,264.6) scale(1,1.15)" font-size="7.3" text-anchor="middle">15</text>
<text transform="translate(178.5,278.6) scale(1,1.05)" font-size="9" text-anchor="middle">Cy3</text>
<text transform="translate(5.8,212.6) rotate(-90) scale(1,1.04)" font-size="9" text-anchor="middle">Frequency</text>
<text transform="translate(58.6,184.65) scale(1,1.15)" font-size="7.35">CA23</text>
<text transform="translate(58.6,193.65) scale(1,1.15)" font-size="7.35">LY2</text>
<text transform="translate(58.6,202.65) scale(1,1.15)" font-size="7.35">HCC1500</text>
<text transform="translate(58.6,211.65) scale(1,1.15)" font-size="7.35">MDAMB175</text>
<text transform="translate(58.6,220.65) scale(1,1.15)" font-size="7.35">SUM190PT</text>
<text transform="translate(128,184.65) scale(1,1.15)" font-size="7.35">HCC202</text>
<text transform="translate(128,193.65) scale(1,1.15)" font-size="7.35">SUM159PT</text>
<text transform="translate(128,202.65) scale(1,1.15)" font-size="7.35">MDAMB415</text>
<text transform="translate(128,211.65) scale(1,1.15)" font-size="7.35">SUM149PT</text>
<text transform="translate(521,162.95) scale(1,1.03)" font-size="10.4" font-weight="bold" style="stroke-width:0.12px" text-anchor="middle">MA2C</text>
<text transform="translate(364.7,251.1) scale(1,1.15)" font-size="7.3" text-anchor="end">0.0</text>
<text transform="translate(364.7,236.7) scale(1,1.15)" font-size="7.3" text-anchor="end">0.2</text>
<text transform="translate(364.7,222.3) scale(1,1.15)" font-size="7.3" text-anchor="end">0.4</text>
<text transform="translate(364.7,207.9) scale(1,1.15)" font-size="7.3" text-anchor="end">0.6</text>
<text transform="translate(364.7,193.5) scale(1,1.15)" font-size="7.3" text-anchor="end">0.8</text>
<text transform="translate(364.7,179.1) scale(1,1.15)" font-size="7.3" text-anchor="end">1.0</text>
<text transform="translate(383,264.6) scale(1,1.15)" font-size="7.3" text-anchor="middle">0</text>
<text transform="translate(469.17,264.6) scale(1,1.15)" font-size="7.3" text-anchor="middle">5</text>
<text transform="translate(555.33,264.6) scale(1,1.15)" font-size="7.3" text-anchor="middle">10</text>
<text transform="translate(641.5,264.6) scale(1,1.15)" font-size="7.3" text-anchor="middle">15</text>
<text transform="translate(521,278.6) scale(1,1.05)" font-size="9" text-anchor="middle">Cy3</text>
<text transform="translate(349.1,212.6) rotate(-90) scale(1,1.04)" font-size="9" text-anchor="middle">Frequency</text>
<text transform="translate(401.1,184.65) scale(1,1.15)" font-size="7.35">CA23</text>
<text transform="translate(401.1,193.65) scale(1,1.15)" font-size="7.35">LY2</text>
<text transform="translate(401.1,202.65) scale(1,1.15)" font-size="7.35">HCC1500</text>
<text transform="translate(401.1,211.65) scale(1,1.15)" font-size="7.35">MDAMB175</text>
<text transform="translate(401.1,220.65) scale(1,1.15)" font-size="7.35">SUM190PT</text>
<text transform="translate(470.5,184.65) scale(1,1.15)" font-size="7.35">HCC202</text>
<text transform="translate(470.5,193.65) scale(1,1.15)" font-size="7.35">SUM159PT</text>
<text transform="translate(470.5,202.65) scale(1,1.15)" font-size="7.35">MDAMB415</text>
<text transform="translate(470.5,211.65) scale(1,1.15)" font-size="7.35">SUM149PT</text>
<text transform="translate(178.5,306.95) scale(1,1.03)" font-size="10.4" font-weight="bold" style="stroke-width:0.12px" text-anchor="middle">Quadratic</text>
<text transform="translate(22.2,395.1) scale(1,1.15)" font-size="7.3" text-anchor="end">0.0</text>
<text transform="translate(22.2,380.7) scale(1,1.15)" font-size="7.3" text-anchor="end">0.2</text>
<text transform="translate(22.2,366.3) scale(1,1.15)" font-size="7.3" text-anchor="end">0.4</text>
<text transform="translate(22.2,351.9) scale(1,1.15)" font-size="7.3" text-anchor="end">0.6</text>
<text transform="translate(22.2,337.5) scale(1,1.15)" font-size="7.3" text-anchor="end">0.8</text>
<text transform="translate(22.2,323.1) scale(1,1.15)" font-size="7.3" text-anchor="end">1.0</text>
<text transform="translate(40.5,408.6) scale(1,1.15)" font-size="7.3" text-anchor="middle">0</text>
<text transform="translate(126.67,408.6) scale(1,1.15)" font-size="7.3" text-anchor="middle">5</text>
<text transform="translate(212.83,408.6) scale(1,1.15)" font-size="7.3" text-anchor="middle">10</text>
<text transform="translate(299,408.6) scale(1,1.15)" font-size="7.3" text-anchor="middle">15</text>
<text transform="translate(178.5,422.6) scale(1,1.05)" font-size="9" text-anchor="middle">Cy3</text>
<text transform="translate(5.8,356.6) rotate(-90) scale(1,1.04)" font-size="9" text-anchor="middle">Frequency</text>
<text transform="translate(58.6,328.65) scale(1,1.15)" font-size="7.35">CA23</text>
<text transform="translate(58.6,337.65) scale(1,1.15)" font-size="7.35">LY2</text>
<text transform="translate(58.6,346.65) scale(1,1.15)" font-size="7.35">HCC1500</text>
<text transform="translate(58.6,355.65) scale(1,1.15)" font-size="7.35">MDAMB175</text>
<text transform="translate(58.6,364.65) scale(1,1.15)" font-size="7.35">SUM190PT</text>
<text transform="translate(128,328.65) scale(1,1.15)" font-size="7.35">HCC202</text>
<text transform="translate(128,337.65) scale(1,1.15)" font-size="7.35">SUM159PT</text>
<text transform="translate(128,346.65) scale(1,1.15)" font-size="7.35">MDAMB415</text>
<text transform="translate(128,355.65) scale(1,1.15)" font-size="7.35">SUM149PT</text>
<text transform="translate(521,306.95) scale(1,1.03)" font-size="10.4" font-weight="bold" style="stroke-width:0.12px" text-anchor="middle">Full</text>
<text transform="translate(364.7,395.1) scale(1,1.15)" font-size="7.3" text-anchor="end">0.0</text>
<text transform="translate(364.7,380.7) scale(1,1.15)" font-size="7.3" text-anchor="end">0.2</text>
<text transform="translate(364.7,366.3) scale(1,1.15)" font-size="7.3" text-anchor="end">0.4</text>
<text transform="translate(364.7,351.9) scale(1,1.15)" font-size="7.3" text-anchor="end">0.6</text>
<text transform="translate(364.7,337.5) scale(1,1.15)" font-size="7.3" text-anchor="end">0.8</text>
<text transform="translate(364.7,323.1) scale(1,1.15)" font-size="7.3" text-anchor="end">1.0</text>
<text transform="translate(383,408.6) scale(1,1.15)" font-size="7.3" text-anchor="middle">0</text>
<text transform="translate(469.17,408.6) scale(1,1.15)" font-size="7.3" text-anchor="middle">5</text>
<text transform="translate(555.33,408.6) scale(1,1.15)" font-size="7.3" text-anchor="middle">10</text>
<text transform="translate(641.5,408.6) scale(1,1.15)" font-size="7.3" text-anchor="middle">15</text>
<text transform="translate(521,422.6) scale(1,1.05)" font-size="9" text-anchor="middle">Cy3</text>
<text transform="translate(349.1,356.6) rotate(-90) scale(1,1.04)" font-size="9" text-anchor="middle">Frequency</text>
<text transform="translate(401.1,328.65) scale(1,1.15)" font-size="7.35">CA23</text>
<text transform="translate(401.1,337.65) scale(1,1.15)" font-size="7.35">LY2</text>
<text transform="translate(401.1,346.65) scale(1,1.15)" font-size="7.35">HCC1500</text>
<text transform="translate(401.1,355.65) scale(1,1.15)" font-size="7.35">MDAMB175</text>
<text transform="translate(401.1,364.65) scale(1,1.15)" font-size="7.35">SUM190PT</text>
<text transform="translate(470.5,328.65) scale(1,1.15)" font-size="7.35">HCC202</text>
<text transform="translate(470.5,337.65) scale(1,1.15)" font-size="7.35">SUM159PT</text>
<text transform="translate(470.5,346.65) scale(1,1.15)" font-size="7.35">MDAMB415</text>
<text transform="translate(470.5,355.65) scale(1,1.15)" font-size="7.35">SUM149PT</text>
</g>
</svg>
</body></html>
